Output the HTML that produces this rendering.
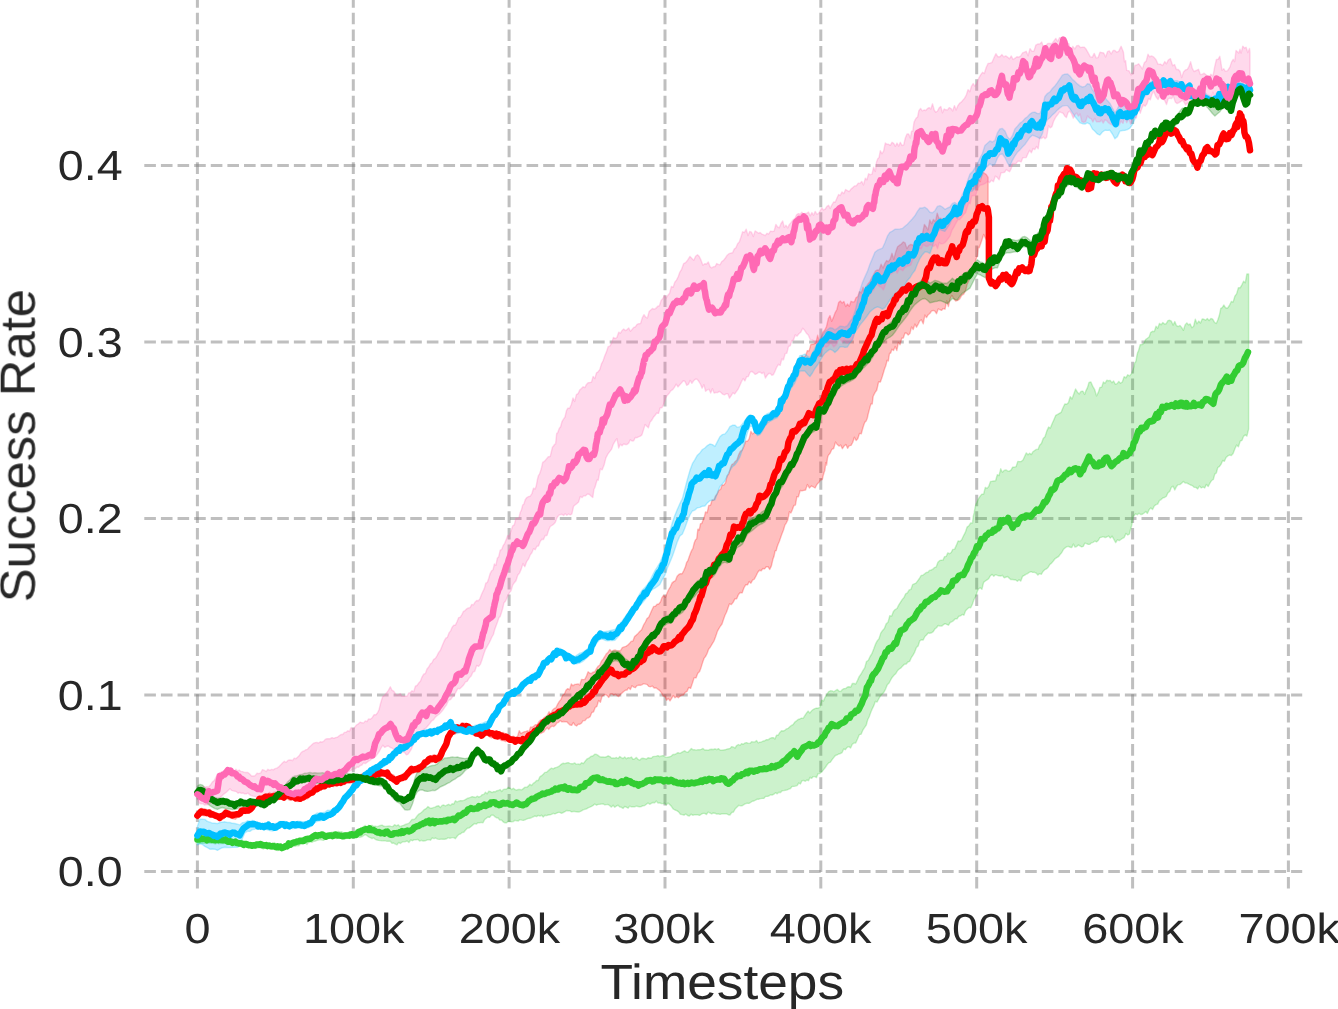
<!DOCTYPE html>
<html lang="en"><head><meta charset="utf-8"><title>Success Rate vs Timesteps</title>
<style>
html,body{margin:0;padding:0;background:#fff;}
body{width:1338px;height:1009px;overflow:hidden;font-family:"Liberation Sans",sans-serif;}
svg{display:block;}
</style></head><body>
<svg width="1338" height="1009" viewBox="0 0 1338 1009">
<rect width="1338" height="1009" fill="#ffffff"/>
<g stroke="#808080" stroke-opacity="0.5" stroke-width="3" stroke-dasharray="11.6 5.02" fill="none">
<path d="M197.4 888.6 V-8.0"/>
<path d="M353.3 888.6 V-8.0"/>
<path d="M509.1 888.6 V-8.0"/>
<path d="M665.0 888.6 V-8.0"/>
<path d="M820.8 888.6 V-8.0"/>
<path d="M976.7 888.6 V-8.0"/>
<path d="M1132.6 888.6 V-8.0"/>
<path d="M1288.4 888.6 V-8.0"/>
<path d="M144.3 871.5 H1302.2"/>
<path d="M144.3 695.0 H1302.2"/>
<path d="M144.3 518.5 H1302.2"/>
<path d="M144.3 342.0 H1302.2"/>
<path d="M144.3 165.5 H1302.2"/>
</g>
<g stroke-width="1.4" stroke-linejoin="round">
<path d="M196.3 838.7 L197.9 838.3 L199.5 837.8 L201.1 838.0 L202.7 837.6 L204.3 837.9 L205.9 838.0 L207.5 838.6 L209.2 839.5 L210.8 838.8 L212.4 839.3 L214.0 838.3 L215.6 839.7 L217.2 839.4 L218.8 838.6 L220.4 839.1 L222.0 838.6 L223.6 838.0 L225.2 839.9 L226.9 839.6 L228.5 840.0 L230.1 839.5 L231.7 839.6 L233.4 839.7 L235.1 840.1 L236.8 840.2 L238.4 840.8 L240.1 841.5 L241.8 840.5 L243.4 840.7 L245.1 841.6 L246.8 842.0 L248.4 842.0 L250.1 842.7 L251.8 842.9 L253.4 843.3 L255.1 843.7 L256.7 844.3 L258.4 842.3 L260.0 842.6 L261.6 844.5 L263.2 843.7 L264.8 843.8 L266.5 844.1 L268.1 844.5 L269.7 844.1 L271.3 844.1 L272.9 845.3 L274.6 842.6 L276.2 844.5 L277.8 845.3 L279.4 844.2 L281.0 845.7 L282.7 844.6 L284.3 845.0 L285.9 843.8 L287.5 843.8 L289.1 843.6 L290.7 842.5 L292.3 841.8 L293.9 841.7 L295.5 840.7 L297.1 841.0 L298.7 840.4 L300.4 839.4 L302.0 840.2 L303.6 838.2 L305.2 837.5 L306.9 837.5 L308.5 836.9 L310.2 835.7 L311.9 836.7 L313.5 835.2 L315.2 835.4 L316.9 834.8 L318.5 835.2 L320.2 835.0 L321.9 834.6 L323.5 833.6 L325.2 833.0 L326.9 833.4 L328.6 833.5 L330.2 832.9 L331.8 832.1 L333.4 832.1 L335.1 832.6 L336.7 831.9 L338.3 831.5 L339.9 831.9 L341.5 831.7 L343.1 832.6 L344.7 832.7 L346.3 832.7 L347.9 832.5 L349.5 831.7 L351.1 833.7 L352.8 833.7 L354.5 831.7 L356.3 829.7 L358.1 829.7 L359.9 828.7 L361.7 828.1 L363.5 826.8 L365.3 825.4 L366.9 827.0 L368.6 825.3 L370.3 826.7 L372.0 825.2 L373.6 826.5 L375.3 826.1 L377.0 826.7 L378.6 826.1 L380.3 825.5 L382.1 825.1 L383.9 826.3 L385.7 826.4 L387.5 826.1 L389.2 825.9 L391.0 826.4 L392.8 826.6 L394.6 824.7 L396.4 825.8 L398.2 824.8 L400.0 826.7 L401.8 825.8 L403.5 825.3 L405.3 824.5 L407.0 823.9 L408.7 823.4 L410.3 821.6 L412.0 819.4 L413.7 819.5 L415.4 818.5 L417.1 815.9 L418.9 814.1 L420.7 813.0 L422.5 811.5 L424.3 809.6 L426.1 808.6 L427.9 806.6 L429.7 807.9 L431.4 808.3 L433.2 807.7 L435.0 807.2 L436.8 806.1 L438.6 805.7 L440.4 807.4 L442.1 805.4 L443.7 805.0 L445.4 805.9 L447.1 805.0 L448.7 804.3 L450.4 805.5 L452.1 803.8 L453.7 804.1 L455.4 800.7 L457.1 801.9 L458.8 801.2 L460.4 800.6 L462.1 800.8 L463.8 800.4 L465.4 799.6 L467.1 798.5 L468.8 797.9 L470.4 797.4 L472.1 796.6 L473.8 797.0 L475.4 797.5 L477.1 796.2 L478.8 797.0 L480.5 796.4 L482.1 794.8 L483.8 794.4 L485.5 792.3 L487.1 793.8 L488.8 791.2 L490.5 791.6 L492.1 792.6 L493.7 791.6 L495.3 791.8 L496.9 790.7 L498.5 790.5 L500.1 789.5 L501.7 791.5 L503.4 789.4 L505.0 789.2 L506.6 789.1 L508.3 787.3 L510.0 788.1 L511.6 789.5 L513.3 788.2 L515.0 789.6 L516.6 790.1 L518.3 789.5 L519.9 789.5 L521.6 789.9 L523.3 788.6 L524.9 787.2 L526.6 787.4 L528.3 786.1 L529.9 784.2 L531.6 785.5 L533.2 783.4 L534.9 782.3 L536.6 780.5 L538.2 780.6 L539.9 776.8 L541.6 775.7 L543.2 774.3 L544.9 772.4 L546.6 772.3 L548.2 770.8 L549.9 769.2 L551.5 768.2 L553.2 768.8 L554.9 767.8 L556.5 767.4 L558.2 766.7 L559.9 765.5 L561.5 764.1 L563.2 763.2 L564.9 763.6 L566.5 763.0 L568.2 762.6 L569.8 763.4 L571.5 763.7 L573.2 763.7 L574.8 762.9 L576.5 764.4 L578.2 763.9 L579.8 764.5 L581.6 762.7 L583.4 763.6 L585.2 761.1 L587.0 759.0 L588.8 758.2 L590.8 756.5 L592.8 756.0 L594.8 754.3 L596.5 754.4 L598.1 755.4 L599.8 756.8 L601.4 757.0 L603.1 757.0 L604.8 757.2 L606.4 756.8 L608.1 755.8 L609.8 756.6 L611.4 758.1 L613.1 757.9 L614.8 758.2 L616.4 757.5 L618.1 758.5 L619.7 756.6 L621.4 757.7 L623.1 758.5 L624.7 756.9 L626.4 758.8 L628.1 757.6 L629.7 757.9 L631.4 757.0 L633.0 759.3 L634.7 758.8 L636.4 757.4 L638.0 759.3 L639.7 760.2 L641.4 758.5 L643.0 758.3 L644.7 758.6 L646.4 759.1 L648.0 757.8 L649.7 758.0 L651.3 758.2 L653.0 756.6 L654.7 756.4 L656.3 756.2 L658.0 755.6 L659.7 756.7 L661.3 755.9 L663.0 755.6 L664.7 756.7 L666.3 757.4 L668.0 757.1 L669.6 756.8 L671.3 756.1 L673.0 754.4 L674.6 754.5 L676.3 753.7 L678.0 752.6 L679.6 753.4 L681.3 752.6 L682.9 751.7 L684.6 750.8 L686.3 751.9 L687.9 752.3 L689.6 750.4 L691.3 748.6 L692.9 749.7 L694.6 749.7 L696.3 750.2 L697.9 749.7 L699.6 749.8 L701.3 749.3 L703.0 748.5 L704.7 750.0 L706.4 750.0 L708.1 750.3 L709.8 749.5 L711.6 749.3 L713.3 749.5 L715.0 748.8 L716.7 749.7 L718.4 748.6 L720.1 750.0 L721.8 750.2 L723.5 750.0 L725.2 749.8 L726.9 749.1 L728.6 748.8 L730.2 748.3 L731.8 746.6 L733.5 747.2 L735.1 748.0 L736.7 745.5 L738.4 744.5 L740.0 745.4 L741.6 743.6 L743.3 744.3 L744.9 743.0 L746.6 742.6 L748.2 743.4 L749.9 743.4 L751.6 741.8 L753.2 741.9 L754.9 741.9 L756.6 740.6 L758.2 742.9 L759.9 742.1 L761.5 741.9 L763.2 741.0 L764.9 740.7 L766.5 739.6 L768.2 739.7 L769.9 738.4 L771.5 737.8 L773.2 737.6 L774.9 739.1 L776.5 735.2 L778.2 735.2 L779.8 732.5 L781.5 730.8 L783.2 731.0 L784.8 730.3 L786.5 728.9 L788.2 728.3 L789.8 726.8 L791.5 725.4 L793.1 724.6 L794.8 722.1 L796.5 720.9 L798.1 719.5 L799.8 719.0 L801.5 718.1 L803.1 718.4 L804.8 715.7 L806.5 713.1 L808.1 711.1 L809.8 713.0 L811.4 711.1 L813.1 709.6 L814.8 708.7 L816.4 708.1 L818.1 708.2 L819.8 707.4 L821.6 700.1 L823.4 701.1 L825.1 697.3 L826.9 694.3 L828.7 691.6 L830.5 690.8 L832.2 690.9 L833.9 691.8 L835.6 690.5 L837.3 689.4 L839.0 691.1 L840.7 691.4 L842.4 689.5 L844.0 688.6 L845.7 688.5 L847.4 687.0 L849.0 686.8 L850.7 687.1 L852.4 683.4 L854.0 683.5 L855.7 684.0 L857.5 680.4 L859.3 676.4 L861.1 674.0 L862.9 670.7 L864.7 667.9 L866.5 661.5 L868.3 660.4 L870.1 656.5 L871.9 653.7 L873.7 649.1 L875.4 644.4 L877.2 640.9 L879.0 638.8 L880.8 633.1 L882.6 630.4 L884.4 628.6 L886.2 623.8 L888.0 622.3 L889.8 615.7 L891.6 616.2 L893.4 611.4 L895.2 609.5 L897.0 608.5 L898.8 604.9 L900.6 602.1 L902.3 599.4 L904.0 597.5 L905.7 593.8 L907.4 592.9 L909.2 589.9 L910.9 589.4 L912.6 584.7 L914.3 583.8 L916.0 583.1 L917.7 580.8 L919.4 578.5 L921.1 575.5 L922.8 575.3 L924.6 573.9 L926.2 572.5 L927.9 572.3 L929.5 570.4 L931.2 570.0 L932.9 569.2 L934.5 567.6 L936.2 566.9 L937.9 562.2 L939.5 560.7 L941.2 560.1 L942.8 560.4 L944.5 556.8 L946.2 556.4 L947.8 552.9 L949.5 553.7 L951.2 552.5 L952.8 549.4 L954.5 549.4 L956.3 545.4 L958.1 540.9 L959.9 541.5 L961.7 539.7 L963.5 535.8 L965.3 532.4 L967.1 527.1 L968.9 525.7 L970.7 523.0 L972.5 522.9 L973.3 516.3 L974.2 512.7 L975.0 508.0 L975.9 504.3 L976.8 502.6 L978.5 498.8 L980.2 496.1 L981.9 494.1 L983.6 494.1 L985.3 487.4 L987.0 488.4 L988.7 486.4 L990.5 481.5 L992.2 481.3 L993.9 481.0 L995.6 480.8 L997.3 474.7 L999.0 475.6 L1000.7 468.8 L1002.4 472.2 L1004.1 470.4 L1005.9 469.9 L1007.6 470.9 L1009.3 471.2 L1011.0 470.1 L1012.7 467.1 L1014.4 467.2 L1016.1 466.6 L1017.8 461.4 L1019.5 461.6 L1021.2 461.5 L1023.0 460.0 L1024.7 456.2 L1026.3 452.9 L1028.0 454.8 L1029.7 453.3 L1031.3 454.6 L1033.0 451.7 L1034.7 450.5 L1036.3 449.4 L1038.0 449.4 L1039.6 445.2 L1041.4 443.4 L1043.2 438.6 L1045.0 436.7 L1046.8 431.1 L1048.6 427.1 L1050.4 428.1 L1052.2 423.5 L1054.0 419.5 L1055.8 415.3 L1057.6 414.4 L1059.4 413.3 L1061.2 412.3 L1063.0 407.8 L1064.8 404.0 L1066.6 404.3 L1068.4 402.7 L1070.2 396.7 L1072.0 399.0 L1073.8 394.1 L1075.6 389.0 L1077.4 392.2 L1079.2 393.9 L1081.0 391.5 L1082.8 391.1 L1084.6 394.4 L1086.0 390.6 L1087.5 387.6 L1089.0 382.4 L1090.9 382.0 L1092.8 386.4 L1094.7 389.7 L1096.5 395.9 L1098.2 392.7 L1099.9 387.5 L1101.7 387.1 L1103.4 382.0 L1105.1 383.2 L1106.8 380.3 L1108.5 380.7 L1110.2 380.4 L1111.9 382.7 L1113.6 381.0 L1115.3 384.3 L1117.1 383.7 L1118.8 381.4 L1120.5 383.3 L1122.3 382.0 L1124.1 376.7 L1125.9 377.8 L1127.7 374.8 L1129.5 375.9 L1131.7 373.5 L1134.0 366.8 L1134.7 362.9 L1135.4 362.5 L1136.2 360.1 L1136.9 355.6 L1137.7 352.3 L1138.4 351.2 L1140.2 344.8 L1142.0 344.6 L1143.8 343.5 L1145.6 339.5 L1147.4 338.3 L1149.1 337.0 L1150.8 332.3 L1152.6 331.3 L1154.3 331.6 L1156.0 326.3 L1157.7 328.2 L1159.4 323.4 L1161.1 324.8 L1162.8 322.6 L1164.5 324.1 L1166.2 323.7 L1168.0 320.6 L1169.7 320.3 L1171.4 321.2 L1173.1 325.1 L1174.8 321.6 L1176.5 325.7 L1178.2 326.5 L1179.9 325.5 L1181.6 327.4 L1183.4 330.3 L1185.1 324.9 L1186.8 322.9 L1188.5 324.8 L1190.2 324.0 L1191.9 327.7 L1193.6 326.3 L1195.3 319.3 L1197.0 323.7 L1198.8 321.1 L1200.5 323.0 L1202.2 319.0 L1203.9 319.3 L1205.6 320.2 L1207.3 318.5 L1209.1 320.6 L1210.9 318.5 L1212.7 319.1 L1214.5 322.4 L1216.3 323.5 L1217.8 320.0 L1219.3 315.6 L1220.8 308.3 L1222.3 307.6 L1223.8 305.0 L1225.6 307.8 L1227.5 308.2 L1229.4 305.5 L1231.3 301.5 L1233.1 302.1 L1234.9 296.1 L1236.6 293.9 L1238.4 287.8 L1240.2 287.8 L1241.9 284.8 L1243.6 281.2 L1245.3 282.7 L1246.9 274.0 L1248.6 273.9 L1248.6 429.2 L1246.9 436.1 L1245.3 434.9 L1243.6 436.3 L1241.9 440.4 L1240.2 441.2 L1238.4 446.7 L1236.6 445.1 L1234.9 448.7 L1233.1 453.5 L1231.3 455.6 L1229.5 455.0 L1227.8 455.9 L1226.1 457.5 L1224.4 461.3 L1222.7 460.5 L1221.0 464.4 L1219.3 466.7 L1217.8 467.5 L1216.3 473.0 L1214.8 474.1 L1213.3 479.5 L1211.6 480.5 L1209.9 483.2 L1208.2 486.5 L1206.4 484.4 L1204.7 487.9 L1203.0 487.0 L1201.3 487.9 L1199.5 486.0 L1197.7 488.9 L1195.9 487.4 L1194.1 487.3 L1192.3 485.6 L1190.5 485.0 L1188.7 484.0 L1186.9 483.1 L1185.1 483.1 L1183.4 481.6 L1181.6 483.2 L1179.9 484.6 L1178.2 484.6 L1176.5 486.5 L1174.8 490.0 L1173.1 486.2 L1171.4 487.3 L1169.7 491.5 L1168.0 492.7 L1166.2 496.5 L1164.5 497.5 L1162.8 497.9 L1161.1 499.6 L1159.4 500.6 L1157.7 504.1 L1156.0 504.6 L1154.3 506.0 L1152.6 509.5 L1150.8 507.9 L1149.1 509.8 L1147.4 513.4 L1145.7 511.6 L1144.1 513.0 L1142.4 514.2 L1140.7 514.5 L1139.0 513.2 L1137.3 514.7 L1135.6 513.8 L1134.0 515.8 L1133.1 516.4 L1132.2 523.0 L1131.3 527.1 L1130.4 529.7 L1129.5 533.9 L1127.8 535.0 L1126.0 533.4 L1124.3 537.3 L1122.6 538.3 L1120.9 539.5 L1119.2 540.6 L1117.5 539.8 L1115.7 542.6 L1113.9 539.3 L1112.1 536.2 L1110.3 538.1 L1108.5 536.0 L1106.8 537.0 L1105.1 537.6 L1103.4 536.6 L1101.7 537.2 L1099.9 537.7 L1098.2 540.5 L1096.5 541.9 L1094.9 541.1 L1093.2 542.3 L1091.5 542.8 L1089.9 544.3 L1088.2 544.4 L1086.5 543.6 L1084.9 543.1 L1083.2 546.4 L1081.6 546.9 L1079.9 545.8 L1078.3 544.9 L1076.7 546.6 L1075.0 547.1 L1073.4 544.0 L1071.8 547.5 L1070.2 547.3 L1068.5 546.4 L1066.9 546.6 L1065.3 547.8 L1063.6 549.2 L1061.8 552.5 L1060.1 554.5 L1058.4 556.7 L1056.7 557.7 L1055.0 558.8 L1053.3 561.0 L1051.6 563.1 L1049.9 564.4 L1048.2 567.2 L1046.4 568.9 L1044.7 569.7 L1043.0 571.5 L1041.3 574.3 L1039.6 573.6 L1037.9 575.1 L1036.2 573.1 L1034.5 572.3 L1032.8 572.4 L1031.1 571.7 L1029.3 572.3 L1027.6 573.6 L1025.9 574.3 L1024.2 575.4 L1022.5 576.4 L1020.8 581.1 L1019.1 579.8 L1017.4 581.2 L1015.7 580.0 L1014.0 579.7 L1012.4 579.5 L1010.7 579.5 L1009.0 577.9 L1007.4 576.5 L1005.7 577.3 L1004.1 577.7 L1002.4 575.3 L1000.7 576.0 L999.0 575.9 L997.3 575.3 L995.6 574.6 L993.8 576.3 L992.1 574.4 L990.4 575.7 L988.7 578.7 L987.0 579.9 L985.3 581.0 L983.6 582.4 L981.9 589.3 L980.2 587.8 L978.4 589.0 L977.2 591.8 L976.0 596.0 L974.9 597.8 L973.7 600.2 L972.5 603.9 L970.7 607.7 L969.0 607.4 L967.3 609.1 L965.6 610.8 L963.9 615.2 L962.2 614.4 L960.5 615.9 L958.8 616.2 L957.1 618.8 L955.3 618.8 L953.6 620.6 L951.9 621.8 L950.2 622.4 L948.5 625.2 L946.8 624.4 L945.1 623.7 L943.4 624.7 L941.7 626.1 L939.9 626.1 L938.2 625.5 L936.5 627.7 L934.9 628.9 L933.2 631.7 L931.5 632.8 L929.9 633.2 L928.2 633.0 L926.5 635.0 L924.9 636.5 L923.2 640.0 L921.6 639.7 L919.8 640.8 L918.1 646.0 L916.4 647.5 L914.7 652.1 L913.0 655.2 L911.3 657.7 L909.6 661.4 L907.9 662.0 L906.2 664.0 L904.4 664.2 L902.7 665.9 L901.0 667.9 L899.3 669.0 L897.6 670.5 L895.9 673.4 L894.2 675.1 L892.5 676.9 L890.8 679.7 L889.1 683.0 L887.3 684.7 L885.6 689.1 L883.9 692.2 L882.2 694.0 L880.5 695.9 L878.8 698.7 L877.1 702.0 L875.4 701.3 L873.7 705.9 L872.2 708.9 L870.7 712.5 L869.2 716.7 L867.7 719.7 L866.2 725.2 L864.7 727.3 L862.9 730.0 L861.1 734.2 L859.3 734.7 L857.5 739.0 L855.7 743.0 L854.0 743.1 L852.3 744.3 L850.6 748.0 L848.8 746.6 L847.1 747.4 L845.4 749.7 L843.7 749.0 L842.0 752.7 L840.4 753.5 L838.7 754.0 L837.1 754.9 L835.4 755.5 L833.7 757.6 L832.1 759.7 L830.4 762.2 L828.7 762.9 L826.9 765.0 L825.1 767.8 L823.4 769.9 L821.6 772.0 L819.8 773.6 L818.1 773.6 L816.5 777.6 L814.9 776.6 L813.3 776.6 L811.7 778.3 L810.1 777.3 L808.5 780.7 L806.9 780.0 L805.3 781.3 L803.6 780.4 L802.0 780.7 L800.4 784.0 L798.8 783.0 L797.1 785.6 L795.5 786.1 L793.8 786.4 L792.1 786.4 L790.5 788.5 L788.8 789.1 L787.2 789.9 L785.5 790.2 L783.8 790.6 L782.2 790.7 L780.5 792.5 L778.8 792.3 L777.2 793.8 L775.5 792.7 L773.9 794.2 L772.2 795.0 L770.5 794.8 L768.9 796.0 L767.2 796.4 L765.5 796.4 L763.9 798.4 L762.2 798.4 L760.5 798.6 L758.9 799.2 L757.2 799.2 L755.6 800.1 L753.9 801.0 L752.2 801.2 L750.6 802.5 L748.9 803.4 L747.2 803.2 L745.6 803.6 L743.9 804.6 L742.2 805.8 L740.6 805.8 L738.9 805.3 L737.1 807.0 L735.3 808.7 L733.5 812.0 L731.7 812.5 L729.9 815.1 L728.3 814.7 L726.6 813.8 L725.0 813.9 L723.3 813.9 L721.6 813.9 L720.0 814.4 L718.3 813.8 L716.6 814.1 L715.0 813.2 L713.3 813.0 L711.6 813.8 L709.8 812.8 L708.1 812.1 L706.4 814.5 L704.7 813.4 L703.0 813.4 L701.3 814.2 L699.6 815.4 L697.9 814.9 L696.2 814.9 L694.4 814.9 L692.7 815.2 L691.0 814.2 L689.3 816.0 L687.6 815.5 L685.8 814.0 L684.0 815.2 L682.2 814.6 L680.4 814.3 L678.6 811.9 L676.8 810.7 L675.0 810.0 L673.2 809.0 L671.4 806.3 L669.6 804.6 L668.0 803.1 L666.3 804.9 L664.7 803.2 L663.0 803.6 L661.3 803.5 L659.7 802.9 L658.0 803.1 L656.3 801.1 L654.7 802.7 L653.0 802.5 L651.3 803.3 L649.7 804.3 L648.0 803.0 L646.4 804.2 L644.7 805.5 L643.0 805.7 L641.4 806.5 L639.7 806.9 L638.0 806.5 L636.4 806.1 L634.7 806.8 L633.0 806.9 L631.4 806.8 L629.7 806.1 L628.1 808.2 L626.4 807.2 L624.7 806.5 L623.1 808.4 L621.4 807.3 L619.7 806.9 L618.1 805.2 L616.4 806.0 L614.8 807.2 L613.1 805.2 L611.4 807.1 L609.8 805.8 L608.1 804.5 L606.4 804.6 L604.8 804.8 L603.1 803.9 L601.4 804.1 L599.8 804.3 L598.1 804.4 L596.5 805.2 L594.8 804.0 L593.1 805.4 L591.5 806.4 L589.8 807.2 L588.1 807.8 L586.5 808.9 L584.8 809.3 L583.1 809.8 L581.5 810.9 L579.8 811.7 L578.2 812.0 L576.5 811.9 L574.8 811.5 L573.2 811.5 L571.5 811.9 L569.8 810.7 L568.2 810.8 L566.5 810.5 L564.9 811.7 L563.2 812.5 L561.5 813.3 L559.9 812.4 L558.2 812.4 L556.5 813.2 L554.9 813.9 L553.2 813.3 L551.5 814.3 L549.9 814.9 L548.2 815.0 L546.6 815.6 L544.9 815.3 L543.2 816.9 L541.6 815.2 L539.9 816.1 L538.2 815.4 L536.6 816.6 L534.9 816.0 L533.2 816.8 L531.6 817.6 L529.9 818.3 L528.3 818.4 L526.6 819.1 L524.9 819.9 L523.3 820.4 L521.6 820.1 L519.9 819.6 L518.3 821.0 L516.6 820.8 L515.0 820.3 L513.3 821.6 L511.6 821.9 L510.0 821.5 L508.3 821.3 L506.6 822.8 L505.0 822.8 L503.3 822.0 L501.5 820.1 L499.8 820.1 L498.1 818.0 L496.4 817.7 L494.7 816.6 L493.0 815.1 L491.3 815.2 L489.6 817.4 L488.0 817.0 L486.3 818.3 L484.6 819.6 L483.0 822.8 L481.3 822.4 L479.6 822.7 L477.9 822.7 L476.3 824.1 L474.6 823.5 L472.9 824.9 L471.1 826.4 L469.2 827.9 L467.3 828.3 L465.4 830.3 L463.8 832.2 L462.1 832.5 L460.4 834.0 L458.8 834.4 L457.1 836.3 L455.4 838.7 L453.6 837.6 L451.8 837.6 L450.0 838.3 L448.3 837.6 L446.5 838.8 L444.7 839.2 L442.9 839.3 L441.1 839.1 L439.3 839.4 L437.5 839.1 L435.7 838.0 L434.0 838.6 L432.2 838.0 L430.4 840.2 L428.6 839.6 L426.8 840.2 L425.0 840.8 L423.2 841.0 L421.4 840.3 L419.6 841.1 L417.9 839.4 L416.1 839.8 L414.3 839.7 L412.5 840.7 L410.7 840.0 L408.9 842.5 L407.1 841.0 L405.3 841.7 L403.7 841.6 L402.0 842.2 L400.3 843.5 L398.7 842.4 L397.0 844.8 L395.3 844.1 L393.7 843.0 L392.0 843.3 L390.3 841.2 L388.6 841.3 L387.0 841.3 L385.3 840.8 L383.6 840.9 L382.0 840.8 L380.3 840.6 L378.6 840.4 L377.0 840.0 L375.3 839.3 L373.6 837.9 L372.0 838.5 L370.3 837.7 L368.6 836.9 L366.9 835.5 L365.3 834.7 L363.5 835.6 L361.7 836.8 L359.9 837.2 L358.1 837.1 L356.3 837.0 L354.5 837.1 L352.8 838.1 L351.1 837.3 L349.5 838.5 L347.9 838.0 L346.3 838.4 L344.7 839.0 L343.1 838.7 L341.5 837.6 L339.9 837.5 L338.3 836.9 L336.7 838.6 L335.1 838.0 L333.4 837.7 L331.8 838.5 L330.2 837.3 L328.6 838.1 L326.9 838.4 L325.2 839.1 L323.5 840.4 L321.9 840.1 L320.2 839.6 L318.5 840.0 L316.9 840.4 L315.2 841.2 L313.5 841.3 L311.9 842.4 L310.2 841.3 L308.5 842.0 L306.9 844.5 L305.2 842.1 L303.6 843.3 L302.0 844.1 L300.4 844.3 L298.7 845.9 L297.1 845.5 L295.5 846.2 L293.9 846.3 L292.3 846.6 L290.7 847.3 L289.1 847.5 L287.5 847.1 L285.9 849.3 L284.3 849.6 L282.7 849.7 L281.0 849.5 L279.4 848.4 L277.8 850.5 L276.2 849.3 L274.6 849.8 L272.9 848.1 L271.3 848.7 L269.7 848.3 L268.1 847.6 L266.5 847.7 L264.8 847.7 L263.2 849.1 L261.6 847.6 L260.0 847.9 L258.4 847.6 L256.7 848.3 L255.1 847.6 L253.4 846.8 L251.8 847.0 L250.1 847.5 L248.4 846.5 L246.8 846.9 L245.1 845.8 L243.4 846.8 L241.8 844.3 L240.1 845.7 L238.4 845.1 L236.8 844.5 L235.1 844.0 L233.4 844.3 L231.7 844.3 L230.1 843.1 L228.5 842.8 L226.9 844.4 L225.2 842.8 L223.6 843.6 L222.0 843.6 L220.4 843.5 L218.8 843.8 L217.2 842.7 L215.6 844.0 L214.0 843.5 L212.4 842.4 L210.8 843.3 L209.2 843.0 L207.5 843.2 L205.9 843.4 L204.3 843.3 L202.7 843.4 L201.1 843.2 L199.5 843.9 L197.9 843.0 L196.3 843.1 Z" fill="#32cd32" fill-opacity="0.25" stroke="#32cd32" stroke-opacity="0.25"/>
<path d="M197.4 812.3 L199.4 810.0 L201.4 808.2 L203.4 809.1 L205.4 808.9 L207.4 810.2 L209.4 810.3 L211.4 810.5 L213.4 812.1 L215.4 812.5 L217.4 813.3 L219.4 814.2 L221.4 813.3 L223.4 811.9 L225.4 809.4 L227.4 810.9 L229.4 810.8 L231.4 812.2 L233.4 812.0 L235.4 812.2 L237.4 811.4 L239.4 810.8 L241.4 809.0 L243.4 807.1 L245.4 807.3 L247.4 807.4 L249.4 806.0 L251.4 805.7 L253.4 801.5 L255.4 799.9 L257.4 798.6 L259.4 797.0 L261.4 795.9 L263.4 794.9 L265.4 793.9 L267.4 794.4 L269.4 792.4 L271.4 794.1 L273.4 792.5 L275.4 792.0 L277.4 792.9 L279.4 792.3 L281.4 792.4 L283.4 793.7 L285.4 792.7 L287.4 792.6 L289.4 792.5 L291.4 793.8 L293.4 794.1 L295.4 793.9 L297.4 794.6 L299.4 795.3 L301.4 794.7 L303.4 794.0 L305.4 793.3 L307.4 791.8 L309.4 790.0 L311.4 788.8 L313.4 786.2 L315.4 786.0 L317.4 784.8 L319.4 783.9 L321.4 782.9 L323.4 782.5 L325.4 781.5 L327.4 780.7 L329.4 780.0 L331.4 781.1 L333.4 779.5 L335.4 779.8 L337.4 779.8 L339.4 778.6 L341.4 778.9 L343.4 777.3 L345.4 776.9 L347.4 777.6 L349.4 776.7 L351.4 775.6 L353.4 776.3 L355.4 775.3 L357.4 775.8 L359.4 775.2 L361.4 774.1 L363.4 773.2 L365.4 774.5 L367.4 774.2 L369.4 772.9 L371.4 772.3 L373.4 771.2 L375.4 771.7 L377.4 771.3 L379.4 769.9 L381.4 769.5 L383.4 770.1 L385.4 770.3 L387.4 771.0 L389.4 772.5 L391.4 774.2 L393.4 774.8 L395.4 777.3 L397.4 776.4 L399.4 776.4 L401.4 774.7 L403.4 773.3 L405.4 772.6 L407.4 769.6 L409.4 768.6 L411.4 766.8 L413.4 767.2 L415.4 766.9 L417.4 765.7 L419.4 764.7 L421.4 763.7 L423.4 761.3 L425.4 759.4 L427.4 758.0 L429.4 755.8 L431.4 756.0 L433.4 754.8 L435.4 755.1 L437.4 754.9 L439.4 754.3 L441.4 750.5 L443.4 746.3 L445.4 742.6 L447.4 737.3 L449.4 732.0 L451.4 729.6 L453.4 726.8 L455.4 727.2 L457.4 726.6 L459.4 725.5 L461.4 722.9 L463.4 722.9 L465.4 723.4 L467.4 724.5 L469.4 724.9 L471.4 726.2 L473.4 728.3 L475.4 729.7 L477.4 730.4 L479.4 730.8 L481.4 730.3 L483.4 729.9 L485.4 728.9 L487.4 728.8 L489.4 729.5 L491.4 731.4 L493.4 731.7 L495.4 732.1 L497.4 732.6 L499.4 733.1 L501.4 733.2 L503.4 732.5 L505.4 734.6 L507.4 735.2 L509.4 735.9 L511.4 737.0 L513.4 736.2 L515.4 737.5 L517.4 736.9 L519.2 730.7 L520.9 733.6 L522.5 732.6 L524.1 731.8 L525.7 731.6 L527.3 730.8 L528.9 731.8 L530.6 726.9 L532.2 727.2 L533.9 726.1 L535.6 724.6 L537.2 724.8 L538.9 721.7 L540.6 719.9 L542.2 721.8 L543.9 717.7 L545.6 716.5 L547.3 715.4 L549.0 711.7 L550.7 714.2 L552.4 710.3 L554.2 708.6 L555.9 707.7 L557.6 704.3 L559.3 701.4 L561.0 699.4 L562.7 695.1 L564.4 694.1 L566.1 690.0 L567.8 688.6 L569.6 689.7 L571.3 684.0 L573.0 685.7 L574.7 684.4 L576.4 684.3 L578.1 683.9 L579.8 685.0 L581.5 679.4 L583.1 679.6 L584.8 679.4 L586.5 676.0 L588.1 671.8 L589.8 673.2 L591.5 673.6 L593.1 672.1 L594.8 671.8 L596.5 668.6 L598.1 666.2 L599.8 665.0 L601.4 661.3 L603.1 659.1 L604.8 656.5 L606.4 653.7 L608.1 652.2 L609.8 649.5 L611.6 651.8 L613.4 650.5 L615.1 649.9 L616.9 650.9 L618.7 650.7 L620.5 650.7 L622.3 647.6 L624.1 646.9 L625.9 646.3 L627.7 645.2 L629.4 643.6 L631.1 641.4 L632.9 641.0 L634.6 636.5 L636.3 635.1 L638.0 633.4 L639.7 631.5 L641.6 629.7 L643.5 625.2 L645.4 622.0 L647.0 618.6 L648.7 617.3 L650.4 613.5 L652.0 609.8 L653.7 606.4 L655.4 606.3 L657.1 604.3 L658.7 604.0 L660.4 602.0 L662.1 597.3 L663.7 595.2 L665.4 597.2 L667.1 593.0 L668.7 589.5 L670.4 586.8 L672.1 582.9 L673.7 581.6 L675.4 580.7 L677.1 576.2 L678.8 574.5 L680.4 573.7 L682.1 573.8 L683.8 570.5 L685.4 566.7 L686.7 562.3 L687.9 560.6 L689.2 556.7 L690.4 553.4 L691.7 550.4 L692.9 548.4 L694.2 543.0 L695.4 540.0 L696.7 538.8 L697.9 529.1 L699.2 530.1 L700.5 523.7 L701.7 523.6 L703.0 520.2 L704.2 517.4 L705.5 511.9 L707.1 512.8 L708.8 505.4 L710.5 505.2 L712.1 500.0 L713.8 500.0 L715.5 496.0 L717.1 493.9 L718.8 490.4 L720.5 489.4 L722.1 484.9 L723.8 485.1 L725.5 482.9 L727.1 475.9 L728.7 474.0 L730.4 468.1 L732.0 464.3 L733.6 463.7 L735.2 461.5 L736.9 460.0 L738.5 455.1 L740.3 451.4 L742.1 450.2 L743.9 446.5 L745.7 441.2 L747.5 441.2 L749.2 438.7 L750.9 431.4 L752.6 433.9 L754.3 432.4 L756.0 432.5 L757.8 426.2 L759.5 426.4 L761.2 423.6 L762.9 425.7 L764.6 420.3 L766.3 424.4 L768.0 417.4 L769.7 418.3 L771.4 414.2 L773.2 413.4 L775.0 410.7 L776.8 409.6 L778.6 406.6 L780.4 402.8 L782.2 397.7 L784.0 397.4 L785.8 389.4 L787.6 389.1 L789.4 383.8 L790.7 384.0 L792.0 377.0 L793.3 370.3 L794.5 370.5 L795.8 364.1 L797.1 362.7 L798.4 366.7 L800.2 360.1 L802.0 355.8 L803.8 357.3 L805.6 355.7 L807.4 350.6 L809.1 350.9 L810.8 344.6 L812.5 344.3 L814.2 343.8 L815.9 342.8 L817.6 335.3 L819.3 341.4 L821.1 338.6 L822.9 332.3 L824.7 330.2 L826.5 326.5 L828.3 318.7 L830.0 315.6 L831.7 321.2 L833.5 317.1 L835.2 312.6 L836.9 309.5 L838.6 302.6 L840.3 301.1 L842.1 303.0 L843.9 301.5 L845.7 306.5 L847.5 303.9 L849.3 306.3 L851.0 301.3 L852.7 301.9 L854.4 301.8 L856.1 297.5 L857.8 296.6 L859.5 291.6 L861.3 292.9 L863.0 287.3 L864.7 292.9 L866.4 286.4 L868.2 283.7 L869.9 281.6 L871.8 277.7 L873.6 274.6 L875.5 270.9 L877.4 270.0 L879.2 269.9 L881.1 264.2 L883.0 268.0 L884.9 263.3 L886.6 260.6 L888.4 261.7 L890.2 259.0 L892.0 253.3 L893.8 259.3 L895.7 252.0 L897.6 246.7 L899.4 245.4 L901.3 244.0 L903.2 241.9 L905.1 242.9 L906.9 248.6 L908.8 245.5 L910.8 244.4 L912.8 245.0 L914.8 248.7 L916.8 248.3 L918.8 240.4 L920.8 236.4 L922.6 233.1 L924.4 224.4 L926.2 226.9 L928.0 230.0 L929.8 219.9 L931.6 223.6 L933.5 219.4 L935.4 221.8 L937.2 213.2 L939.1 218.7 L941.0 218.3 L942.9 220.9 L944.7 219.3 L946.6 218.9 L948.5 217.4 L950.3 213.1 L952.2 210.4 L954.1 207.7 L956.0 210.9 L957.8 207.4 L959.7 206.9 L961.6 203.5 L963.4 202.7 L965.3 199.3 L967.2 197.0 L969.1 189.9 L970.9 188.9 L972.8 188.6 L974.7 185.3 L976.5 184.9 L978.4 178.3 L980.3 181.6 L982.2 171.7 L984.2 173.2 L986.1 174.3 L988.1 177.4 L988.1 241.8 L985.9 239.1 L983.7 234.5 L981.4 241.5 L979.2 247.8 L978.3 247.3 L977.4 255.9 L976.5 257.8 L975.6 260.4 L974.7 265.6 L973.9 265.9 L973.2 268.9 L972.4 272.5 L971.7 274.8 L970.2 277.9 L968.7 280.9 L967.2 284.2 L965.7 290.2 L963.7 294.1 L961.7 295.3 L959.7 299.0 L957.7 300.4 L955.7 301.0 L953.8 298.6 L951.8 295.5 L950.1 298.9 L948.4 306.5 L946.7 300.8 L945.0 309.2 L943.2 308.6 L941.5 310.4 L939.8 309.6 L938.2 309.0 L936.5 313.7 L934.8 311.1 L933.2 310.4 L931.5 311.1 L929.8 313.5 L928.2 314.7 L926.5 317.6 L924.9 315.1 L923.2 323.8 L921.5 320.0 L919.9 320.6 L918.2 324.1 L916.5 327.2 L914.9 324.1 L913.2 329.5 L911.5 327.1 L909.9 333.6 L908.2 335.1 L906.6 333.3 L905.0 333.0 L903.3 338.0 L901.7 338.3 L900.1 344.7 L898.4 342.6 L896.8 350.5 L895.2 346.4 L893.5 350.5 L891.9 349.2 L890.7 353.0 L889.5 353.5 L888.3 361.0 L887.1 360.3 L885.9 365.4 L884.6 368.8 L883.4 372.8 L882.2 376.7 L880.4 382.0 L878.6 381.9 L876.8 390.0 L875.0 392.6 L873.2 396.2 L872.2 404.0 L871.2 403.6 L870.2 406.3 L869.2 410.2 L868.2 414.0 L867.2 418.5 L866.0 421.2 L864.9 422.1 L863.7 425.3 L862.5 429.3 L861.3 433.7 L859.5 433.4 L857.8 438.7 L856.1 440.5 L854.4 437.2 L852.7 442.5 L851.0 445.4 L849.3 445.6 L847.6 448.3 L845.9 444.5 L844.1 446.1 L842.4 448.7 L840.7 445.1 L839.0 446.1 L837.3 444.6 L835.5 442.1 L833.7 448.5 L831.9 449.3 L830.1 453.3 L828.3 455.4 L827.5 457.9 L826.6 465.1 L825.8 462.6 L824.9 470.2 L824.0 472.8 L823.2 475.6 L822.3 479.6 L820.5 480.1 L818.7 482.6 L816.9 484.5 L815.1 488.0 L813.4 487.0 L811.4 485.9 L809.4 488.0 L807.4 484.6 L805.6 490.0 L803.8 490.4 L802.0 490.8 L800.2 490.5 L798.4 496.8 L796.9 496.7 L795.4 505.1 L793.9 505.4 L792.4 509.6 L790.9 513.0 L789.4 511.8 L787.9 519.6 L786.4 522.8 L784.9 525.1 L783.4 530.3 L781.9 534.1 L780.4 538.2 L779.3 541.4 L778.3 543.8 L777.2 546.8 L776.1 550.9 L775.1 551.0 L774.0 556.3 L772.9 559.3 L771.4 565.9 L769.7 569.4 L768.0 566.7 L766.3 566.7 L764.6 568.9 L762.9 568.5 L761.2 570.7 L759.5 570.3 L757.8 572.3 L756.0 576.0 L754.3 579.1 L752.6 580.1 L750.9 583.2 L749.2 581.6 L747.5 584.9 L745.7 584.8 L743.9 588.0 L742.1 592.9 L740.3 592.5 L738.5 594.4 L736.7 598.7 L734.9 598.9 L733.1 602.4 L731.3 604.6 L729.5 603.8 L728.0 608.1 L726.5 612.3 L725.0 615.3 L723.5 619.5 L722.0 624.0 L720.5 626.0 L719.0 628.4 L717.5 631.1 L715.7 636.5 L714.0 641.0 L712.2 643.9 L710.4 647.0 L708.6 649.3 L707.1 653.5 L705.6 656.4 L704.1 658.2 L702.6 662.6 L701.1 667.4 L699.6 671.4 L697.8 673.2 L696.0 677.9 L694.2 677.6 L692.4 683.3 L690.6 688.4 L688.8 687.4 L687.0 691.4 L685.2 692.4 L683.4 695.1 L681.6 695.3 L680.0 696.2 L678.3 697.7 L676.6 696.5 L675.0 697.8 L673.3 695.5 L671.6 698.4 L670.0 700.9 L668.3 698.5 L666.6 700.2 L664.9 696.4 L663.1 696.1 L661.3 692.6 L659.5 690.4 L657.7 689.1 L655.9 687.8 L654.1 688.0 L652.3 686.1 L650.5 686.7 L648.7 686.4 L647.0 684.4 L645.4 684.1 L643.7 683.6 L642.0 684.8 L640.4 685.3 L638.7 685.3 L637.0 685.6 L635.4 687.7 L633.7 687.1 L632.0 685.8 L630.4 689.6 L628.7 687.7 L627.1 690.0 L625.4 690.2 L623.7 691.5 L622.1 692.9 L620.4 694.5 L618.7 696.5 L617.1 695.8 L615.4 694.3 L613.8 695.2 L612.1 693.9 L610.4 694.1 L608.8 697.4 L607.1 695.6 L605.4 694.5 L603.8 695.2 L602.1 696.4 L600.4 702.3 L598.6 700.4 L596.9 706.4 L595.2 707.5 L593.5 711.9 L591.8 712.5 L590.1 716.7 L588.4 717.8 L586.7 718.3 L585.0 720.6 L583.2 720.6 L581.5 723.1 L579.8 724.3 L578.2 724.3 L576.6 726.0 L574.9 725.0 L573.3 722.5 L571.7 725.4 L570.0 725.0 L568.4 723.5 L566.8 721.8 L565.1 721.7 L563.5 721.5 L561.9 721.9 L560.2 720.5 L558.6 722.3 L557.0 722.8 L555.3 725.3 L553.7 726.6 L552.1 726.1 L550.4 727.3 L548.8 729.4 L547.2 727.8 L545.5 729.4 L543.9 731.9 L542.2 732.7 L540.6 733.6 L538.9 733.1 L537.2 733.8 L535.6 736.4 L533.9 734.9 L532.2 738.9 L530.6 738.1 L528.9 739.7 L527.3 740.6 L525.7 739.0 L524.1 739.7 L522.5 740.0 L520.9 739.7 L519.2 741.0 L517.4 743.3 L515.4 743.8 L513.4 742.6 L511.4 742.6 L509.4 740.9 L507.4 740.8 L505.4 741.5 L503.4 740.5 L501.4 740.5 L499.4 739.0 L497.4 738.9 L495.4 738.6 L493.4 737.4 L491.4 738.0 L489.4 736.8 L487.4 735.2 L485.4 735.0 L483.4 736.6 L481.4 737.0 L479.4 736.3 L477.4 736.2 L475.4 735.5 L473.4 735.1 L471.4 733.4 L469.4 731.5 L467.4 730.9 L465.4 730.6 L463.4 729.0 L461.4 729.5 L459.4 730.5 L457.4 732.2 L455.4 734.1 L453.4 734.2 L451.4 735.3 L449.4 737.2 L447.4 743.5 L445.4 748.8 L443.4 752.1 L441.4 756.0 L439.4 759.0 L437.4 760.3 L435.4 762.0 L433.4 761.7 L431.4 762.5 L429.4 763.3 L427.4 764.5 L425.4 766.3 L423.4 767.1 L421.4 769.3 L419.4 771.3 L417.4 772.0 L415.4 772.4 L413.4 773.2 L411.4 774.0 L409.4 775.3 L407.4 776.3 L405.4 778.7 L403.4 778.7 L401.4 781.1 L399.4 782.2 L397.4 784.1 L395.4 783.3 L393.4 782.2 L391.4 780.1 L389.4 778.4 L387.4 778.3 L385.4 776.4 L383.4 775.3 L381.4 775.9 L379.4 776.7 L377.4 778.1 L375.4 777.9 L373.4 777.7 L371.4 778.6 L369.4 779.4 L367.4 779.4 L365.4 780.7 L363.4 780.3 L361.4 780.8 L359.4 782.2 L357.4 781.1 L355.4 781.7 L353.4 782.0 L351.4 782.6 L349.4 782.8 L347.4 782.6 L345.4 783.9 L343.4 784.8 L341.4 783.9 L339.4 784.7 L337.4 786.2 L335.4 786.0 L333.4 786.7 L331.4 786.0 L329.4 786.3 L327.4 787.2 L325.4 788.0 L323.4 788.6 L321.4 789.0 L319.4 790.5 L317.4 791.5 L315.4 792.5 L313.4 794.8 L311.4 794.3 L309.4 797.0 L307.4 798.9 L305.4 798.7 L303.4 800.2 L301.4 800.9 L299.4 801.4 L297.4 801.6 L295.4 800.4 L293.4 800.3 L291.4 800.2 L289.4 800.3 L287.4 798.8 L285.4 799.4 L283.4 798.5 L281.4 799.2 L279.4 799.2 L277.4 800.1 L275.4 799.7 L273.4 799.8 L271.4 798.8 L269.4 799.4 L267.4 800.0 L265.4 799.7 L263.4 800.8 L261.4 802.1 L259.4 803.2 L257.4 804.5 L255.4 806.9 L253.4 809.8 L251.4 810.4 L249.4 812.6 L247.4 813.4 L245.4 813.6 L243.4 813.1 L241.4 815.2 L239.4 817.2 L237.4 817.4 L235.4 819.3 L233.4 818.7 L231.4 818.3 L229.4 817.4 L227.4 815.8 L225.4 816.7 L223.4 819.1 L221.4 819.8 L219.4 820.9 L217.4 819.0 L215.4 817.4 L213.4 817.5 L211.4 816.6 L209.4 816.4 L207.4 815.7 L205.4 815.5 L203.4 815.7 L201.4 815.0 L199.4 815.9 L197.4 818.9 Z" fill="#ff0000" fill-opacity="0.25" stroke="#ff0000" stroke-opacity="0.25"/>
<path d="M197.4 826.2 L199.9 819.2 L202.4 819.2 L204.9 819.4 L207.4 821.4 L209.9 822.2 L212.4 823.2 L214.9 823.2 L217.4 823.6 L219.9 822.5 L222.4 822.1 L224.9 821.8 L227.4 822.5 L229.9 822.5 L232.4 823.3 L234.9 823.5 L237.4 824.2 L239.9 824.9 L242.4 822.7 L244.9 822.5 L247.4 820.8 L249.9 821.3 L252.4 820.5 L254.9 821.6 L257.4 822.6 L259.9 823.5 L262.4 823.9 L264.9 824.4 L267.4 824.3 L269.9 824.0 L272.4 824.0 L274.9 823.7 L277.4 823.0 L279.9 821.5 L282.4 821.5 L284.9 821.4 L287.4 823.1 L289.9 824.0 L292.4 824.2 L294.9 822.6 L297.4 821.3 L299.9 821.4 L302.4 821.6 L304.9 821.8 L307.4 821.0 L309.9 820.2 L312.4 816.6 L314.9 814.5 L317.4 812.9 L319.9 813.4 L322.4 812.6 L324.9 812.3 L327.4 810.3 L329.9 810.4 L332.4 809.3 L334.9 807.7 L337.4 805.3 L339.9 802.5 L342.4 799.3 L344.9 795.1 L347.4 792.4 L349.9 789.5 L352.4 786.4 L354.9 783.5 L357.4 781.7 L359.9 778.3 L362.4 776.2 L364.9 772.6 L367.4 771.0 L369.9 769.7 L372.4 768.6 L374.9 766.6 L377.4 764.0 L379.9 761.7 L382.4 760.4 L384.9 758.6 L387.4 757.3 L389.9 754.4 L392.4 751.8 L394.9 749.4 L397.4 747.7 L399.9 746.4 L402.4 744.5 L404.9 743.5 L407.4 741.5 L409.9 739.7 L412.4 737.1 L414.9 734.9 L417.4 733.4 L419.9 731.8 L422.4 731.2 L424.9 729.4 L427.4 729.7 L429.9 729.0 L432.4 729.1 L434.9 728.7 L437.4 728.5 L439.9 727.5 L442.4 726.5 L444.9 725.0 L447.4 722.7 L449.9 720.2 L452.4 722.3 L454.9 725.8 L457.4 726.5 L459.9 727.3 L462.4 727.3 L464.9 728.7 L467.4 728.7 L469.9 728.3 L472.4 727.1 L474.9 725.2 L477.4 725.2 L479.9 723.9 L482.4 723.3 L484.9 722.0 L487.4 721.3 L489.9 720.0 L492.4 715.1 L494.9 711.9 L497.4 708.0 L499.9 704.1 L502.4 700.5 L504.9 698.0 L507.4 694.1 L509.9 691.1 L512.4 690.1 L514.9 688.7 L517.4 687.8 L519.9 685.9 L522.4 682.9 L524.9 681.0 L527.4 677.8 L529.9 676.3 L532.4 674.9 L534.9 673.4 L537.4 670.8 L539.9 667.3 L542.4 662.8 L544.9 660.1 L547.4 657.3 L549.9 655.7 L552.4 653.0 L554.9 650.8 L557.4 649.3 L559.9 648.2 L562.4 650.4 L564.9 651.8 L567.4 654.0 L569.9 655.1 L572.4 656.5 L574.9 656.5 L577.4 654.8 L579.9 653.2 L582.4 652.4 L584.9 650.9 L587.4 649.2 L589.9 647.7 L592.4 642.0 L594.9 636.0 L597.4 633.4 L599.9 631.0 L602.4 631.6 L604.9 631.6 L607.4 631.3 L609.9 630.6 L612.4 630.0 L614.9 629.4 L617.4 626.7 L619.9 623.5 L622.4 620.7 L624.9 617.1 L627.4 613.6 L629.9 610.5 L632.4 607.1 L634.9 603.1 L637.4 598.3 L639.9 593.7 L642.4 589.9 L644.9 587.5 L647.4 584.7 L649.9 580.7 L652.4 575.5 L654.9 570.7 L657.4 566.8 L659.9 562.8 L662.4 556.7 L664.9 550.1 L667.4 540.6 L669.9 531.3 L672.4 522.5 L674.9 515.3 L677.4 509.3 L679.9 503.5 L682.4 498.6 L684.9 488.8 L687.4 479.3 L689.9 470.6 L692.4 463.7 L694.9 459.7 L697.4 455.2 L699.9 452.9 L702.4 449.5 L704.9 448.0 L707.4 445.6 L709.9 444.0 L712.4 444.6 L714.9 446.4 L717.4 441.6 L719.9 436.8 L722.4 434.6 L724.9 433.9 L727.4 431.0 L729.9 426.7 L732.4 425.3 L734.9 425.1 L737.4 427.4 L739.9 426.7 L742.4 423.9 L744.9 420.7 L747.4 416.9 L749.9 415.1 L752.4 416.2 L754.9 419.4 L757.4 425.3 L759.9 423.0 L762.4 420.0 L764.9 415.3 L767.4 413.7 L769.9 412.7 L772.4 411.1 L774.9 409.6 L777.4 407.5 L779.9 401.8 L782.4 396.3 L784.9 389.7 L787.4 383.8 L789.9 377.3 L792.4 373.2 L794.9 368.3 L797.4 362.6 L799.9 355.6 L802.4 355.2 L804.9 354.1 L807.4 356.0 L809.9 357.6 L812.4 353.4 L814.9 348.2 L817.4 343.9 L819.9 339.7 L822.4 335.2 L824.9 331.9 L827.4 329.7 L829.9 327.7 L832.4 328.1 L834.9 329.9 L837.4 328.4 L839.9 326.2 L842.4 326.4 L844.9 326.9 L847.4 325.7 L849.9 321.7 L852.4 318.3 L854.9 311.8 L857.4 301.4 L859.9 290.4 L862.4 282.6 L864.9 276.9 L867.4 271.4 L869.9 264.2 L872.4 258.4 L874.9 252.3 L877.4 250.2 L879.9 249.2 L882.4 248.2 L884.9 242.7 L887.4 236.2 L889.9 232.3 L892.4 231.1 L894.9 229.2 L897.4 229.1 L899.9 228.9 L902.4 228.5 L904.9 226.3 L907.4 224.2 L909.9 221.4 L912.4 218.8 L914.9 215.8 L917.4 211.4 L919.9 208.0 L922.4 208.0 L924.9 207.2 L927.4 209.1 L929.9 212.3 L932.4 212.8 L934.9 210.7 L937.4 206.4 L939.9 205.7 L942.4 207.0 L944.9 209.3 L947.4 208.0 L949.9 207.0 L952.4 203.4 L954.9 202.5 L957.4 204.5 L959.9 200.7 L962.4 194.2 L964.9 190.3 L967.4 181.2 L969.9 174.2 L972.4 171.8 L974.9 168.0 L977.4 163.8 L979.9 158.3 L982.4 153.5 L984.9 145.5 L987.4 143.3 L989.9 140.9 L992.4 142.0 L994.9 140.4 L997.4 132.9 L999.9 129.0 L1002.4 128.4 L1004.9 130.9 L1007.4 136.7 L1009.9 139.6 L1012.4 135.7 L1014.9 129.0 L1017.4 126.3 L1019.9 123.2 L1022.4 121.5 L1024.9 118.6 L1027.4 116.7 L1029.9 114.1 L1032.4 112.4 L1034.9 112.1 L1037.4 113.6 L1039.9 113.5 L1042.4 107.2 L1044.9 96.5 L1047.4 93.5 L1049.9 91.9 L1052.4 88.5 L1054.9 86.0 L1057.4 82.6 L1059.9 78.9 L1062.4 75.2 L1064.9 74.1 L1067.4 73.9 L1069.9 76.0 L1072.4 79.4 L1074.9 81.4 L1077.4 83.9 L1079.9 85.9 L1082.4 87.0 L1084.9 86.4 L1087.4 83.7 L1089.9 84.2 L1092.4 89.8 L1094.9 93.2 L1097.4 96.1 L1099.9 97.1 L1102.4 96.6 L1104.9 97.6 L1107.4 100.6 L1109.9 103.2 L1112.4 108.1 L1114.9 112.6 L1117.4 108.8 L1119.9 103.7 L1122.4 104.2 L1124.9 106.1 L1127.4 105.1 L1129.9 106.9 L1132.4 106.1 L1134.9 103.4 L1137.4 96.9 L1139.9 91.7 L1142.4 88.6 L1144.9 85.5 L1147.4 83.9 L1149.9 82.7 L1152.4 80.5 L1154.9 80.3 L1157.4 78.8 L1159.9 79.6 L1162.4 80.0 L1164.9 81.0 L1167.4 80.9 L1169.9 81.9 L1172.4 80.7 L1174.9 80.7 L1177.4 80.7 L1179.9 82.3 L1182.4 83.7 L1184.9 84.5 L1187.4 85.7 L1189.9 86.2 L1192.4 88.0 L1194.9 89.6 L1197.4 91.2 L1199.9 91.4 L1202.4 91.6 L1204.9 92.6 L1207.4 94.9 L1209.9 96.0 L1212.4 97.7 L1214.9 96.9 L1217.4 95.7 L1219.9 93.5 L1222.4 90.9 L1224.9 88.5 L1227.4 86.4 L1229.9 84.9 L1232.4 82.9 L1234.9 82.0 L1237.4 81.8 L1239.9 81.7 L1242.4 83.7 L1244.9 84.8 L1247.4 86.3 L1249.9 85.9 L1250.0 85.2 L1250.0 93.0 L1249.9 92.8 L1247.4 92.8 L1244.9 92.9 L1242.4 93.4 L1239.9 92.2 L1237.4 90.8 L1234.9 90.0 L1232.4 90.7 L1229.9 92.5 L1227.4 93.9 L1224.9 96.4 L1222.4 98.5 L1219.9 100.7 L1217.4 101.8 L1214.9 103.2 L1212.4 103.8 L1209.9 102.9 L1207.4 101.9 L1204.9 99.8 L1202.4 98.1 L1199.9 96.6 L1197.4 96.9 L1194.9 96.5 L1192.4 95.9 L1189.9 94.5 L1187.4 92.7 L1184.9 91.8 L1182.4 90.6 L1179.9 90.3 L1177.4 89.5 L1174.9 88.5 L1172.4 89.0 L1169.9 89.2 L1167.4 89.4 L1164.9 88.4 L1162.4 87.3 L1159.9 86.4 L1157.4 86.5 L1154.9 86.5 L1152.4 86.9 L1149.9 89.5 L1147.4 92.4 L1144.9 96.3 L1142.4 100.2 L1139.9 106.0 L1137.4 112.1 L1134.9 118.9 L1132.4 124.7 L1129.9 128.2 L1127.4 129.6 L1124.9 130.4 L1122.4 130.5 L1119.9 131.1 L1117.4 136.6 L1114.9 138.8 L1112.4 134.0 L1109.9 130.3 L1107.4 130.4 L1104.9 130.2 L1102.4 132.0 L1099.9 135.1 L1097.4 133.9 L1094.9 131.3 L1092.4 129.0 L1089.9 124.2 L1087.4 122.8 L1084.9 124.0 L1082.4 123.7 L1079.9 122.8 L1077.4 119.6 L1074.9 116.5 L1072.4 112.7 L1069.9 108.7 L1067.4 105.6 L1064.9 105.6 L1062.4 106.1 L1059.9 107.9 L1057.4 110.1 L1054.9 112.7 L1052.4 114.9 L1049.9 117.8 L1047.4 119.8 L1044.9 124.0 L1042.4 133.6 L1039.9 138.7 L1037.4 137.2 L1034.9 136.1 L1032.4 135.2 L1029.9 137.4 L1027.4 140.8 L1024.9 144.5 L1022.4 147.0 L1019.9 149.9 L1017.4 152.3 L1014.9 155.9 L1012.4 160.3 L1009.9 166.3 L1007.4 162.8 L1004.9 157.5 L1002.4 154.0 L999.9 154.4 L997.4 158.2 L994.9 164.3 L992.4 165.6 L989.9 163.9 L987.4 166.4 L984.9 168.1 L982.4 175.3 L979.9 179.3 L977.4 185.1 L974.9 188.4 L972.4 191.0 L969.9 191.5 L967.4 197.0 L964.9 205.3 L962.4 208.9 L959.9 214.3 L957.4 218.5 L954.9 216.4 L952.4 218.1 L949.9 223.8 L947.4 227.6 L944.9 231.4 L942.4 230.7 L939.9 229.5 L937.4 232.0 L934.9 237.7 L932.4 246.4 L929.9 253.5 L927.4 252.1 L924.9 252.0 L922.4 254.7 L919.9 258.5 L917.4 264.0 L914.9 270.5 L912.4 273.6 L909.9 277.8 L907.4 280.4 L904.9 284.6 L902.4 288.3 L899.9 291.5 L897.4 292.3 L894.9 294.2 L892.4 296.8 L889.9 299.9 L887.4 303.9 L884.9 307.6 L882.4 309.1 L879.9 307.6 L877.4 306.9 L874.9 307.9 L872.4 309.8 L869.9 311.9 L867.4 315.5 L864.9 318.9 L862.4 322.1 L859.9 325.1 L857.4 328.8 L854.9 332.4 L852.4 340.0 L849.9 343.0 L847.4 347.0 L844.9 347.4 L842.4 346.6 L839.9 347.0 L837.4 350.3 L834.9 352.4 L832.4 350.3 L829.9 349.2 L827.4 351.1 L824.9 353.2 L822.4 356.7 L819.9 361.1 L817.4 365.3 L814.9 368.5 L812.4 373.0 L809.9 376.5 L807.4 373.9 L804.9 371.0 L802.4 370.7 L799.9 371.1 L797.4 376.9 L794.9 382.8 L792.4 386.4 L789.9 390.4 L787.4 395.0 L784.9 400.5 L782.4 406.5 L779.9 412.5 L777.4 417.5 L774.9 418.7 L772.4 420.1 L769.9 421.5 L767.4 423.3 L764.9 426.1 L762.4 431.1 L759.9 434.7 L757.4 435.7 L754.9 429.8 L752.4 426.3 L749.9 426.3 L747.4 432.7 L744.9 441.7 L742.4 449.8 L739.9 456.9 L737.4 461.5 L734.9 464.9 L732.4 466.8 L729.9 470.6 L727.4 475.6 L724.9 481.0 L722.4 483.9 L719.9 486.6 L717.4 493.2 L714.9 499.9 L712.4 500.2 L709.9 500.7 L707.4 502.9 L704.9 506.0 L702.4 506.2 L699.9 507.4 L697.4 507.7 L694.9 510.1 L692.4 511.0 L689.9 515.0 L687.4 521.0 L684.9 528.0 L682.4 534.0 L679.9 535.9 L677.4 541.6 L674.9 549.1 L672.4 556.2 L669.9 562.2 L667.4 567.9 L664.9 575.2 L662.4 579.4 L659.9 584.5 L657.4 586.5 L654.9 588.2 L652.4 589.4 L649.9 592.0 L647.4 596.5 L644.9 599.7 L642.4 602.7 L639.9 605.3 L637.4 608.8 L634.9 612.5 L632.4 616.1 L629.9 620.0 L627.4 623.7 L624.9 627.7 L622.4 631.5 L619.9 634.3 L617.4 637.6 L614.9 640.2 L612.4 640.6 L609.9 640.5 L607.4 640.8 L604.9 640.2 L602.4 639.2 L599.9 639.2 L597.4 642.3 L594.9 645.1 L592.4 649.8 L589.9 655.0 L587.4 657.2 L584.9 659.6 L582.4 661.6 L579.9 663.0 L577.4 663.7 L574.9 663.8 L572.4 662.1 L569.9 660.7 L567.4 660.1 L564.9 658.2 L562.4 656.5 L559.9 654.7 L557.4 656.0 L554.9 657.1 L552.4 659.0 L549.9 661.1 L547.4 663.8 L544.9 665.6 L542.4 669.5 L539.9 673.0 L537.4 676.0 L534.9 677.8 L532.4 679.5 L529.9 682.0 L527.4 684.2 L524.9 686.8 L522.4 688.5 L519.9 691.6 L517.4 694.2 L514.9 696.3 L512.4 696.2 L509.9 697.0 L507.4 699.0 L504.9 703.8 L502.4 706.2 L499.9 710.0 L497.4 714.0 L494.9 718.5 L492.4 721.7 L489.9 726.5 L487.4 726.5 L484.9 727.4 L482.4 728.1 L479.9 730.3 L477.4 731.9 L474.9 732.9 L472.4 734.1 L469.9 733.9 L467.4 734.3 L464.9 734.0 L462.4 733.3 L459.9 732.9 L457.4 733.5 L454.9 733.0 L452.4 729.4 L449.9 726.7 L447.4 728.2 L444.9 730.3 L442.4 730.7 L439.9 731.5 L437.4 732.3 L434.9 733.2 L432.4 734.4 L429.9 735.4 L427.4 736.2 L424.9 736.4 L422.4 736.4 L419.9 736.8 L417.4 737.7 L414.9 740.4 L412.4 743.0 L409.9 745.6 L407.4 747.8 L404.9 749.6 L402.4 751.1 L399.9 751.9 L397.4 753.2 L394.9 755.5 L392.4 758.5 L389.9 761.6 L387.4 764.0 L384.9 765.8 L382.4 767.2 L379.9 768.3 L377.4 770.3 L374.9 771.6 L372.4 773.7 L369.9 775.0 L367.4 776.8 L364.9 779.3 L362.4 781.5 L359.9 783.8 L357.4 786.1 L354.9 789.2 L352.4 792.0 L349.9 796.1 L347.4 798.6 L344.9 801.3 L342.4 804.3 L339.9 808.7 L337.4 812.4 L334.9 814.3 L332.4 815.1 L329.9 816.5 L327.4 818.2 L324.9 819.9 L322.4 820.4 L319.9 820.8 L317.4 821.3 L314.9 822.3 L312.4 824.5 L309.9 827.1 L307.4 827.8 L304.9 827.7 L302.4 828.1 L299.9 827.8 L297.4 828.3 L294.9 828.2 L292.4 828.6 L289.9 827.6 L287.4 827.3 L284.9 826.2 L282.4 825.7 L279.9 826.1 L277.4 828.0 L274.9 830.2 L272.4 831.1 L269.9 830.6 L267.4 829.8 L264.9 828.9 L262.4 827.9 L259.9 828.9 L257.4 828.3 L254.9 829.2 L252.4 829.6 L249.9 831.4 L247.4 831.3 L244.9 832.8 L242.4 838.5 L239.9 846.0 L237.4 847.3 L234.9 847.2 L232.4 847.4 L229.9 847.6 L227.4 847.5 L224.9 847.2 L222.4 847.7 L219.9 848.9 L217.4 850.4 L214.9 849.2 L212.4 849.0 L209.9 849.2 L207.4 847.7 L204.9 846.4 L202.4 844.5 L199.9 843.5 L197.4 845.0 Z" fill="#00bfff" fill-opacity="0.25" stroke="#00bfff" stroke-opacity="0.25"/>
<path d="M197.4 786.4 L199.9 784.4 L202.4 785.1 L204.9 787.8 L207.4 790.4 L209.9 794.1 L212.4 795.9 L214.9 797.5 L217.4 798.1 L219.9 798.3 L222.4 797.7 L224.9 798.8 L227.4 800.0 L229.9 800.9 L232.4 801.5 L234.9 801.6 L237.4 801.1 L239.9 799.3 L242.4 800.0 L244.9 800.5 L247.4 801.4 L249.9 800.1 L252.4 799.2 L254.9 799.9 L257.4 800.3 L259.9 800.9 L262.4 801.0 L264.9 801.6 L267.4 800.4 L269.9 799.5 L272.4 797.6 L274.9 794.7 L277.4 792.2 L279.9 789.9 L282.4 787.7 L284.9 785.6 L287.4 782.1 L289.9 779.8 L292.4 777.2 L294.9 776.0 L297.4 775.6 L299.9 774.6 L302.4 774.2 L304.9 773.1 L307.4 772.9 L309.9 772.5 L312.4 773.0 L314.9 772.8 L317.4 773.0 L319.9 772.9 L322.4 772.7 L324.9 773.2 L327.4 772.9 L329.9 773.5 L332.4 773.9 L334.9 773.8 L337.4 773.5 L339.9 773.4 L342.4 773.5 L344.9 773.8 L347.4 773.5 L349.9 774.2 L352.4 773.6 L354.9 773.9 L357.4 773.8 L359.9 775.3 L362.4 776.2 L364.9 776.3 L367.4 775.8 L369.9 777.2 L372.4 778.9 L374.9 779.5 L377.4 779.2 L379.9 777.9 L382.4 779.2 L384.9 780.8 L387.4 785.4 L389.9 787.7 L392.4 790.0 L394.9 792.2 L397.4 795.6 L399.9 796.8 L402.4 798.0 L404.9 797.3 L407.4 796.4 L409.9 794.6 L412.4 787.7 L414.9 778.1 L417.4 771.7 L419.9 769.1 L422.4 767.9 L424.9 767.5 L427.4 767.5 L429.9 766.1 L432.4 765.5 L434.9 765.2 L437.4 763.8 L439.9 761.1 L442.4 759.8 L444.9 757.9 L447.4 757.8 L449.9 757.5 L452.4 756.9 L454.9 757.4 L457.4 757.0 L459.9 757.8 L462.4 758.1 L464.9 758.6 L467.4 758.3 L469.9 757.3 L472.4 752.5 L474.9 749.9 L477.4 748.1 L479.9 750.0 L482.4 752.5 L484.9 756.3 L487.4 756.6 L489.9 757.3 L492.4 760.2 L494.9 763.5 L497.4 764.5 L499.9 765.9 L502.4 764.7 L504.9 763.1 L507.4 762.0 L509.9 761.3 L512.4 758.0 L514.9 756.1 L517.4 752.7 L519.9 750.4 L522.4 746.6 L524.9 742.8 L527.4 739.0 L529.9 736.1 L532.4 733.6 L534.9 731.0 L537.4 728.5 L539.9 725.9 L542.4 722.2 L544.9 719.0 L547.4 716.9 L549.9 715.6 L552.4 713.8 L554.9 712.2 L557.4 710.3 L559.9 709.5 L562.4 709.2 L564.9 707.0 L567.4 704.3 L569.9 701.1 L572.4 699.0 L574.9 696.7 L577.4 693.5 L579.9 691.4 L582.4 689.0 L584.9 687.3 L587.4 683.8 L589.9 681.6 L592.4 678.3 L594.9 675.9 L597.4 672.4 L599.9 669.0 L602.4 665.5 L604.9 661.9 L607.4 658.5 L609.9 654.6 L612.4 651.2 L614.9 651.3 L617.4 651.2 L619.9 652.4 L622.4 655.5 L624.9 658.6 L627.4 660.0 L629.9 662.2 L632.4 661.3 L634.9 658.7 L637.4 654.7 L639.9 650.2 L642.4 644.8 L644.9 641.0 L647.4 636.8 L649.9 635.0 L652.4 633.0 L654.9 630.7 L657.4 627.2 L659.9 623.1 L662.4 619.1 L664.9 616.8 L667.4 615.7 L669.9 614.3 L672.4 612.1 L674.9 609.1 L677.4 606.5 L679.9 604.4 L682.4 603.1 L684.9 599.9 L687.4 596.6 L689.9 592.2 L692.4 588.4 L694.9 584.5 L697.4 580.8 L699.9 579.8 L702.4 578.7 L704.9 575.6 L707.4 568.5 L709.9 567.1 L712.4 566.0 L714.9 562.8 L717.4 558.9 L719.9 555.7 L722.4 553.1 L724.9 551.9 L727.4 552.2 L729.9 551.2 L732.4 544.7 L734.9 538.8 L737.4 536.6 L739.9 535.4 L742.4 532.6 L744.9 526.7 L747.4 521.6 L749.9 519.7 L752.4 518.0 L754.9 516.9 L757.4 515.0 L759.9 513.9 L762.4 511.5 L764.9 510.2 L767.4 505.9 L769.9 501.1 L772.4 496.1 L774.9 490.0 L777.4 484.6 L779.9 479.8 L782.4 475.7 L784.9 471.4 L787.4 467.6 L789.9 464.4 L792.4 459.7 L794.9 454.8 L797.4 449.2 L799.9 444.4 L802.4 438.6 L804.9 432.8 L807.4 429.5 L809.9 425.2 L812.4 423.7 L814.9 422.2 L817.4 416.2 L819.9 406.7 L822.4 405.4 L824.9 404.3 L827.4 400.1 L829.9 394.4 L832.4 390.1 L834.9 385.8 L837.4 382.5 L839.9 379.6 L842.4 377.4 L844.9 374.6 L847.4 373.1 L849.9 372.2 L852.4 371.8 L854.9 369.2 L857.4 365.4 L859.9 361.9 L862.4 358.2 L864.9 355.8 L867.4 353.4 L869.9 351.5 L872.4 347.7 L874.9 343.2 L877.4 338.9 L879.9 336.0 L882.4 332.5 L884.9 329.1 L887.4 325.8 L889.9 323.3 L892.4 321.1 L894.9 317.8 L897.4 313.7 L899.9 309.5 L902.4 305.8 L904.9 302.5 L907.4 298.8 L909.9 295.1 L912.4 291.0 L914.9 287.6 L917.4 284.6 L919.9 281.7 L922.4 279.4 L924.9 278.2 L927.4 280.7 L929.9 283.2 L932.4 281.9 L934.9 280.4 L937.4 280.9 L939.9 282.0 L942.4 282.9 L944.9 283.3 L947.4 282.9 L949.9 280.9 L952.4 278.3 L954.9 280.6 L957.4 280.7 L959.9 277.2 L962.4 274.8 L964.9 272.8 L967.4 271.5 L969.9 270.0 L972.4 266.5 L974.9 263.0 L977.4 259.8 L979.9 261.8 L982.4 262.5 L984.9 263.8 L987.4 262.0 L989.9 258.5 L992.4 256.9 L994.9 256.7 L997.4 255.3 L999.9 249.6 L1002.4 244.7 L1004.9 241.5 L1007.4 239.7 L1009.9 240.1 L1012.4 239.6 L1014.9 240.2 L1017.4 240.5 L1019.9 239.3 L1022.4 236.9 L1024.9 236.5 L1027.4 237.9 L1029.9 240.3 L1032.4 243.0 L1034.9 236.7 L1037.4 233.4 L1039.9 231.5 L1042.4 226.5 L1044.9 217.9 L1047.4 212.5 L1049.9 209.5 L1052.4 203.8 L1054.9 196.3 L1057.4 192.8 L1059.9 189.9 L1062.4 185.6 L1064.9 180.9 L1067.4 178.8 L1069.9 177.7 L1072.4 178.1 L1074.9 179.8 L1077.4 182.2 L1079.9 183.9 L1082.4 184.3 L1084.9 179.5 L1087.4 174.4 L1089.9 170.9 L1092.4 173.9 L1094.9 176.6 L1097.4 176.9 L1099.9 175.9 L1102.4 174.7 L1104.9 173.5 L1107.4 172.9 L1109.9 172.9 L1112.4 173.0 L1114.9 173.4 L1117.4 172.9 L1119.9 172.7 L1122.4 173.7 L1124.9 174.4 L1127.4 175.0 L1129.9 172.8 L1132.4 169.9 L1134.9 165.9 L1137.4 158.5 L1139.9 149.5 L1142.4 147.2 L1144.9 146.4 L1147.4 142.3 L1149.9 138.2 L1152.4 135.0 L1154.9 131.9 L1157.4 131.0 L1159.9 128.0 L1162.4 126.5 L1164.9 122.8 L1167.4 120.9 L1169.9 123.6 L1172.4 122.3 L1174.9 120.0 L1177.4 115.1 L1179.9 111.2 L1182.4 108.1 L1184.9 108.9 L1187.4 109.0 L1189.9 103.7 L1192.4 98.9 L1194.9 99.7 L1197.4 99.5 L1199.9 99.6 L1202.4 98.1 L1204.9 97.4 L1207.4 97.7 L1209.9 100.1 L1212.4 101.8 L1214.9 103.3 L1217.4 103.4 L1219.9 103.1 L1222.4 100.8 L1224.9 100.9 L1227.4 101.3 L1229.9 99.7 L1232.4 97.6 L1234.9 93.3 L1237.4 88.4 L1239.9 87.2 L1242.4 90.4 L1244.9 95.2 L1247.4 93.7 L1249.9 91.6 L1250.0 91.9 L1250.0 96.0 L1249.9 96.0 L1247.4 99.6 L1244.9 101.5 L1242.4 96.2 L1239.9 92.6 L1237.4 94.5 L1234.9 100.1 L1232.4 104.0 L1229.9 106.3 L1227.4 107.5 L1224.9 107.3 L1222.4 108.0 L1219.9 111.7 L1217.4 113.8 L1214.9 116.0 L1212.4 113.5 L1209.9 110.4 L1207.4 107.4 L1204.9 104.8 L1202.4 104.4 L1199.9 102.8 L1197.4 104.6 L1194.9 105.5 L1192.4 106.2 L1189.9 109.6 L1187.4 114.6 L1184.9 114.9 L1182.4 115.6 L1179.9 118.7 L1177.4 121.9 L1174.9 126.3 L1172.4 128.6 L1169.9 130.6 L1167.4 126.7 L1164.9 128.7 L1162.4 131.5 L1159.9 135.0 L1157.4 138.1 L1154.9 138.6 L1152.4 140.4 L1149.9 143.0 L1147.4 147.3 L1144.9 151.8 L1142.4 153.8 L1139.9 156.2 L1137.4 164.6 L1134.9 171.3 L1132.4 174.9 L1129.9 178.2 L1127.4 179.5 L1124.9 178.7 L1122.4 177.5 L1119.9 177.3 L1117.4 178.0 L1114.9 179.6 L1112.4 179.9 L1109.9 180.0 L1107.4 179.6 L1104.9 178.9 L1102.4 179.4 L1099.9 180.6 L1097.4 181.9 L1094.9 182.7 L1092.4 180.2 L1089.9 177.9 L1087.4 181.1 L1084.9 185.4 L1082.4 190.1 L1079.9 189.8 L1077.4 187.5 L1074.9 185.1 L1072.4 183.0 L1069.9 184.1 L1067.4 185.6 L1064.9 188.4 L1062.4 192.5 L1059.9 197.2 L1057.4 200.0 L1054.9 203.8 L1052.4 210.5 L1049.9 216.2 L1047.4 220.1 L1044.9 225.7 L1042.4 234.9 L1039.9 238.5 L1037.4 240.7 L1034.9 244.5 L1032.4 252.6 L1029.9 250.7 L1027.4 248.0 L1024.9 246.5 L1022.4 246.8 L1019.9 249.6 L1017.4 251.8 L1014.9 251.8 L1012.4 252.2 L1009.9 252.7 L1007.4 252.7 L1004.9 253.5 L1002.4 257.0 L999.9 261.7 L997.4 267.9 L994.9 267.9 L992.4 268.9 L989.9 271.5 L987.4 276.6 L984.9 277.5 L982.4 276.2 L979.9 274.7 L977.4 274.1 L974.9 278.2 L972.4 283.3 L969.9 288.2 L967.4 289.9 L964.9 291.6 L962.4 293.3 L959.9 296.1 L957.4 299.9 L954.9 299.5 L952.4 298.4 L949.9 300.9 L947.4 303.7 L944.9 302.5 L942.4 301.4 L939.9 300.5 L937.4 301.2 L934.9 301.5 L932.4 302.3 L929.9 302.8 L927.4 300.3 L924.9 298.5 L922.4 299.0 L919.9 300.5 L917.4 302.5 L914.9 304.6 L912.4 307.5 L909.9 311.1 L907.4 315.3 L904.9 318.6 L902.4 321.8 L899.9 324.7 L897.4 328.3 L894.9 332.1 L892.4 335.3 L889.9 337.2 L887.4 338.5 L884.9 340.4 L882.4 343.1 L879.9 346.2 L877.4 349.4 L874.9 353.3 L872.4 357.6 L869.9 361.6 L867.4 364.1 L864.9 366.7 L862.4 369.0 L859.9 372.3 L857.4 374.8 L854.9 378.5 L852.4 380.1 L849.9 381.5 L847.4 382.3 L844.9 383.8 L842.4 385.2 L839.9 387.1 L837.4 390.3 L834.9 395.2 L832.4 399.6 L829.9 405.1 L827.4 409.7 L824.9 414.1 L822.4 414.6 L819.9 415.5 L817.4 425.2 L814.9 431.1 L812.4 432.4 L809.9 433.8 L807.4 438.1 L804.9 442.3 L802.4 447.8 L799.9 453.6 L797.4 459.2 L794.9 464.0 L792.4 469.1 L789.9 472.6 L787.4 477.7 L784.9 481.9 L782.4 486.3 L779.9 489.6 L777.4 493.8 L774.9 500.2 L772.4 507.0 L769.9 512.5 L767.4 517.9 L764.9 521.9 L762.4 523.5 L759.9 524.6 L757.4 526.1 L754.9 528.3 L752.4 530.4 L749.9 532.2 L747.4 534.2 L744.9 539.2 L742.4 544.1 L739.9 546.2 L737.4 547.4 L734.9 549.5 L732.4 555.1 L729.9 561.3 L727.4 563.0 L724.9 562.2 L722.4 563.1 L719.9 566.0 L717.4 570.0 L714.9 574.6 L712.4 577.4 L709.9 578.1 L707.4 578.4 L704.9 585.2 L702.4 589.3 L699.9 591.3 L697.4 592.6 L694.9 595.9 L692.4 598.3 L689.9 601.2 L687.4 604.8 L684.9 609.0 L682.4 612.5 L679.9 614.2 L677.4 615.5 L674.9 618.4 L672.4 620.7 L669.9 623.2 L667.4 623.5 L664.9 625.5 L662.4 627.2 L659.9 631.1 L657.4 633.5 L654.9 637.0 L652.4 639.6 L649.9 642.4 L647.4 644.8 L644.9 648.0 L642.4 651.6 L639.9 656.9 L637.4 662.2 L634.9 666.6 L632.4 670.0 L629.9 672.1 L627.4 670.4 L624.9 668.0 L622.4 665.6 L619.9 662.3 L617.4 661.1 L614.9 660.6 L612.4 662.0 L609.9 665.1 L607.4 667.6 L604.9 669.8 L602.4 672.4 L599.9 675.3 L597.4 677.6 L594.9 680.8 L592.4 684.4 L589.9 687.8 L587.4 691.0 L584.9 692.8 L582.4 695.1 L579.9 697.1 L577.4 699.5 L574.9 701.2 L572.4 704.3 L569.9 707.3 L567.4 710.7 L564.9 713.0 L562.4 715.3 L559.9 716.7 L557.4 717.5 L554.9 719.2 L552.4 720.0 L549.9 722.0 L547.4 723.7 L544.9 725.7 L542.4 728.4 L539.9 731.7 L537.4 735.0 L534.9 737.3 L532.4 739.9 L529.9 742.9 L527.4 746.0 L524.9 749.0 L522.4 751.8 L519.9 754.7 L517.4 756.8 L514.9 760.4 L512.4 763.4 L509.9 766.4 L507.4 767.3 L504.9 769.3 L502.4 772.3 L499.9 772.6 L497.4 770.5 L494.9 768.6 L492.4 766.0 L489.9 762.1 L487.4 761.9 L484.9 762.3 L482.4 759.8 L479.9 756.8 L477.4 754.3 L474.9 755.4 L472.4 760.2 L469.9 765.2 L467.4 768.6 L464.9 770.8 L462.4 773.8 L459.9 775.9 L457.4 777.2 L454.9 779.1 L452.4 780.4 L449.9 782.3 L447.4 783.4 L444.9 784.9 L442.4 786.0 L439.9 787.2 L437.4 789.2 L434.9 790.6 L432.4 790.3 L429.9 791.1 L427.4 791.4 L424.9 791.0 L422.4 789.9 L419.9 790.1 L417.4 791.6 L414.9 795.9 L412.4 804.0 L409.9 809.6 L407.4 810.1 L404.9 809.8 L402.4 806.8 L399.9 803.3 L397.4 802.2 L394.9 799.9 L392.4 797.5 L389.9 794.1 L387.4 790.7 L384.9 787.0 L382.4 786.2 L379.9 785.7 L377.4 785.4 L374.9 785.4 L372.4 784.5 L369.9 783.8 L367.4 782.9 L364.9 782.0 L362.4 781.5 L359.9 780.3 L357.4 780.1 L354.9 779.0 L352.4 778.7 L349.9 779.1 L347.4 779.7 L344.9 780.5 L342.4 781.4 L339.9 782.3 L337.4 783.5 L334.9 783.4 L332.4 784.1 L329.9 783.5 L327.4 783.5 L324.9 782.8 L322.4 782.5 L319.9 782.9 L317.4 782.8 L314.9 782.7 L312.4 781.8 L309.9 781.6 L307.4 781.8 L304.9 782.7 L302.4 782.5 L299.9 782.9 L297.4 783.3 L294.9 785.2 L292.4 786.5 L289.9 788.3 L287.4 788.6 L284.9 790.1 L282.4 792.0 L279.9 795.4 L277.4 798.2 L274.9 800.3 L272.4 802.2 L269.9 803.8 L267.4 805.7 L264.9 806.8 L262.4 806.9 L259.9 806.2 L257.4 805.6 L254.9 804.8 L252.4 804.5 L249.9 805.5 L247.4 806.5 L244.9 806.0 L242.4 806.4 L239.9 806.7 L237.4 808.7 L234.9 809.4 L232.4 809.6 L229.9 809.1 L227.4 809.1 L224.9 808.3 L222.4 807.5 L219.9 808.3 L217.4 809.4 L214.9 808.6 L212.4 807.2 L209.9 805.6 L207.4 803.4 L204.9 800.6 L202.4 797.9 L199.9 797.2 L197.4 799.0 Z" fill="#008000" fill-opacity="0.25" stroke="#008000" stroke-opacity="0.25"/>
<path d="M197.4 790.9 L199.3 788.8 L201.1 790.2 L203.0 786.9 L204.9 787.1 L206.7 786.7 L208.6 787.0 L210.4 785.1 L212.3 782.1 L214.2 780.6 L216.0 777.0 L217.9 775.3 L219.7 772.6 L221.4 772.3 L223.0 771.3 L224.6 771.0 L226.2 772.3 L227.8 767.5 L229.4 768.4 L231.1 769.3 L232.7 769.4 L234.3 770.9 L235.9 769.3 L237.6 771.0 L239.2 770.0 L240.8 771.4 L242.6 771.6 L244.4 772.4 L246.1 772.5 L247.9 772.5 L249.7 774.0 L251.5 776.0 L253.2 776.0 L255.1 775.7 L257.0 773.2 L258.8 773.6 L260.7 772.9 L262.5 769.6 L264.4 770.4 L266.2 771.5 L267.9 769.3 L269.7 770.4 L271.5 769.4 L273.3 769.8 L275.0 768.7 L276.8 768.2 L278.7 766.9 L280.5 765.1 L282.4 763.0 L284.3 761.3 L285.9 762.4 L287.6 760.7 L289.2 760.0 L290.9 760.0 L292.5 760.7 L294.2 758.2 L295.8 758.7 L297.5 757.2 L299.1 755.8 L300.8 753.0 L302.5 751.4 L304.1 751.0 L305.8 749.7 L307.4 749.4 L309.1 747.2 L311.1 745.4 L313.2 743.4 L315.3 742.6 L316.9 742.5 L318.6 743.0 L320.3 741.7 L321.9 742.1 L323.6 741.4 L325.2 739.4 L326.9 738.7 L328.6 738.7 L330.2 738.7 L332.0 737.6 L333.8 738.3 L335.6 737.6 L337.4 737.3 L339.2 735.8 L341.0 734.5 L342.7 734.5 L344.4 732.4 L346.1 732.3 L347.8 730.7 L349.4 731.5 L351.1 727.4 L352.8 729.2 L354.6 727.4 L356.5 725.0 L358.4 723.8 L360.3 722.1 L361.9 722.8 L363.6 722.9 L365.3 720.9 L366.9 721.6 L368.6 718.9 L370.3 719.2 L372.2 717.7 L374.0 714.8 L375.9 714.8 L377.8 712.3 L379.0 709.8 L380.3 704.5 L381.6 699.9 L382.8 696.6 L384.7 695.2 L386.6 692.8 L388.4 690.3 L390.3 686.8 L392.0 690.3 L393.7 691.1 L395.3 693.7 L397.0 695.4 L398.7 694.7 L400.3 693.6 L402.0 696.4 L403.7 696.1 L405.3 696.1 L407.0 696.2 L408.7 693.0 L410.3 692.8 L412.0 690.8 L413.7 691.7 L415.4 686.1 L417.0 685.5 L418.7 683.1 L420.4 681.3 L422.0 677.1 L423.7 674.2 L425.4 673.5 L427.0 669.0 L428.7 667.0 L430.4 663.9 L432.0 662.7 L433.7 659.3 L435.4 658.4 L437.1 655.6 L438.7 652.4 L440.4 650.3 L442.3 645.5 L444.1 641.2 L445.8 638.2 L447.4 637.3 L449.0 632.9 L450.6 630.9 L452.2 627.1 L453.8 625.3 L455.4 625.1 L457.0 621.8 L458.7 617.6 L460.3 617.2 L461.9 614.6 L463.5 611.3 L465.1 610.6 L466.8 608.8 L468.4 607.9 L470.1 607.6 L471.8 604.4 L473.4 604.9 L475.1 602.0 L476.8 600.5 L478.5 600.7 L480.1 598.3 L481.6 594.2 L483.0 591.3 L484.4 588.4 L485.8 583.2 L487.3 582.4 L488.7 578.4 L490.1 573.7 L491.6 570.9 L493.0 569.8 L494.4 564.0 L495.9 565.2 L497.3 558.3 L498.7 556.7 L500.2 550.1 L501.7 549.6 L503.2 545.6 L504.7 543.3 L506.2 539.5 L507.7 535.5 L509.3 536.1 L511.0 531.1 L512.7 525.9 L514.3 524.8 L516.0 518.1 L517.7 518.5 L518.9 517.9 L520.2 512.5 L521.4 510.1 L522.7 505.0 L523.9 504.1 L525.2 499.7 L526.9 497.5 L528.5 496.6 L530.2 496.2 L531.9 493.7 L533.5 488.2 L535.2 489.0 L536.3 485.6 L537.3 480.0 L538.4 475.7 L539.5 474.1 L540.6 471.1 L541.6 467.4 L542.7 462.4 L544.6 461.2 L546.5 458.9 L548.3 456.8 L550.2 456.6 L551.3 452.0 L552.4 447.3 L553.4 446.3 L554.5 444.4 L555.6 443.9 L556.7 433.4 L557.7 432.7 L559.2 428.5 L560.6 426.7 L562.1 421.3 L563.5 419.2 L565.0 417.0 L566.4 410.8 L567.8 408.2 L569.6 408.2 L571.3 404.5 L573.0 398.0 L574.7 401.4 L576.4 394.6 L578.1 393.6 L579.8 389.9 L581.5 388.5 L583.1 386.8 L584.8 387.6 L586.5 384.4 L588.1 382.7 L589.8 382.5 L591.5 382.1 L593.1 376.4 L594.8 378.6 L596.5 372.8 L598.1 371.8 L599.8 369.6 L601.4 364.1 L603.1 360.8 L604.8 355.8 L606.4 352.1 L608.1 346.7 L609.8 346.2 L611.6 343.1 L613.4 337.4 L615.1 338.6 L616.9 337.5 L618.7 332.2 L620.4 333.2 L622.1 330.4 L623.7 328.9 L625.4 330.6 L627.1 329.6 L628.7 327.9 L630.4 331.3 L632.0 329.5 L633.7 327.5 L635.4 326.8 L637.1 324.3 L638.8 323.7 L640.6 323.5 L642.3 317.7 L644.0 314.7 L645.7 317.2 L647.4 318.0 L649.1 311.6 L650.8 310.0 L652.5 308.4 L654.2 309.4 L656.0 308.2 L657.7 306.2 L659.4 305.8 L661.1 300.5 L662.8 298.5 L664.5 295.3 L666.2 298.1 L667.9 295.2 L669.6 293.3 L671.4 286.4 L673.1 287.3 L674.8 282.3 L676.5 280.1 L678.2 276.8 L679.9 272.1 L681.6 269.3 L683.6 263.7 L685.6 262.6 L687.6 260.2 L690.0 256.4 L691.9 258.4 L693.8 260.2 L695.6 256.2 L697.5 254.7 L699.3 256.5 L701.1 260.4 L702.9 265.2 L704.7 263.8 L706.5 264.0 L708.3 262.0 L710.0 266.6 L711.7 267.9 L713.4 266.7 L715.1 266.6 L716.7 263.6 L718.4 264.4 L720.1 264.7 L721.8 261.5 L723.6 260.3 L725.4 258.0 L727.2 255.2 L729.0 253.7 L730.8 253.1 L732.6 252.7 L734.2 249.1 L735.9 247.7 L737.6 243.8 L739.3 241.9 L740.9 237.2 L742.6 231.8 L744.4 232.5 L746.2 229.2 L748.0 235.6 L749.7 231.5 L751.5 232.2 L753.3 236.5 L755.1 230.9 L756.8 232.0 L758.5 233.3 L760.1 232.5 L761.8 234.1 L763.5 234.7 L765.1 235.7 L766.9 233.3 L768.7 234.0 L770.5 231.1 L772.3 231.5 L774.1 231.1 L775.9 224.5 L777.6 226.9 L779.3 227.8 L781.0 223.5 L782.7 221.0 L784.3 227.4 L786.0 225.3 L787.7 227.9 L789.4 224.4 L791.2 222.4 L793.0 219.8 L794.8 218.7 L796.6 214.8 L798.4 213.6 L800.2 214.2 L801.8 212.3 L803.5 213.9 L805.2 213.4 L806.9 213.2 L808.5 212.1 L810.2 215.8 L811.9 212.6 L813.5 215.2 L815.2 211.4 L816.9 214.2 L818.5 213.6 L820.2 210.7 L821.9 207.9 L823.5 210.0 L825.2 209.1 L826.9 206.4 L828.6 205.3 L830.2 208.4 L831.9 204.9 L833.6 202.0 L835.2 202.2 L836.9 198.2 L838.6 194.5 L840.2 195.4 L842.0 191.9 L843.8 193.6 L845.6 189.5 L847.4 190.6 L849.2 191.6 L851.0 189.1 L852.8 187.6 L854.5 185.9 L856.3 185.8 L858.1 183.3 L859.9 183.4 L861.7 181.4 L863.5 184.9 L865.3 178.2 L866.9 179.7 L868.6 173.8 L870.3 174.7 L872.0 174.2 L873.6 167.3 L875.3 171.4 L876.5 161.9 L877.8 158.7 L879.0 157.6 L880.3 150.8 L882.0 153.7 L883.6 151.2 L885.3 143.0 L887.0 144.3 L888.6 144.3 L890.3 145.3 L892.0 142.3 L893.7 143.3 L895.3 146.3 L897.0 143.1 L898.7 146.1 L900.3 142.3 L902.0 145.5 L903.7 144.9 L905.3 138.0 L907.0 133.9 L908.7 133.9 L910.3 138.1 L911.6 131.2 L912.8 131.1 L914.0 122.4 L915.2 119.7 L916.4 117.9 L917.6 117.0 L918.9 110.6 L920.6 108.4 L922.3 110.9 L924.0 110.0 L925.7 110.5 L927.4 108.6 L929.1 107.6 L930.8 109.1 L932.5 103.8 L934.2 110.0 L935.8 112.3 L937.5 111.0 L939.2 107.8 L940.8 106.5 L942.5 112.8 L944.1 109.0 L945.8 109.8 L947.5 109.9 L949.2 107.6 L950.9 108.5 L952.7 110.9 L954.4 105.6 L956.1 110.1 L957.8 105.8 L959.5 103.3 L961.2 102.2 L962.9 100.1 L964.6 98.2 L966.3 95.0 L968.0 89.6 L969.8 91.8 L971.4 86.4 L973.1 83.5 L974.8 86.1 L976.5 84.1 L978.5 78.7 L980.5 75.1 L982.5 72.3 L984.3 73.5 L986.2 67.5 L988.1 63.4 L989.9 63.1 L991.9 62.6 L993.9 57.9 L995.9 53.7 L997.9 56.8 L999.9 56.8 L1001.9 54.6 L1003.8 56.9 L1005.7 55.9 L1007.5 57.1 L1009.4 58.8 L1011.3 56.0 L1013.1 59.5 L1015.0 58.2 L1016.9 56.8 L1018.8 57.1 L1020.6 56.0 L1022.5 53.0 L1024.4 52.2 L1026.2 51.3 L1028.1 55.8 L1030.0 48.6 L1031.9 51.2 L1033.9 51.1 L1035.8 45.2 L1037.8 44.0 L1039.8 43.9 L1041.8 42.1 L1043.8 48.8 L1045.8 45.5 L1047.8 43.4 L1049.8 43.5 L1051.8 43.8 L1053.8 41.2 L1055.8 38.4 L1057.7 41.5 L1059.6 37.6 L1061.4 38.1 L1063.3 39.3 L1065.2 39.2 L1067.0 43.0 L1068.9 43.6 L1070.8 53.4 L1072.8 46.4 L1074.8 48.9 L1076.8 45.7 L1078.6 45.4 L1080.5 47.6 L1082.4 47.1 L1084.3 47.1 L1086.2 49.3 L1088.2 52.9 L1090.2 56.7 L1092.2 57.4 L1094.2 53.4 L1096.2 57.9 L1098.1 57.6 L1100.0 52.3 L1101.8 52.6 L1103.7 53.0 L1105.6 56.9 L1107.5 51.7 L1109.3 50.9 L1111.2 54.0 L1113.1 50.5 L1114.9 50.5 L1116.8 52.2 L1118.7 51.3 L1121.1 46.3 L1123.4 52.1 L1124.5 61.8 L1125.6 60.6 L1126.7 70.4 L1129.0 70.8 L1131.2 74.9 L1133.1 73.1 L1134.9 65.4 L1136.8 65.0 L1138.7 63.8 L1140.6 66.4 L1142.4 68.9 L1144.3 62.7 L1146.2 61.1 L1148.0 54.3 L1149.7 56.8 L1151.4 55.9 L1153.6 56.9 L1155.9 59.5 L1158.1 64.4 L1160.4 64.1 L1162.6 65.5 L1164.8 61.6 L1166.5 63.7 L1168.2 60.1 L1170.4 58.7 L1172.7 65.7 L1174.6 64.6 L1176.4 69.5 L1178.3 69.4 L1180.0 71.2 L1181.7 77.6 L1183.5 71.9 L1185.4 70.0 L1187.3 69.3 L1188.9 66.7 L1190.6 61.7 L1192.3 68.4 L1194.0 71.5 L1196.2 70.5 L1198.5 69.3 L1200.3 74.5 L1202.2 74.4 L1204.1 73.2 L1206.3 75.1 L1208.6 78.6 L1210.8 74.2 L1213.0 76.1 L1214.7 66.6 L1216.4 59.5 L1218.1 59.3 L1219.8 56.3 L1220.9 62.7 L1222.0 70.2 L1223.7 68.7 L1225.4 71.4 L1227.6 70.7 L1229.9 67.1 L1231.5 62.1 L1233.2 59.3 L1234.6 61.7 L1236.0 50.5 L1238.8 53.1 L1240.0 49.2 L1241.1 53.1 L1242.8 46.1 L1244.4 48.0 L1246.1 47.3 L1247.8 52.5 L1249.5 48.4 L1250.0 52.2 L1250.0 94.4 L1248.4 92.1 L1246.7 93.2 L1245.0 90.4 L1243.3 90.0 L1241.5 87.9 L1239.7 92.1 L1237.9 94.1 L1236.1 94.5 L1234.3 91.8 L1232.7 100.5 L1231.0 101.5 L1229.3 100.8 L1227.6 107.4 L1225.9 101.8 L1224.3 97.0 L1222.6 95.7 L1220.9 98.8 L1219.3 96.7 L1217.7 91.9 L1216.1 93.5 L1214.5 97.6 L1212.9 92.1 L1211.3 98.8 L1209.7 100.7 L1208.1 101.3 L1206.5 98.1 L1204.9 97.2 L1203.3 96.6 L1201.7 98.0 L1200.1 103.2 L1198.5 104.3 L1196.9 98.9 L1195.3 102.4 L1193.7 103.9 L1192.1 111.7 L1190.5 103.1 L1188.9 107.5 L1187.3 103.0 L1185.6 105.0 L1183.9 101.8 L1182.2 100.3 L1180.5 101.7 L1178.7 102.8 L1177.0 103.5 L1175.2 101.9 L1173.4 96.3 L1171.6 98.6 L1169.9 98.2 L1168.2 98.8 L1166.5 104.5 L1164.8 100.7 L1163.2 99.0 L1161.5 98.5 L1159.8 95.8 L1158.1 99.5 L1155.9 96.8 L1153.6 91.3 L1152.0 94.3 L1150.3 99.8 L1148.6 98.5 L1146.9 103.9 L1145.2 106.2 L1143.5 104.9 L1141.9 108.1 L1140.2 113.2 L1138.3 105.1 L1136.4 118.0 L1134.6 117.4 L1132.6 118.2 L1130.7 124.3 L1128.7 118.6 L1126.7 122.7 L1124.9 117.2 L1123.0 123.4 L1121.1 121.1 L1119.2 124.9 L1117.3 121.2 L1115.4 124.8 L1113.5 125.4 L1111.8 124.7 L1110.1 123.8 L1108.3 122.6 L1106.6 120.5 L1104.9 119.9 L1103.2 123.1 L1101.5 120.1 L1099.8 121.9 L1098.1 121.8 L1096.4 121.7 L1094.7 118.3 L1092.9 122.0 L1091.2 118.7 L1089.5 118.1 L1087.5 116.0 L1085.5 121.7 L1083.5 122.4 L1081.8 121.5 L1080.1 114.0 L1078.4 116.1 L1076.7 113.0 L1075.0 114.4 L1073.3 118.2 L1071.6 113.9 L1069.8 111.1 L1068.1 112.4 L1066.4 117.5 L1064.7 115.9 L1063.0 113.2 L1061.3 112.6 L1059.6 111.8 L1057.6 114.8 L1055.6 117.4 L1053.6 121.3 L1051.9 126.7 L1050.2 127.8 L1048.5 125.7 L1046.7 137.2 L1045.0 138.7 L1043.3 137.1 L1041.6 138.6 L1039.9 137.1 L1038.2 148.7 L1036.5 146.5 L1034.8 149.6 L1033.1 148.5 L1031.4 152.8 L1029.6 150.3 L1027.9 153.8 L1026.2 157.5 L1024.5 157.6 L1022.8 157.7 L1021.1 161.9 L1019.4 161.1 L1017.7 161.3 L1016.0 163.7 L1014.4 163.9 L1012.8 163.5 L1011.2 168.6 L1009.6 171.7 L1008.0 170.8 L1006.3 169.6 L1004.7 172.2 L1003.1 172.5 L1001.1 172.8 L999.1 179.7 L997.1 177.2 L995.3 176.2 L993.4 181.7 L991.5 180.2 L989.6 182.7 L987.6 181.3 L985.6 183.2 L983.7 184.2 L981.7 184.7 L979.7 185.5 L977.7 188.4 L975.7 195.6 L973.7 195.4 L971.7 196.1 L970.2 203.7 L968.7 202.9 L967.2 207.2 L965.7 212.4 L963.7 214.4 L961.7 217.3 L959.7 219.5 L957.7 219.9 L955.7 223.6 L953.7 227.4 L951.9 230.4 L950.1 235.9 L948.3 238.4 L946.5 240.8 L944.7 242.8 L942.9 243.6 L941.1 243.9 L939.3 242.6 L937.5 248.5 L935.7 244.6 L933.5 246.5 L931.3 245.0 L929.3 245.0 L927.3 246.5 L925.3 246.0 L923.3 244.6 L921.3 248.7 L919.3 248.2 L917.8 252.0 L916.3 252.6 L914.8 257.4 L912.8 259.6 L910.8 264.9 L908.8 265.8 L906.8 266.3 L904.8 267.6 L902.8 270.7 L900.9 269.5 L899.1 268.9 L897.2 273.2 L895.3 269.0 L893.3 272.3 L891.3 273.8 L889.3 274.7 L887.3 277.0 L885.3 285.0 L883.4 289.9 L881.5 287.3 L879.6 286.6 L877.7 284.3 L875.9 283.8 L873.9 289.5 L871.9 291.4 L869.9 294.5 L868.1 293.7 L866.3 297.8 L864.5 298.8 L862.7 300.3 L860.9 302.2 L860.3 310.9 L859.6 310.3 L859.0 315.4 L858.4 321.3 L857.8 321.4 L856.1 327.4 L854.4 332.0 L852.8 338.8 L850.7 340.7 L848.6 342.8 L846.5 343.1 L844.4 339.9 L842.3 342.4 L840.2 339.0 L838.6 339.2 L836.9 343.6 L835.2 345.7 L833.6 346.8 L831.9 343.8 L830.2 343.3 L828.1 346.0 L826.1 347.1 L824.0 345.6 L821.9 350.7 L819.8 354.5 L817.7 357.7 L817.4 355.9 L817.1 354.5 L816.8 347.7 L816.5 343.6 L814.4 341.5 L812.3 339.9 L810.2 339.6 L808.3 335.1 L806.4 333.2 L804.6 330.3 L802.7 328.3 L800.8 332.2 L798.9 333.8 L797.1 336.1 L795.2 334.9 L793.5 339.9 L791.8 340.9 L790.2 345.9 L788.5 346.4 L786.8 353.3 L785.2 353.6 L783.5 359.8 L781.8 359.0 L780.2 365.3 L778.5 364.3 L776.8 367.1 L775.1 371.1 L773.5 374.5 L771.9 375.3 L770.3 373.5 L768.7 373.5 L767.1 375.4 L765.4 378.1 L763.7 372.3 L762.0 373.6 L760.3 372.2 L758.6 372.2 L756.9 373.7 L755.2 374.4 L753.5 372.6 L751.8 371.4 L750.1 372.3 L748.3 376.6 L746.6 376.8 L744.9 380.9 L743.2 378.5 L741.5 381.6 L739.8 385.5 L738.1 389.2 L736.4 391.5 L734.7 393.9 L732.9 392.8 L731.2 395.7 L729.5 398.2 L727.8 393.7 L726.1 393.9 L724.4 394.8 L722.7 394.2 L721.0 392.5 L719.3 391.4 L717.5 392.6 L715.8 392.5 L714.1 393.0 L712.4 388.8 L710.7 393.0 L709.0 389.3 L707.3 389.8 L705.6 391.3 L703.9 384.7 L702.1 388.2 L700.4 384.0 L698.7 381.3 L697.0 379.1 L695.3 379.2 L693.6 380.8 L691.9 383.3 L690.2 380.4 L688.5 384.2 L686.7 385.3 L685.0 381.4 L683.3 380.7 L681.6 382.8 L679.8 384.7 L678.0 386.9 L676.2 384.2 L674.4 387.4 L672.6 389.7 L670.8 390.8 L669.0 393.6 L667.2 395.4 L665.4 398.5 L663.7 404.1 L661.9 407.7 L660.2 407.7 L658.5 413.4 L656.8 413.0 L655.1 415.2 L653.4 417.3 L651.7 420.3 L650.0 422.3 L648.4 427.8 L646.8 426.2 L645.1 424.6 L643.5 429.9 L641.9 434.9 L640.3 436.2 L638.6 436.8 L637.0 437.7 L635.4 437.4 L633.7 440.7 L632.0 441.0 L630.3 439.8 L628.7 443.1 L627.0 444.5 L625.3 444.5 L623.7 443.9 L622.0 445.7 L620.3 444.2 L618.7 448.0 L617.0 438.8 L615.3 440.8 L613.4 444.1 L611.6 449.2 L609.7 451.7 L607.8 454.2 L605.9 457.9 L604.1 465.0 L602.2 469.8 L600.3 469.0 L599.2 475.0 L598.2 480.2 L597.1 480.0 L596.0 483.7 L594.9 487.5 L593.9 489.5 L592.8 497.5 L591.0 496.0 L589.2 494.3 L587.4 494.1 L585.6 495.7 L583.8 495.6 L582.1 497.6 L580.3 496.5 L578.6 501.9 L576.9 503.6 L575.3 504.8 L573.6 506.2 L571.9 513.9 L570.3 514.9 L568.6 514.0 L566.9 515.2 L565.2 513.7 L563.6 515.4 L561.9 514.2 L560.2 514.6 L558.6 515.3 L556.9 517.9 L555.2 522.6 L553.6 524.2 L551.9 525.5 L550.2 526.5 L548.6 530.3 L546.9 535.6 L545.2 535.5 L543.5 539.6 L541.9 539.2 L540.2 541.6 L538.5 546.1 L536.9 546.2 L535.2 549.7 L533.5 548.7 L531.9 552.7 L530.2 554.9 L528.4 559.2 L526.6 561.7 L524.8 566.7 L523.0 563.5 L521.3 568.9 L519.5 573.1 L517.7 575.3 L516.0 580.7 L514.3 582.7 L512.7 585.1 L511.0 590.9 L509.3 592.9 L507.7 595.8 L506.4 599.3 L505.2 601.6 L503.9 603.0 L502.7 608.5 L501.4 612.7 L500.2 616.4 L498.9 617.8 L497.6 621.8 L496.2 625.4 L494.8 629.3 L493.4 634.5 L491.9 637.0 L490.5 640.1 L489.1 643.0 L487.6 645.6 L485.5 649.3 L483.8 654.0 L482.1 659.4 L480.5 664.1 L478.6 666.4 L476.7 665.4 L474.8 671.3 L472.9 672.1 L471.1 676.1 L469.2 677.9 L467.3 681.2 L465.4 682.1 L463.6 685.0 L461.7 687.0 L459.8 688.7 L457.9 688.4 L456.0 691.9 L454.2 695.6 L452.3 697.3 L450.4 699.7 L448.5 700.3 L446.6 704.8 L444.8 707.2 L442.9 710.0 L441.0 712.3 L439.1 714.2 L437.3 715.5 L435.4 717.1 L433.5 719.8 L431.6 721.0 L429.7 723.6 L427.9 725.7 L426.0 728.0 L424.1 729.0 L422.2 730.9 L420.4 732.3 L418.5 735.0 L416.6 739.3 L414.7 741.5 L412.8 745.6 L411.2 749.4 L409.5 752.1 L407.8 754.4 L406.2 754.7 L404.5 752.3 L402.8 751.9 L401.2 752.8 L399.5 750.1 L397.8 749.6 L395.9 750.0 L394.1 749.8 L392.2 748.2 L390.3 747.5 L388.4 746.0 L386.6 746.3 L384.7 747.4 L382.8 745.3 L381.1 748.0 L379.5 751.0 L377.8 753.5 L375.9 756.1 L374.0 756.9 L372.2 758.5 L370.3 760.1 L368.6 761.1 L366.9 762.4 L365.3 763.6 L363.6 762.9 L361.9 765.0 L360.3 765.6 L358.6 767.2 L357.0 767.0 L355.3 768.8 L353.7 768.5 L352.0 769.9 L350.4 770.6 L348.7 771.8 L347.1 772.5 L345.4 772.3 L343.8 775.4 L342.1 773.3 L340.5 774.8 L338.8 777.3 L337.2 778.5 L335.5 777.7 L333.9 779.5 L332.1 779.9 L330.3 781.3 L328.6 782.1 L326.8 781.5 L325.0 782.2 L323.2 782.8 L321.5 783.8 L319.7 785.6 L317.9 785.9 L316.2 786.5 L314.4 788.5 L312.6 788.4 L310.8 791.4 L309.1 791.5 L307.2 794.2 L305.3 793.8 L303.5 796.8 L301.6 798.9 L299.9 797.0 L298.2 796.6 L296.5 796.4 L294.8 795.1 L293.1 795.5 L291.4 796.8 L289.7 797.3 L288.0 796.3 L286.4 798.1 L284.8 798.3 L283.1 797.6 L281.5 797.3 L279.9 798.5 L278.3 798.8 L276.7 798.2 L275.1 798.7 L273.5 799.0 L271.8 797.9 L270.2 799.1 L268.5 799.1 L266.9 798.5 L265.2 798.4 L263.6 798.9 L261.9 798.7 L260.1 798.5 L258.2 798.1 L256.3 796.7 L254.5 796.4 L252.8 796.1 L251.2 795.6 L249.5 794.6 L247.9 793.0 L246.2 793.9 L244.6 793.8 L242.9 793.0 L241.3 793.3 L239.7 792.4 L238.1 793.2 L236.5 791.7 L234.9 791.2 L233.3 790.9 L231.7 790.4 L230.0 788.8 L228.4 790.3 L226.6 792.0 L224.7 793.4 L223.0 794.8 L221.4 796.4 L219.7 797.7 L218.0 799.2 L216.3 799.1 L214.6 799.9 L212.9 802.7 L211.2 803.1 L209.5 803.6 L207.8 804.8 L206.1 804.9 L204.4 805.1 L202.7 803.6 L201.0 803.7 L199.3 803.3 L197.4 799.4 Z" fill="#ff69b4" fill-opacity="0.25" stroke="#ff69b4" stroke-opacity="0.25"/>
</g>
<g fill="none" stroke-width="6.5" stroke-linejoin="round" stroke-linecap="round">
<path d="M197.4 839.5 L199.3 839.5 L201.1 838.3 L202.6 839.0 L204.0 838.4 L205.5 838.9 L206.9 840.3 L208.4 837.7 L209.8 839.5 L211.2 838.8 L212.6 840.1 L214.1 839.7 L215.5 840.2 L216.9 839.4 L218.3 840.2 L219.7 839.5 L221.2 840.1 L222.6 840.2 L224.1 840.2 L225.5 839.3 L227.0 841.1 L228.4 841.8 L229.8 841.1 L231.2 841.5 L232.6 842.9 L233.9 842.3 L235.3 841.6 L236.7 843.0 L238.1 843.1 L239.5 843.6 L240.8 843.3 L242.2 843.9 L243.6 844.9 L245.0 844.0 L246.4 844.1 L247.8 844.9 L249.2 845.3 L250.6 845.1 L252.0 845.8 L253.4 845.2 L254.8 845.6 L256.3 844.6 L257.7 844.6 L259.1 844.7 L260.5 844.1 L261.9 845.2 L263.3 845.1 L264.8 845.4 L266.2 845.1 L267.6 846.1 L269.0 845.5 L270.4 846.2 L271.8 846.4 L273.3 845.9 L274.7 846.5 L276.1 847.2 L277.5 846.3 L278.9 847.2 L280.4 846.6 L281.8 848.1 L284.3 847.0 L285.7 846.1 L287.2 846.4 L288.7 843.4 L290.2 844.7 L291.7 843.4 L293.1 842.8 L294.6 842.5 L296.0 841.9 L297.5 841.5 L298.9 841.2 L300.4 840.7 L301.9 840.7 L303.5 841.0 L305.0 839.7 L306.6 838.9 L308.2 838.8 L309.9 839.1 L311.6 837.7 L314.0 836.0 L315.5 835.1 L317.0 836.0 L318.5 835.3 L320.0 835.3 L321.5 834.5 L322.9 834.8 L324.2 835.7 L325.6 836.8 L327.0 836.1 L328.4 835.7 L329.7 835.5 L331.1 835.5 L332.5 836.2 L333.9 835.5 L335.3 834.6 L336.7 835.2 L338.1 835.6 L339.6 835.6 L341.0 835.8 L342.4 836.3 L343.8 836.1 L345.2 835.4 L346.6 835.4 L348.0 835.4 L349.3 835.7 L350.7 834.5 L352.1 834.3 L353.5 835.3 L354.8 834.4 L356.2 834.9 L357.5 833.2 L358.9 831.8 L360.2 832.4 L361.6 830.7 L362.9 830.3 L364.3 829.7 L365.6 829.2 L367.0 829.2 L368.3 830.0 L369.7 828.5 L371.0 830.1 L372.4 830.2 L373.7 830.1 L375.1 831.1 L376.4 831.9 L377.8 832.6 L379.1 832.1 L380.4 833.2 L381.8 833.0 L383.1 832.9 L384.5 833.6 L385.8 831.8 L387.2 831.6 L388.5 833.2 L389.9 834.4 L391.2 834.8 L392.6 834.6 L393.9 833.2 L395.3 833.3 L396.6 833.1 L398.0 833.5 L399.3 832.4 L400.7 833.1 L402.0 831.1 L403.4 832.6 L404.7 831.4 L406.1 831.0 L407.4 830.6 L408.8 831.4 L410.1 830.9 L411.5 830.3 L412.8 829.4 L414.2 827.2 L415.5 827.2 L416.9 826.2 L418.2 826.1 L419.5 825.4 L420.9 824.4 L422.2 824.1 L423.6 823.0 L424.9 823.2 L426.3 821.6 L427.6 822.1 L429.0 820.7 L430.3 823.2 L431.7 820.9 L433.0 820.8 L434.4 823.1 L435.7 821.2 L437.1 821.5 L438.4 821.7 L439.8 821.3 L441.1 821.3 L442.5 821.5 L443.8 820.8 L445.2 820.6 L446.5 821.1 L447.9 819.7 L449.2 820.1 L450.6 819.7 L451.9 819.4 L453.3 818.7 L454.6 820.1 L455.9 818.8 L457.3 817.2 L458.6 815.6 L460.0 816.0 L461.3 815.0 L462.7 814.1 L464.0 812.8 L465.4 812.8 L466.7 811.6 L468.1 809.3 L469.4 809.3 L470.8 808.1 L472.1 808.6 L473.5 809.1 L474.8 808.7 L476.2 808.3 L477.5 808.5 L478.9 806.1 L480.2 807.1 L481.6 806.3 L482.9 805.8 L484.3 804.6 L485.6 805.9 L487.0 805.1 L488.3 804.6 L489.7 804.4 L491.0 802.4 L492.4 802.5 L493.7 802.3 L495.0 802.4 L496.4 804.2 L497.7 803.9 L499.1 805.2 L500.4 804.9 L501.8 803.3 L503.1 802.8 L504.5 803.4 L505.8 803.5 L507.2 803.0 L508.5 803.6 L509.9 804.5 L511.2 804.4 L512.6 805.0 L513.9 804.1 L515.3 803.7 L516.6 802.5 L518.2 803.6 L519.8 804.5 L521.4 804.9 L522.9 805.3 L524.4 804.3 L525.9 804.3 L527.4 802.6 L528.9 800.8 L530.4 800.1 L531.9 798.8 L533.2 798.9 L534.6 798.5 L535.9 797.4 L537.2 796.5 L538.6 795.9 L539.9 795.2 L541.2 794.7 L542.6 793.5 L543.9 794.0 L545.4 793.6 L546.9 792.6 L548.4 792.6 L549.9 791.9 L551.4 791.6 L552.9 790.2 L554.2 790.2 L555.5 788.6 L556.9 789.4 L558.2 789.4 L559.5 787.8 L560.9 787.9 L562.2 787.2 L563.5 788.4 L564.9 786.8 L566.2 788.7 L567.5 789.7 L568.8 788.3 L570.2 788.5 L571.5 789.8 L572.8 790.1 L574.2 789.4 L575.5 790.1 L576.8 790.3 L578.3 789.8 L579.8 787.7 L581.3 786.7 L582.8 787.0 L584.3 786.5 L585.8 783.2 L587.3 783.0 L588.8 782.6 L590.3 781.1 L591.8 779.1 L593.3 778.1 L594.8 778.0 L596.3 777.6 L597.8 777.5 L599.3 780.0 L600.8 780.1 L602.3 779.3 L603.8 780.3 L605.3 780.7 L606.8 781.5 L608.3 781.7 L609.8 781.2 L611.3 782.1 L612.8 782.3 L614.3 782.0 L615.7 784.1 L617.2 784.0 L618.7 783.3 L620.2 782.5 L621.7 781.4 L623.2 782.9 L624.7 782.5 L626.2 779.9 L627.7 781.4 L629.1 781.0 L630.4 781.4 L631.7 782.9 L633.0 783.0 L634.4 783.9 L635.7 783.9 L637.0 784.2 L638.4 785.5 L639.7 784.3 L641.2 784.3 L642.7 783.7 L644.2 782.8 L645.7 782.2 L647.2 780.5 L648.7 780.7 L650.0 780.0 L651.3 780.2 L652.7 781.5 L654.0 781.1 L655.3 779.4 L656.7 780.1 L658.0 779.6 L659.3 780.1 L660.7 779.4 L662.2 780.0 L663.7 781.4 L665.1 780.3 L666.6 779.8 L668.1 781.4 L669.6 781.2 L671.1 779.8 L672.6 780.6 L674.1 782.2 L675.6 781.8 L677.1 783.1 L678.6 783.3 L680.1 782.7 L681.6 783.6 L683.1 782.7 L684.6 784.1 L686.1 783.6 L687.6 782.9 L688.9 783.9 L690.3 783.1 L691.6 782.6 L692.9 783.1 L694.3 783.3 L695.6 782.7 L696.9 782.4 L698.3 782.3 L699.6 781.7 L701.0 780.7 L702.3 781.9 L703.7 780.1 L705.1 779.6 L706.5 780.9 L707.8 780.0 L709.2 778.8 L710.6 779.5 L712.0 779.3 L713.3 781.1 L714.6 780.1 L715.9 779.9 L717.2 779.5 L718.5 779.4 L719.8 779.7 L721.1 778.3 L722.5 778.4 L724.0 778.6 L725.4 781.0 L726.9 782.9 L728.4 783.8 L729.9 782.8 L731.4 781.0 L732.9 780.5 L734.4 778.2 L735.9 777.6 L737.4 775.6 L738.9 776.0 L740.4 776.0 L741.9 774.3 L743.4 774.1 L744.9 773.3 L746.4 771.8 L747.9 773.1 L749.4 770.7 L750.9 771.0 L752.4 770.7 L753.9 771.7 L755.4 770.5 L756.9 770.7 L758.4 770.0 L759.9 769.2 L761.4 769.3 L762.9 769.2 L764.4 768.3 L765.9 769.1 L767.4 768.6 L768.9 767.9 L770.4 768.1 L771.9 766.1 L773.4 767.0 L774.9 767.2 L776.3 765.5 L777.8 765.8 L779.3 764.5 L780.8 764.4 L782.3 762.0 L783.8 760.9 L785.3 760.3 L786.8 758.7 L788.3 757.0 L789.8 755.6 L791.3 754.0 L792.8 753.2 L794.3 751.3 L795.8 754.1 L797.3 756.6 L798.8 754.0 L800.3 751.9 L801.8 750.1 L803.3 747.5 L804.8 746.8 L806.3 746.0 L807.8 745.5 L809.3 744.2 L810.8 746.0 L812.3 744.9 L813.8 745.6 L815.3 744.9 L816.8 744.3 L818.3 742.3 L819.8 742.0 L821.3 739.0 L822.8 737.0 L824.3 735.9 L825.7 732.6 L827.2 730.7 L828.7 727.8 L830.2 727.2 L831.7 724.1 L833.2 724.7 L834.7 725.9 L836.2 725.8 L837.7 726.2 L839.2 724.7 L840.7 723.6 L842.2 722.9 L843.7 722.4 L845.2 721.3 L846.7 718.4 L848.2 718.1 L849.7 717.8 L851.2 714.6 L852.7 713.7 L854.2 713.1 L855.7 710.8 L857.2 711.1 L858.7 709.8 L860.2 706.4 L861.7 703.7 L863.2 699.5 L864.7 696.8 L865.4 695.4 L866.2 691.0 L866.9 687.4 L867.7 686.2 L868.8 684.4 L869.9 681.7 L871.0 680.8 L872.2 676.4 L873.7 674.1 L875.1 673.0 L876.6 670.7 L878.1 668.7 L879.3 665.9 L880.4 663.6 L881.5 661.1 L882.6 658.4 L884.1 656.9 L885.6 652.2 L887.1 651.9 L888.6 648.8 L890.1 647.8 L891.6 648.7 L893.1 646.1 L894.6 643.2 L896.1 643.8 L897.2 639.9 L898.4 636.0 L899.5 634.4 L900.6 630.6 L902.1 629.9 L903.6 629.4 L905.1 628.3 L906.6 624.9 L908.1 623.4 L909.6 621.0 L911.1 620.4 L912.6 619.1 L914.1 618.2 L915.6 615.5 L917.1 612.6 L918.6 610.2 L920.1 609.5 L921.6 606.7 L923.1 606.2 L924.6 604.2 L926.0 601.7 L927.5 602.1 L929.0 600.5 L930.5 599.4 L932.0 597.9 L933.5 597.1 L935.0 597.0 L936.5 595.0 L938.0 594.3 L939.5 592.4 L941.0 590.4 L942.5 590.8 L944.0 591.7 L945.5 591.5 L947.0 591.3 L948.5 588.6 L950.0 586.6 L951.5 586.0 L953.0 580.8 L954.5 580.4 L956.0 580.4 L957.5 578.4 L959.0 575.6 L960.5 575.4 L962.0 574.4 L963.5 575.0 L965.0 571.6 L966.5 569.5 L968.0 565.1 L969.5 562.4 L971.0 558.3 L972.5 556.7 L974.0 553.0 L975.4 551.2 L976.9 546.4 L978.4 547.4 L979.9 544.2 L981.4 539.0 L982.9 539.7 L984.4 538.6 L985.9 535.4 L987.4 534.9 L988.9 532.8 L990.4 532.8 L991.9 532.8 L993.4 529.9 L994.9 530.6 L996.4 528.5 L997.9 528.5 L999.3 526.7 L1000.7 520.4 L1002.2 523.0 L1003.7 520.1 L1005.2 521.5 L1006.7 521.1 L1008.2 518.0 L1009.7 522.7 L1011.2 524.3 L1012.7 527.7 L1014.2 524.6 L1015.7 524.3 L1017.2 524.1 L1018.7 520.6 L1020.2 518.7 L1021.7 517.3 L1023.2 516.8 L1024.7 517.6 L1026.2 515.5 L1027.7 515.8 L1029.2 515.7 L1030.7 516.7 L1032.2 514.8 L1033.7 513.3 L1035.1 511.3 L1036.6 509.6 L1038.1 510.8 L1039.6 510.4 L1041.1 507.8 L1042.6 505.6 L1044.1 502.1 L1045.6 502.4 L1047.1 500.0 L1048.6 496.1 L1050.1 493.8 L1051.6 489.5 L1053.1 489.8 L1054.6 488.7 L1056.1 484.7 L1057.6 480.7 L1059.1 480.1 L1060.6 479.9 L1062.1 478.4 L1063.6 477.0 L1065.1 474.7 L1066.6 474.5 L1068.1 472.5 L1069.6 470.0 L1071.1 472.1 L1072.6 470.2 L1074.1 468.8 L1075.6 468.2 L1077.1 469.7 L1078.6 469.1 L1080.1 474.3 L1081.6 471.1 L1083.1 470.2 L1084.6 465.8 L1086.0 463.3 L1087.5 460.0 L1089.0 456.7 L1090.5 461.3 L1092.0 461.4 L1093.5 463.2 L1095.0 466.2 L1096.5 466.2 L1098.0 466.4 L1099.5 462.6 L1101.0 465.1 L1102.5 464.5 L1104.0 459.7 L1105.5 458.1 L1107.0 457.5 L1108.5 460.7 L1110.0 463.6 L1111.5 466.1 L1113.0 464.8 L1114.5 462.8 L1116.0 461.5 L1117.5 460.8 L1119.0 459.1 L1120.5 457.9 L1122.0 457.6 L1123.5 453.0 L1125.0 455.8 L1126.5 456.0 L1128.0 454.1 L1129.5 453.4 L1131.0 449.8 L1132.5 448.8 L1133.7 442.8 L1134.9 441.6 L1136.0 438.7 L1137.2 434.7 L1138.4 431.1 L1139.9 431.4 L1141.4 427.8 L1142.9 428.6 L1144.4 427.3 L1145.9 427.0 L1147.4 423.5 L1148.9 422.0 L1150.4 421.0 L1151.9 421.4 L1153.4 420.7 L1154.9 417.9 L1156.4 414.1 L1157.9 417.6 L1159.4 411.8 L1160.9 412.1 L1162.4 406.8 L1163.9 407.5 L1165.4 407.7 L1166.9 405.8 L1168.4 406.6 L1169.9 406.2 L1171.4 405.0 L1172.9 405.2 L1174.4 406.5 L1175.9 403.4 L1177.4 405.9 L1178.9 405.9 L1180.4 402.7 L1181.9 402.7 L1183.4 406.1 L1184.9 406.4 L1186.3 403.1 L1187.8 406.6 L1189.3 405.5 L1190.8 406.2 L1192.3 405.9 L1193.8 403.0 L1195.3 405.8 L1196.8 404.9 L1198.3 404.6 L1199.8 405.0 L1201.3 405.6 L1202.8 402.1 L1204.3 401.5 L1205.8 398.9 L1207.3 399.1 L1208.8 400.0 L1210.3 401.3 L1211.8 402.5 L1213.3 403.7 L1214.4 398.6 L1215.5 394.1 L1216.7 392.5 L1217.8 391.9 L1219.3 389.3 L1220.8 384.7 L1222.3 382.7 L1223.8 381.3 L1225.3 379.3 L1226.8 376.6 L1228.3 381.8 L1229.8 380.1 L1231.3 380.6 L1232.8 376.3 L1234.3 374.1 L1235.7 371.4 L1237.2 370.5 L1238.7 366.2 L1240.2 365.1 L1241.7 364.9 L1243.2 362.9 L1244.8 358.3 L1246.4 355.7 L1248.0 352.1" stroke="#32cd32"/>
<path d="M197.4 815.6 L199.3 813.5 L201.1 811.6 L202.7 812.3 L204.2 812.0 L205.8 812.6 L207.3 813.1 L209.0 812.5 L210.6 814.6 L212.3 814.2 L213.8 814.9 L215.3 815.6 L216.8 816.1 L218.3 816.7 L219.7 817.9 L221.3 816.1 L222.8 815.7 L224.4 814.7 L225.9 812.9 L227.5 813.5 L229.0 814.4 L230.6 814.6 L232.1 815.4 L233.7 814.9 L235.2 814.6 L236.8 814.3 L238.3 814.3 L240.0 813.6 L241.7 810.7 L243.3 810.4 L245.0 810.7 L246.6 810.4 L248.3 810.5 L249.9 809.7 L251.6 808.0 L253.2 805.4 L254.8 803.3 L256.3 802.8 L257.9 801.3 L259.4 798.8 L261.0 799.0 L262.5 798.5 L264.1 798.0 L265.6 796.7 L267.2 797.2 L268.7 796.6 L270.3 797.1 L271.8 796.5 L273.3 796.7 L274.8 796.2 L276.3 795.9 L277.8 796.1 L279.3 796.6 L280.8 796.2 L282.3 796.6 L283.8 797.5 L285.2 795.2 L286.7 794.8 L288.2 795.4 L289.7 796.3 L291.2 796.9 L292.7 796.0 L294.2 796.5 L295.7 798.3 L297.2 797.1 L298.6 798.4 L300.1 798.7 L301.6 796.3 L303.2 797.5 L304.7 796.3 L306.3 795.3 L307.8 794.8 L309.4 793.5 L310.9 792.8 L312.5 792.3 L314.0 790.2 L315.5 788.5 L317.0 789.1 L318.5 788.0 L320.0 787.5 L321.5 786.1 L323.0 786.0 L324.5 786.3 L325.9 784.5 L327.4 783.7 L328.9 784.5 L330.4 783.1 L331.9 783.8 L333.4 782.6 L334.9 782.5 L336.4 783.0 L337.9 782.8 L339.3 781.7 L340.8 782.8 L342.3 781.2 L343.8 781.6 L345.2 780.3 L346.6 780.1 L348.0 779.9 L349.3 780.0 L350.7 779.7 L352.1 779.4 L353.5 779.0 L354.8 779.3 L356.2 779.1 L357.5 778.0 L358.9 778.2 L360.2 778.0 L361.6 777.8 L362.9 777.4 L364.3 776.7 L365.6 776.5 L367.0 776.5 L368.3 776.4 L369.7 775.5 L371.0 775.6 L372.4 775.6 L373.7 775.5 L375.1 774.8 L376.4 774.3 L377.8 773.4 L379.1 773.9 L380.4 772.1 L381.8 773.3 L383.1 772.9 L384.5 773.5 L385.8 773.8 L387.2 772.6 L388.5 776.0 L389.9 776.6 L391.2 778.0 L392.6 778.5 L393.9 779.6 L395.3 780.2 L396.6 781.6 L398.0 778.9 L399.3 779.0 L400.7 777.9 L402.0 778.1 L403.4 777.0 L404.7 777.2 L406.1 775.3 L407.4 773.8 L408.8 772.3 L410.1 770.8 L411.5 768.9 L412.8 769.9 L414.2 769.4 L415.5 769.2 L416.9 768.7 L418.2 769.2 L419.5 767.5 L420.9 767.3 L422.2 766.0 L423.6 764.9 L424.9 762.5 L426.3 762.2 L427.6 761.2 L429.0 759.2 L430.3 758.6 L431.7 759.1 L433.0 759.1 L434.4 758.1 L435.7 759.7 L437.1 758.5 L438.4 758.4 L439.8 757.2 L441.1 754.5 L442.5 750.9 L443.8 748.7 L445.2 746.2 L446.5 743.6 L447.4 739.7 L448.3 736.8 L449.2 735.5 L450.6 733.1 L451.9 732.0 L453.3 731.0 L454.6 730.1 L455.9 729.9 L457.3 727.4 L458.6 729.2 L460.0 728.3 L461.3 728.0 L462.7 726.3 L464.0 728.2 L465.4 728.0 L466.7 726.1 L468.1 726.5 L469.4 728.9 L470.8 728.8 L472.1 730.5 L473.5 731.3 L474.8 731.7 L476.2 733.5 L477.5 733.3 L478.9 733.9 L480.2 733.6 L481.6 735.6 L482.9 734.4 L484.3 732.4 L485.6 732.7 L487.0 731.1 L488.3 732.4 L489.7 733.4 L491.0 733.3 L492.4 733.3 L493.7 734.1 L495.0 735.7 L496.4 733.7 L497.7 736.3 L499.1 734.5 L500.4 735.6 L501.8 735.8 L503.1 737.0 L504.5 736.9 L505.8 736.5 L507.2 737.3 L508.5 738.5 L509.9 739.7 L511.2 739.5 L512.6 739.7 L513.9 740.0 L515.3 741.6 L516.8 739.9 L518.3 740.1 L519.9 740.7 L521.4 741.3 L522.9 739.3 L524.4 740.4 L525.9 739.5 L527.4 737.8 L528.9 735.3 L530.4 734.9 L531.9 733.9 L533.4 733.0 L534.9 730.8 L536.4 730.4 L537.9 729.9 L539.4 727.2 L540.9 725.6 L542.4 724.0 L543.9 721.8 L545.4 721.3 L546.9 720.2 L548.4 720.1 L549.9 718.1 L551.4 716.5 L552.9 715.9 L554.4 714.8 L555.9 715.2 L557.4 713.6 L558.9 711.7 L560.4 712.1 L561.9 710.9 L563.4 710.1 L564.9 709.3 L566.3 708.8 L567.8 706.4 L569.3 706.6 L570.8 705.2 L572.3 705.0 L573.8 704.7 L575.3 704.2 L576.8 704.5 L578.3 704.1 L579.8 704.3 L581.3 704.0 L582.8 701.1 L584.3 702.5 L585.8 700.8 L587.3 698.1 L588.8 697.9 L590.3 696.1 L591.8 695.2 L593.3 691.7 L594.8 691.9 L596.3 687.8 L597.8 686.5 L599.3 684.5 L600.8 682.1 L602.3 680.0 L603.8 678.2 L605.3 676.6 L606.8 674.5 L608.3 672.5 L609.8 669.4 L611.3 669.8 L612.8 672.8 L614.3 673.7 L615.7 674.2 L617.2 674.0 L618.7 676.0 L620.2 674.8 L621.7 674.4 L623.2 674.4 L624.7 674.5 L626.2 672.6 L627.7 672.0 L629.2 671.4 L630.7 668.7 L632.2 669.2 L633.7 668.3 L635.2 666.9 L636.7 665.1 L638.2 662.4 L639.7 661.2 L640.4 661.9 L641.9 660.7 L643.5 659.8 L645.1 654.6 L646.6 653.5 L648.2 652.8 L649.7 649.5 L651.3 651.0 L652.9 647.3 L654.4 648.5 L655.9 649.7 L657.4 650.9 L658.9 651.6 L660.4 651.4 L662.1 649.4 L663.7 646.3 L665.4 646.2 L666.9 647.3 L668.4 645.0 L669.9 645.7 L671.4 645.3 L672.9 644.2 L674.4 642.1 L675.9 640.9 L677.4 640.1 L678.9 637.2 L680.4 638.7 L681.9 634.5 L683.4 632.9 L684.9 630.8 L686.4 629.1 L687.9 627.8 L689.6 625.5 L691.3 621.6 L692.9 619.5 L694.2 614.3 L695.4 612.0 L696.7 608.8 L697.9 604.6 L699.2 601.4 L700.5 596.4 L701.4 596.0 L702.3 592.8 L703.3 589.1 L704.2 585.4 L705.9 583.3 L707.5 578.0 L709.2 576.0 L710.9 572.4 L712.6 570.7 L714.2 564.7 L715.8 564.3 L717.4 562.2 L718.9 558.6 L720.5 557.0 L722.1 554.5 L723.8 553.0 L725.5 549.8 L726.7 545.0 L727.9 543.1 L729.1 540.2 L730.4 534.5 L731.6 535.8 L732.8 533.4 L734.0 526.6 L735.5 527.4 L737.0 527.7 L738.5 527.1 L740.0 527.8 L741.5 527.3 L742.4 523.1 L743.3 522.2 L744.2 518.0 L745.1 515.7 L746.0 513.6 L747.5 513.4 L749.0 511.2 L750.5 513.3 L752.0 510.7 L753.5 509.9 L755.0 508.2 L756.5 503.9 L758.0 502.0 L759.5 495.8 L761.0 496.1 L762.5 497.1 L764.0 496.3 L765.4 495.1 L766.9 493.4 L768.1 491.8 L769.3 489.6 L770.5 484.5 L771.7 483.4 L772.9 479.6 L774.2 475.0 L775.4 472.2 L776.7 471.0 L777.9 469.1 L779.2 463.5 L780.4 459.0 L781.9 459.8 L783.4 457.1 L784.9 452.3 L786.4 451.0 L787.4 449.2 L788.4 442.5 L789.4 440.1 L790.4 437.7 L791.4 437.2 L792.4 431.7 L793.9 430.9 L795.4 431.5 L796.9 429.7 L798.4 428.0 L799.9 423.9 L801.4 424.6 L802.9 422.1 L804.4 423.0 L805.9 419.5 L807.4 416.9 L808.9 413.2 L810.4 414.1 L811.9 414.9 L813.4 415.2 L814.9 413.8 L816.3 409.4 L817.8 406.5 L819.3 403.2 L820.8 402.6 L822.3 401.2 L823.8 398.4 L825.3 392.8 L826.2 393.1 L827.1 389.7 L828.0 386.5 L828.9 384.0 L829.8 381.7 L831.3 381.4 L832.8 379.7 L834.3 379.2 L835.8 375.8 L837.3 372.3 L838.6 374.1 L840.0 370.1 L841.3 372.5 L842.6 369.4 L843.9 369.7 L845.2 372.0 L846.7 368.8 L848.1 371.0 L849.5 370.1 L851.0 368.5 L852.4 369.2 L853.8 368.4 L855.3 367.2 L856.9 364.0 L858.6 364.0 L860.3 360.3 L861.5 357.6 L862.8 354.7 L864.0 350.4 L865.3 347.8 L866.9 344.1 L868.6 340.3 L870.3 336.7 L871.5 335.4 L872.8 329.5 L874.0 326.5 L875.3 322.1 L877.0 318.8 L878.6 321.6 L880.3 318.9 L881.8 319.3 L883.3 313.9 L884.8 313.9 L886.3 313.2 L887.8 316.0 L889.1 312.2 L890.5 308.1 L891.8 305.9 L893.1 304.1 L894.5 299.6 L895.8 299.6 L897.2 295.4 L898.5 295.2 L899.8 293.8 L901.3 292.2 L902.8 289.6 L904.3 289.5 L905.8 290.5 L907.3 287.7 L908.8 285.6 L910.3 288.3 L911.8 288.5 L913.3 289.5 L914.8 287.8 L916.3 286.7 L917.8 286.1 L919.3 287.3 L920.8 286.0 L922.3 285.9 L923.8 283.7 L924.9 280.0 L926.0 277.2 L927.1 270.5 L928.3 268.1 L929.8 268.2 L931.3 263.1 L932.8 259.8 L934.3 257.6 L935.7 258.7 L937.2 257.7 L938.7 263.0 L940.2 262.9 L941.7 260.4 L943.2 263.0 L944.7 263.2 L945.9 263.3 L947.0 260.9 L948.1 256.7 L949.2 253.8 L950.7 251.8 L952.2 246.4 L953.7 252.5 L955.2 252.3 L956.7 256.9 L957.8 250.2 L959.0 251.0 L960.1 247.2 L961.2 246.5 L962.7 244.9 L964.2 239.7 L965.7 232.9 L966.8 231.0 L967.9 231.9 L969.1 227.4 L970.2 224.0 L971.7 225.7 L973.2 221.6 L974.7 221.8 L975.7 219.1 L976.7 213.9 L977.7 212.0 L979.2 207.3 L980.7 207.3 L982.2 206.2 L983.7 208.6 L985.5 208.8 L987.4 208.4 L987.9 210.3 L988.4 214.0 L988.9 217.4 L988.9 221.3 L988.9 224.3 L988.9 223.2 L988.9 225.5 L988.9 229.8 L988.9 229.9 L988.9 234.3 L988.9 234.1 L988.9 239.3 L988.9 241.9 L988.9 244.8 L988.9 247.2 L988.9 252.0 L988.9 255.2 L988.9 257.6 L988.9 258.6 L988.9 261.1 L988.9 263.1 L988.9 266.1 L988.9 270.1 L988.9 272.7 L988.9 275.2 L988.9 278.3 L991.1 283.5 L992.6 282.1 L994.1 283.8 L995.6 286.0 L997.1 284.0 L998.6 280.9 L1000.1 278.4 L1001.6 279.3 L1003.1 275.1 L1004.6 275.9 L1006.0 274.8 L1007.3 280.2 L1008.7 276.9 L1010.0 282.5 L1011.7 284.1 L1012.9 282.4 L1014.1 279.4 L1015.3 275.6 L1016.5 271.6 L1017.7 273.3 L1019.2 268.4 L1020.7 269.6 L1022.2 267.5 L1023.7 269.3 L1025.1 270.9 L1026.6 269.7 L1028.1 271.3 L1029.6 270.9 L1030.2 267.8 L1030.8 266.3 L1031.4 263.7 L1032.0 258.1 L1032.6 253.5 L1034.1 254.8 L1035.6 250.0 L1037.1 248.7 L1038.6 245.8 L1040.1 246.6 L1041.6 246.3 L1043.1 239.5 L1044.6 241.8 L1045.4 235.9 L1046.1 232.5 L1046.9 231.9 L1047.6 230.3 L1048.4 223.5 L1049.1 220.2 L1049.9 220.9 L1050.6 216.3 L1051.3 207.0 L1052.1 208.5 L1052.8 204.4 L1053.6 201.6 L1054.4 199.8 L1055.3 196.0 L1056.2 193.3 L1057.0 194.8 L1057.9 185.6 L1058.7 186.0 L1059.6 184.3 L1061.1 178.5 L1062.6 176.5 L1064.1 173.8 L1065.6 173.9 L1067.1 168.2 L1068.6 169.5 L1070.1 169.5 L1071.6 172.4 L1073.1 178.4 L1074.6 179.9 L1076.0 176.9 L1077.5 178.4 L1079.0 181.5 L1080.5 180.3 L1082.0 180.9 L1083.5 182.1 L1085.0 185.2 L1086.5 180.9 L1088.0 189.0 L1089.5 188.6 L1091.0 187.9 L1091.8 182.7 L1092.5 179.3 L1093.3 178.8 L1094.0 173.2 L1095.5 178.6 L1097.0 173.9 L1098.5 177.2 L1100.0 176.2 L1101.5 174.7 L1103.0 175.8 L1104.5 175.5 L1106.0 177.9 L1107.5 177.5 L1109.0 175.2 L1110.5 173.1 L1112.0 175.6 L1113.5 180.3 L1115.0 182.2 L1116.5 183.3 L1118.0 179.9 L1119.5 178.0 L1121.0 177.7 L1122.5 174.6 L1124.0 175.9 L1125.4 181.3 L1126.9 180.9 L1128.4 182.9 L1129.9 183.1 L1131.1 181.5 L1132.2 179.5 L1133.3 175.7 L1134.4 169.8 L1135.9 168.5 L1137.4 167.4 L1138.9 163.8 L1140.4 163.2 L1141.9 158.5 L1143.4 156.6 L1144.9 156.9 L1146.4 153.6 L1147.9 154.5 L1149.4 148.9 L1151.0 151.0 L1152.5 155.1 L1154.2 151.1 L1155.9 147.2 L1157.4 146.0 L1158.9 143.8 L1160.4 137.8 L1161.9 142.1 L1163.3 140.0 L1164.8 135.9 L1166.5 132.7 L1168.2 132.5 L1169.7 130.9 L1171.2 133.6 L1172.7 132.9 L1174.4 130.1 L1176.1 131.2 L1177.7 134.8 L1179.4 137.7 L1180.9 141.4 L1182.4 141.0 L1183.9 145.3 L1185.4 146.7 L1186.9 149.3 L1188.4 147.7 L1189.9 153.2 L1191.4 153.8 L1192.9 159.7 L1194.4 162.1 L1195.9 162.8 L1197.4 167.6 L1199.0 162.1 L1200.7 160.9 L1202.4 155.4 L1204.1 153.6 L1205.8 148.6 L1207.4 147.1 L1208.9 151.0 L1210.4 150.6 L1211.9 151.5 L1213.6 152.6 L1215.3 154.4 L1216.4 153.2 L1217.5 145.1 L1219.2 144.5 L1220.9 140.9 L1221.8 137.7 L1222.8 135.1 L1223.7 133.5 L1224.6 137.9 L1225.6 135.6 L1226.5 139.2 L1228.2 138.8 L1229.9 133.1 L1231.5 135.0 L1233.2 130.8 L1234.3 129.6 L1235.5 125.1 L1236.6 123.0 L1237.4 127.0 L1238.3 118.4 L1239.1 119.0 L1240.0 113.4 L1240.7 116.6 L1241.4 115.9 L1242.2 121.0 L1242.8 122.1 L1243.3 120.8 L1243.9 124.5 L1244.4 132.4 L1245.6 136.5 L1246.7 136.4 L1247.8 138.5 L1248.9 142.8 L1250.0 150.3" stroke="#ff0000"/>
<path d="M197.4 835.4 L199.9 831.5 L201.4 831.9 L203.0 831.7 L204.5 832.2 L206.1 833.4 L207.6 833.2 L209.2 833.1 L210.7 834.0 L212.3 834.6 L213.9 835.9 L215.6 835.6 L217.3 837.0 L218.8 835.9 L220.4 833.5 L221.9 834.2 L223.5 832.7 L225.0 832.6 L226.6 833.2 L228.1 833.5 L229.7 834.8 L231.3 833.3 L233.0 832.6 L234.6 832.8 L236.3 834.0 L237.9 834.2 L239.6 835.4 L241.5 831.5 L243.3 828.6 L245.2 827.2 L247.0 825.9 L248.7 824.5 L250.3 824.2 L252.0 824.2 L253.5 823.9 L255.0 824.4 L256.5 824.6 L258.0 826.4 L259.4 825.5 L260.9 826.6 L262.4 826.0 L263.9 827.1 L265.4 825.7 L266.9 826.2 L268.4 824.8 L269.9 826.9 L271.4 826.6 L272.8 826.3 L274.3 827.7 L275.9 827.5 L277.4 826.2 L279.0 825.6 L280.5 824.3 L282.0 824.3 L283.5 824.2 L285.0 825.8 L286.5 824.5 L288.0 825.6 L289.5 826.4 L291.0 825.4 L292.4 824.3 L293.9 824.2 L295.4 825.2 L296.9 824.3 L298.4 824.8 L299.9 824.6 L301.4 825.5 L302.9 825.5 L304.4 826.0 L306.0 824.6 L307.5 824.6 L309.1 823.3 L310.7 823.2 L312.4 821.0 L314.0 818.0 L315.7 817.8 L317.3 817.6 L319.0 817.5 L320.5 815.8 L322.1 816.1 L323.6 817.7 L325.2 816.8 L326.7 815.8 L328.3 814.9 L329.9 814.7 L331.4 814.1 L333.1 812.9 L334.7 810.5 L336.4 809.9 L338.0 808.3 L339.7 806.3 L341.3 803.7 L343.2 801.1 L345.0 797.7 L346.5 796.4 L347.9 795.0 L349.3 793.4 L350.7 791.6 L352.1 790.1 L353.5 787.8 L354.8 785.8 L356.2 785.4 L357.5 783.8 L358.9 781.6 L360.2 780.9 L361.6 780.3 L362.9 779.0 L364.3 776.6 L365.6 774.5 L367.0 774.1 L368.3 772.7 L369.7 772.9 L371.0 770.2 L372.4 770.5 L373.7 768.7 L375.1 768.5 L376.4 767.3 L377.8 767.3 L379.1 766.1 L380.4 765.2 L381.8 763.8 L383.1 763.3 L384.5 761.4 L385.8 761.9 L387.2 760.6 L388.5 760.4 L389.9 757.0 L391.2 757.8 L392.6 755.7 L393.9 753.7 L395.3 753.3 L396.6 751.0 L398.0 749.9 L399.3 750.6 L400.7 747.3 L402.0 748.0 L403.4 748.3 L404.7 746.8 L406.1 746.9 L407.4 745.2 L408.8 743.5 L410.1 743.4 L411.5 742.0 L412.8 740.1 L414.2 739.8 L415.5 736.7 L416.9 736.9 L418.2 734.6 L419.5 734.6 L420.9 734.0 L422.2 733.6 L423.6 733.3 L424.9 733.9 L426.3 733.9 L427.6 732.8 L429.0 732.6 L430.3 731.6 L431.7 733.4 L433.0 732.5 L434.4 731.0 L435.7 731.2 L437.1 731.8 L438.4 729.8 L439.8 730.0 L441.1 729.1 L442.5 728.1 L443.8 727.8 L445.2 725.8 L446.5 726.9 L447.9 724.9 L449.2 724.3 L450.6 722.2 L451.9 726.9 L453.3 727.4 L454.6 727.3 L455.9 728.8 L457.3 729.4 L458.6 729.4 L460.0 729.4 L461.3 729.6 L462.7 730.1 L464.0 731.0 L465.4 731.2 L466.7 731.8 L468.1 730.7 L469.4 729.1 L470.8 730.6 L472.1 731.5 L473.5 729.4 L474.8 729.9 L476.2 729.5 L477.5 728.1 L478.9 728.2 L480.2 727.1 L481.6 728.4 L482.9 727.3 L484.3 726.5 L485.8 726.8 L487.4 726.4 L489.0 725.0 L490.7 721.4 L492.4 718.1 L493.7 715.9 L495.0 715.0 L496.4 712.7 L497.7 711.0 L499.1 706.8 L500.4 705.8 L501.8 704.7 L503.1 703.8 L504.5 700.8 L505.8 699.5 L506.9 696.8 L508.0 694.8 L509.5 694.4 L511.0 693.8 L512.5 692.4 L514.0 693.6 L515.4 690.9 L516.9 691.5 L518.4 690.6 L519.9 688.9 L521.4 686.8 L522.9 684.5 L524.4 683.5 L525.9 682.0 L527.4 681.1 L528.9 679.8 L530.4 680.6 L531.9 677.7 L533.4 676.8 L534.9 677.2 L536.4 675.3 L537.9 675.3 L539.4 672.5 L540.9 668.9 L542.4 667.2 L543.9 663.0 L545.2 662.5 L546.7 662.4 L548.2 659.8 L549.7 658.4 L551.2 659.3 L552.7 656.2 L554.2 653.3 L555.7 654.9 L557.2 650.9 L558.7 652.8 L560.2 652.0 L561.7 652.4 L563.2 653.1 L564.7 654.4 L566.2 658.2 L567.8 655.8 L569.3 656.7 L570.8 657.9 L572.3 658.5 L573.8 661.1 L575.3 660.6 L576.8 659.5 L578.3 659.6 L579.8 658.5 L581.3 657.4 L582.8 656.7 L584.3 655.6 L585.8 654.4 L587.3 652.9 L588.8 651.9 L590.3 651.8 L591.5 646.1 L592.8 644.3 L594.0 641.3 L595.6 638.8 L597.2 637.2 L598.7 636.7 L600.3 633.7 L601.8 635.1 L603.3 635.6 L604.8 635.5 L606.3 635.8 L607.8 636.9 L609.3 637.0 L610.8 634.8 L612.3 636.9 L613.8 634.8 L615.3 634.1 L616.8 633.4 L618.3 631.2 L619.8 627.3 L621.3 628.7 L622.8 625.0 L624.4 623.8 L626.0 621.2 L627.5 619.0 L629.1 616.3 L630.7 614.0 L632.2 611.5 L633.8 608.8 L635.4 607.8 L636.9 604.6 L638.5 602.6 L640.0 599.6 L641.6 597.4 L643.2 596.3 L644.7 592.8 L646.3 593.8 L647.9 590.1 L649.4 587.7 L651.0 585.0 L652.6 583.2 L654.1 581.1 L655.7 578.8 L657.3 575.1 L658.8 572.3 L660.4 570.8 L661.6 568.0 L662.9 564.5 L664.1 563.8 L665.4 558.6 L666.1 555.3 L666.9 553.8 L667.7 549.4 L668.4 546.8 L669.2 543.3 L670.1 539.8 L671.0 537.2 L672.0 533.1 L672.9 532.7 L674.6 529.3 L676.2 528.3 L677.9 523.2 L679.6 520.2 L681.3 519.5 L682.9 515.2 L683.8 513.7 L684.6 508.8 L685.4 504.4 L686.3 503.1 L687.1 500.1 L687.9 498.0 L688.9 493.7 L689.8 491.4 L690.7 488.3 L691.7 483.8 L693.4 481.9 L695.0 480.8 L696.7 477.6 L698.3 478.7 L699.8 478.5 L701.4 476.4 L703.0 474.7 L704.5 473.3 L706.0 475.0 L707.5 475.0 L709.0 470.4 L710.5 474.9 L712.1 475.5 L713.8 474.3 L715.5 476.2 L716.7 473.0 L718.0 470.0 L719.2 465.7 L720.8 465.1 L722.4 463.2 L723.9 463.3 L725.5 458.7 L727.2 454.6 L728.8 453.3 L730.5 449.1 L731.8 448.7 L733.2 447.5 L734.5 445.9 L735.8 444.7 L737.2 443.6 L738.5 442.8 L739.7 440.8 L740.9 440.7 L742.1 435.3 L743.3 431.1 L744.5 427.6 L746.0 427.4 L747.5 422.0 L749.0 419.8 L750.5 417.9 L752.0 418.1 L753.5 421.9 L754.6 422.0 L755.7 427.2 L756.8 430.9 L758.0 431.3 L759.5 429.3 L761.0 427.0 L762.5 424.3 L764.0 421.7 L765.4 418.6 L766.8 418.0 L768.1 417.6 L769.4 417.5 L770.8 416.8 L772.1 415.4 L773.4 413.5 L774.8 414.3 L776.1 413.9 L777.4 412.2 L778.6 408.6 L779.8 408.9 L781.0 400.4 L782.2 401.5 L783.4 398.3 L784.6 397.2 L785.8 394.8 L787.0 390.2 L788.2 386.2 L789.4 385.0 L790.9 380.0 L792.4 379.1 L793.9 375.3 L795.4 374.4 L796.5 368.0 L797.6 366.6 L798.8 364.3 L799.9 360.8 L800.2 361.0 L801.8 360.0 L803.5 360.3 L805.2 362.3 L806.9 360.8 L808.5 361.1 L810.2 362.7 L811.7 360.8 L813.2 359.2 L814.7 354.8 L816.2 353.5 L817.7 351.6 L819.3 345.9 L820.8 344.9 L822.4 341.5 L824.0 340.5 L825.5 339.1 L827.1 337.2 L828.7 334.3 L830.2 334.8 L831.9 336.0 L833.6 336.8 L835.2 337.0 L836.9 336.7 L838.6 335.3 L840.2 333.4 L841.8 332.5 L843.4 333.7 L844.9 333.2 L846.5 334.8 L848.1 335.1 L849.6 332.1 L851.2 330.6 L852.8 330.8 L854.0 325.3 L855.3 323.0 L856.5 317.7 L857.8 318.1 L859.0 313.0 L860.2 311.0 L861.4 308.2 L862.6 304.2 L863.8 302.4 L865.0 296.2 L866.2 294.5 L867.5 289.6 L868.7 291.2 L869.9 287.7 L871.4 286.6 L872.9 284.2 L874.4 282.2 L875.9 277.2 L877.4 275.5 L878.9 277.3 L880.4 281.2 L881.9 279.2 L883.4 280.4 L884.9 277.2 L886.3 274.9 L887.8 271.4 L889.3 267.6 L890.8 269.6 L892.3 265.7 L893.8 268.3 L895.3 264.9 L896.8 264.6 L898.3 263.3 L899.8 260.3 L901.3 261.1 L902.8 263.5 L904.3 258.8 L905.8 257.8 L907.3 261.0 L908.8 254.1 L910.3 255.5 L911.8 254.3 L913.3 255.4 L914.8 252.5 L915.9 248.8 L917.0 242.7 L918.2 242.9 L919.3 238.4 L920.8 240.3 L922.3 236.3 L923.8 238.8 L925.3 236.9 L926.8 235.9 L928.3 238.4 L929.8 238.6 L931.3 239.0 L932.8 235.9 L934.3 233.6 L935.7 229.1 L937.2 225.4 L938.7 223.6 L940.2 222.2 L941.7 225.8 L943.2 225.5 L944.7 221.1 L946.2 221.7 L947.7 219.7 L949.2 217.6 L950.7 216.3 L952.2 214.7 L953.7 212.0 L955.2 207.7 L956.7 214.0 L958.2 210.9 L959.2 213.0 L960.2 209.0 L961.2 203.9 L962.7 201.7 L964.2 198.9 L965.7 199.3 L966.4 193.3 L967.2 190.5 L967.9 189.0 L968.7 188.1 L970.2 183.4 L971.7 184.1 L973.2 181.4 L974.7 181.9 L976.2 175.6 L977.7 175.8 L979.2 172.9 L980.7 168.6 L982.2 168.3 L983.2 166.6 L984.2 160.3 L985.1 157.9 L986.6 156.2 L988.1 156.1 L989.6 153.5 L991.1 153.2 L992.6 153.9 L994.1 153.7 L995.3 151.4 L996.5 149.2 L997.7 149.5 L998.9 144.9 L1000.4 138.4 L1001.9 140.1 L1003.4 142.0 L1004.6 144.5 L1005.8 141.9 L1007.0 147.7 L1008.2 153.6 L1009.4 152.1 L1010.6 150.0 L1011.8 148.2 L1013.0 143.4 L1014.2 144.6 L1015.4 140.3 L1016.9 138.8 L1018.4 135.2 L1019.9 136.5 L1021.4 132.4 L1022.9 130.1 L1024.4 129.7 L1025.9 126.1 L1027.4 126.2 L1028.9 130.2 L1030.4 123.0 L1031.9 121.3 L1033.4 123.5 L1034.9 125.6 L1036.3 127.3 L1037.8 127.5 L1039.3 124.5 L1040.8 127.6 L1041.6 121.9 L1042.3 124.3 L1043.1 120.8 L1043.8 118.6 L1044.6 109.9 L1045.3 104.8 L1046.8 107.8 L1048.3 104.7 L1049.8 104.5 L1051.3 104.3 L1052.8 101.1 L1054.3 98.7 L1055.8 101.0 L1057.3 99.0 L1058.8 98.0 L1060.3 93.9 L1061.8 90.2 L1063.3 90.5 L1064.8 88.4 L1066.3 88.6 L1067.8 87.7 L1069.3 85.5 L1070.8 92.5 L1072.3 97.4 L1073.8 99.4 L1075.3 97.1 L1076.8 100.1 L1078.3 101.7 L1079.8 105.7 L1081.3 106.0 L1082.8 101.7 L1084.3 102.2 L1085.7 101.3 L1087.2 98.9 L1088.7 100.9 L1090.2 96.8 L1091.7 100.8 L1093.2 102.8 L1094.7 105.7 L1096.2 109.7 L1097.7 108.0 L1099.2 113.0 L1100.7 113.2 L1102.2 109.4 L1103.7 110.4 L1105.2 108.4 L1106.7 110.0 L1108.2 109.2 L1109.7 112.6 L1111.2 114.1 L1112.7 117.7 L1114.2 121.2 L1115.7 124.1 L1116.8 117.4 L1117.9 117.1 L1119.1 113.3 L1120.2 112.1 L1121.1 114.1 L1122.6 115.9 L1124.1 114.4 L1125.6 113.7 L1127.0 116.9 L1128.4 115.6 L1129.8 111.0 L1131.2 116.3 L1132.9 112.8 L1134.6 112.6 L1135.7 109.8 L1136.8 108.6 L1137.9 101.7 L1139.4 101.4 L1140.9 96.9 L1142.4 93.4 L1143.9 89.8 L1145.4 91.5 L1146.9 91.9 L1148.3 87.3 L1149.7 88.4 L1151.1 85.7 L1152.5 86.3 L1153.9 84.2 L1155.3 85.5 L1156.7 82.3 L1158.1 85.3 L1159.5 87.4 L1160.8 86.0 L1162.2 82.9 L1163.5 80.4 L1164.8 84.6 L1166.2 82.4 L1167.6 84.9 L1169.0 87.3 L1170.4 81.0 L1171.8 84.5 L1173.3 84.6 L1174.7 86.2 L1176.1 85.4 L1177.4 88.6 L1178.7 87.2 L1180.1 88.8 L1181.4 84.2 L1182.8 88.8 L1184.1 88.7 L1185.5 88.9 L1186.8 90.7 L1188.2 86.9 L1189.5 85.8 L1190.9 96.1 L1192.2 92.9 L1193.5 93.1 L1194.9 97.3 L1196.2 96.8 L1197.6 95.9 L1198.9 97.1 L1200.3 98.9 L1201.6 95.9 L1203.0 96.6 L1204.5 100.0 L1205.9 98.2 L1207.4 98.9 L1208.9 102.9 L1210.4 100.3 L1211.9 103.6 L1213.4 100.4 L1214.9 98.8 L1216.4 99.4 L1217.9 98.3 L1219.4 94.1 L1220.9 99.2 L1222.3 94.2 L1223.7 96.0 L1225.1 88.9 L1226.5 88.2 L1227.9 87.0 L1229.3 89.7 L1230.7 90.5 L1232.1 91.8 L1233.5 86.2 L1234.9 86.5 L1236.3 89.0 L1237.7 88.0 L1239.1 86.0 L1240.5 86.6 L1241.9 86.5 L1243.3 90.8 L1244.7 87.8 L1246.0 88.5 L1247.4 90.8 L1248.7 86.7 L1250.0 90.1" stroke="#00bfff"/>
<path d="M197.4 792.4 L199.3 790.3 L201.1 790.0 L202.8 790.9 L204.4 794.0 L206.1 795.1 L207.7 795.6 L209.4 796.6 L211.1 799.4 L212.6 799.7 L214.2 801.0 L215.7 801.4 L217.3 802.7 L218.8 802.4 L220.4 801.2 L221.9 801.6 L223.5 801.1 L225.0 801.9 L226.6 801.6 L228.1 802.5 L229.7 803.6 L231.3 803.7 L233.0 803.9 L234.6 805.7 L236.2 803.8 L237.7 803.2 L239.3 803.2 L240.8 801.6 L242.4 802.5 L243.9 803.4 L245.5 802.9 L247.0 803.8 L248.7 802.5 L250.3 801.4 L252.0 802.2 L253.5 801.9 L255.1 802.1 L256.7 803.1 L258.2 802.7 L259.7 802.8 L261.2 804.2 L262.7 803.7 L264.2 805.2 L265.6 804.2 L267.2 802.3 L268.7 802.1 L270.3 800.4 L271.8 799.8 L273.5 800.2 L275.2 798.1 L276.8 795.7 L278.5 794.4 L280.1 792.8 L281.8 791.0 L283.3 789.9 L284.9 788.4 L286.4 787.6 L288.0 786.7 L289.5 786.1 L291.1 784.9 L292.6 783.9 L294.2 780.5 L295.7 781.5 L297.3 781.3 L298.8 780.5 L300.4 778.6 L301.8 780.1 L303.3 778.6 L304.7 779.5 L306.2 778.4 L307.6 778.4 L309.1 777.8 L310.4 778.9 L311.8 779.4 L313.2 778.6 L314.6 780.5 L316.0 779.0 L317.3 779.9 L318.7 779.7 L320.1 780.5 L321.5 779.9 L322.9 780.4 L324.2 780.3 L325.6 780.1 L327.0 780.2 L328.4 781.3 L329.7 781.1 L331.1 780.6 L332.5 781.3 L333.9 781.3 L335.4 780.1 L336.9 778.4 L338.3 780.2 L339.8 779.4 L341.3 778.9 L342.7 779.5 L344.0 777.4 L345.4 778.2 L346.7 778.6 L348.1 778.3 L349.4 777.0 L350.8 777.1 L352.1 777.3 L353.5 776.5 L354.8 777.6 L356.2 777.2 L357.5 777.6 L358.9 777.3 L360.2 777.6 L361.6 777.7 L362.9 778.7 L364.3 778.5 L365.6 779.7 L367.0 778.4 L368.3 779.7 L369.7 780.8 L371.0 780.9 L372.4 780.2 L373.7 781.8 L375.1 781.5 L376.4 781.1 L377.8 782.0 L379.1 780.5 L380.4 780.8 L381.8 781.3 L383.1 782.4 L384.5 782.8 L385.8 786.5 L387.2 786.2 L388.5 788.7 L389.9 791.4 L391.2 791.8 L392.6 792.9 L393.9 794.4 L395.3 795.1 L396.6 797.4 L398.0 798.5 L399.3 798.6 L400.7 798.7 L402.0 799.4 L403.4 800.9 L404.7 800.2 L406.1 799.3 L407.4 798.7 L408.8 797.0 L410.1 797.6 L411.5 796.3 L412.8 791.5 L414.2 788.7 L415.8 785.6 L417.5 781.2 L419.2 779.4 L420.9 778.0 L422.2 778.5 L423.6 776.4 L424.9 778.4 L426.3 776.5 L427.6 777.1 L429.0 777.7 L430.3 777.2 L431.7 778.0 L433.0 779.0 L434.4 778.6 L435.7 779.7 L437.1 777.6 L438.4 776.4 L439.8 774.8 L441.1 774.2 L442.5 772.9 L443.8 771.9 L445.2 770.7 L446.5 770.5 L447.9 770.1 L449.2 769.8 L450.6 768.1 L451.9 769.0 L453.3 769.9 L454.6 768.5 L455.9 768.6 L457.3 767.1 L458.6 768.0 L460.0 767.6 L461.3 766.2 L462.7 764.9 L464.0 765.9 L465.4 765.3 L466.7 763.8 L468.1 765.2 L469.4 764.0 L470.8 760.1 L472.1 757.0 L473.5 754.2 L474.8 753.7 L476.2 751.7 L477.5 750.0 L478.9 751.6 L480.2 752.4 L481.6 753.7 L483.3 756.6 L484.9 759.8 L486.5 760.4 L488.1 759.5 L489.7 759.4 L491.0 762.3 L492.4 763.6 L493.7 763.4 L495.0 765.2 L496.4 765.3 L497.7 769.1 L499.4 767.8 L501.1 771.3 L502.8 767.2 L504.5 765.6 L505.8 765.6 L507.2 764.3 L508.5 763.4 L509.9 762.7 L511.2 762.1 L512.6 759.9 L513.9 758.7 L515.3 757.9 L516.8 755.9 L518.3 753.7 L519.9 753.5 L521.4 750.9 L522.9 748.3 L524.4 746.9 L525.9 745.3 L527.4 743.5 L528.9 742.2 L530.4 740.6 L531.9 738.1 L533.4 735.2 L534.9 733.9 L536.4 732.7 L537.9 730.2 L539.4 729.7 L540.9 728.4 L542.4 725.2 L543.9 723.5 L545.4 721.8 L546.9 721.6 L548.4 718.8 L549.9 718.5 L551.4 717.9 L552.9 719.1 L554.4 716.7 L555.9 716.4 L557.4 716.0 L558.9 714.9 L560.4 712.9 L561.9 713.1 L563.4 711.3 L564.9 709.9 L566.3 707.6 L567.8 706.1 L569.3 704.9 L570.8 702.4 L572.3 701.3 L573.8 699.5 L575.3 698.9 L576.8 697.0 L578.3 695.2 L579.8 696.2 L581.3 693.0 L582.8 692.5 L584.3 690.6 L585.8 689.3 L587.3 685.6 L588.8 686.5 L590.3 683.4 L591.8 682.4 L593.3 679.4 L594.8 678.1 L596.3 676.9 L597.8 676.2 L599.3 672.3 L600.8 672.5 L602.3 670.0 L603.8 668.5 L605.3 666.8 L606.8 665.1 L608.3 662.2 L609.8 659.6 L611.3 656.9 L612.8 655.8 L614.3 656.0 L615.7 656.4 L617.2 655.4 L618.7 656.5 L620.2 658.0 L621.7 659.6 L623.2 663.3 L624.7 664.7 L626.2 664.1 L627.7 663.9 L629.2 667.0 L630.7 667.9 L632.2 665.8 L633.7 661.0 L635.2 662.4 L636.7 660.2 L638.2 656.4 L639.8 656.1 L641.3 650.0 L642.9 648.4 L644.5 645.9 L646.2 642.7 L647.9 640.5 L649.4 638.8 L650.9 637.6 L652.4 635.2 L653.9 635.9 L655.4 633.4 L656.9 632.1 L658.4 629.5 L659.9 625.7 L661.4 623.3 L662.9 622.3 L664.4 620.2 L665.9 620.0 L667.4 619.2 L668.9 618.9 L670.4 620.0 L671.9 616.1 L673.4 614.4 L674.9 613.9 L676.4 611.0 L677.9 611.0 L679.6 607.8 L681.3 607.0 L682.9 607.3 L684.4 605.2 L685.9 601.1 L687.4 600.4 L688.9 597.4 L690.4 595.2 L691.9 592.7 L693.4 589.9 L694.9 588.5 L696.4 586.5 L697.9 584.9 L699.5 583.8 L701.1 585.4 L702.6 580.7 L704.2 583.1 L705.0 579.0 L705.9 574.9 L706.7 572.2 L708.3 573.5 L709.8 570.0 L711.4 570.2 L713.0 571.5 L714.5 568.3 L716.1 564.7 L717.7 563.4 L719.2 560.0 L720.9 557.8 L722.6 556.7 L724.2 557.6 L725.9 556.3 L727.6 558.4 L729.2 559.4 L730.5 553.1 L731.7 552.5 L733.0 549.1 L734.3 544.0 L735.5 543.1 L737.0 541.7 L738.5 537.7 L740.0 538.3 L741.5 539.1 L743.0 535.6 L744.5 532.2 L746.0 530.6 L747.5 529.6 L749.0 527.1 L750.5 523.5 L752.0 524.1 L753.5 522.5 L755.0 522.2 L756.5 521.0 L758.0 519.9 L759.5 517.3 L761.0 519.3 L762.5 518.7 L764.0 516.5 L765.4 516.3 L766.9 513.6 L768.4 509.8 L769.9 506.1 L771.4 503.9 L772.6 498.7 L773.8 496.0 L775.0 494.2 L776.2 492.7 L777.4 488.5 L778.9 483.4 L780.4 481.7 L781.9 481.9 L783.4 478.6 L784.9 475.2 L786.4 472.2 L787.9 470.7 L789.4 467.8 L790.9 464.3 L792.4 464.9 L793.9 461.7 L795.4 458.9 L796.9 454.0 L798.4 451.9 L799.6 448.7 L800.8 446.1 L802.0 443.0 L803.2 440.0 L804.4 437.0 L805.9 435.6 L807.4 433.5 L808.9 431.3 L810.4 428.8 L811.9 427.5 L813.4 426.7 L814.9 425.2 L816.3 427.5 L816.9 424.7 L817.5 420.8 L818.1 416.0 L818.7 412.3 L819.3 409.3 L820.8 410.8 L822.3 409.9 L823.8 411.3 L825.3 408.3 L826.8 404.6 L828.3 403.0 L829.8 399.0 L831.3 395.5 L832.8 393.3 L834.3 389.5 L835.8 386.6 L837.3 386.0 L838.8 381.5 L840.3 380.3 L841.8 378.8 L843.3 380.6 L844.8 379.2 L846.3 378.5 L847.8 377.1 L849.3 377.3 L850.8 376.2 L852.3 376.2 L853.8 375.1 L855.3 372.6 L856.8 370.5 L858.3 369.6 L859.8 367.4 L861.3 364.0 L862.8 362.9 L864.3 360.8 L865.8 358.6 L867.3 360.1 L868.8 355.7 L870.3 354.9 L871.8 351.9 L873.3 350.7 L874.8 349.3 L876.3 344.0 L877.8 344.8 L879.3 341.8 L880.8 338.5 L882.3 334.8 L883.8 332.0 L885.3 331.9 L886.8 329.0 L888.3 328.5 L889.8 327.4 L891.3 326.7 L892.8 326.5 L894.3 324.3 L895.8 320.2 L897.3 320.3 L898.8 315.9 L900.3 312.6 L902.0 312.1 L903.7 308.1 L905.3 309.6 L906.7 306.2 L908.0 300.3 L909.4 301.8 L910.7 298.1 L912.1 294.2 L913.4 294.8 L914.8 294.2 L916.3 290.0 L917.8 288.0 L919.3 285.6 L920.8 285.9 L922.3 284.4 L923.8 285.2 L925.3 286.1 L926.8 286.7 L928.3 288.0 L929.8 291.2 L931.3 289.8 L932.8 289.9 L934.3 287.1 L935.7 285.6 L937.2 286.5 L938.7 286.7 L940.2 288.7 L941.7 286.8 L943.2 290.2 L944.7 289.2 L946.2 289.7 L947.7 291.1 L949.2 290.3 L950.7 288.8 L952.2 285.6 L953.7 288.1 L955.2 288.7 L956.7 288.9 L958.2 281.2 L959.7 282.6 L961.2 279.0 L962.7 280.0 L964.2 280.6 L965.7 275.5 L967.2 275.6 L968.7 276.4 L970.2 274.4 L971.7 271.3 L973.2 269.9 L974.7 268.1 L976.2 265.1 L977.7 266.9 L979.2 268.1 L980.7 267.0 L982.2 266.2 L983.7 269.6 L985.1 269.9 L986.6 266.8 L988.1 265.9 L989.6 261.7 L991.1 259.9 L992.6 262.9 L994.1 257.5 L995.6 257.8 L997.1 260.7 L998.6 258.8 L1000.1 255.1 L1001.6 253.0 L1003.1 248.6 L1004.6 247.1 L1006.1 241.7 L1007.6 245.6 L1009.0 241.4 L1010.4 243.8 L1011.9 244.8 L1013.3 246.0 L1014.8 245.2 L1016.2 247.1 L1017.7 248.7 L1019.2 246.2 L1020.7 244.6 L1022.2 242.0 L1023.7 242.8 L1025.1 242.1 L1026.6 243.7 L1028.1 244.3 L1029.6 244.9 L1030.4 247.7 L1031.1 252.8 L1032.0 252.0 L1032.9 246.1 L1033.8 243.9 L1034.7 241.8 L1035.6 237.5 L1037.1 239.7 L1038.6 236.9 L1040.1 238.5 L1041.6 234.3 L1042.4 230.0 L1043.1 232.5 L1043.9 225.0 L1044.6 222.3 L1045.4 219.6 L1046.1 220.4 L1047.6 218.0 L1049.1 215.9 L1050.6 210.6 L1051.7 208.8 L1052.8 208.3 L1054.0 202.1 L1055.1 197.9 L1056.6 196.0 L1058.1 195.9 L1059.6 191.3 L1061.1 192.1 L1062.6 185.7 L1064.1 184.5 L1065.6 181.1 L1067.1 178.4 L1068.6 181.3 L1070.1 177.8 L1071.6 182.2 L1073.1 178.5 L1074.6 181.3 L1076.0 183.9 L1077.5 181.1 L1079.0 181.9 L1080.5 186.0 L1082.0 187.2 L1083.5 182.1 L1085.0 180.6 L1086.5 178.9 L1088.0 173.4 L1089.5 174.0 L1091.0 175.1 L1092.5 178.8 L1094.0 178.7 L1095.5 179.4 L1097.0 179.3 L1098.5 179.9 L1100.0 178.7 L1101.5 175.0 L1103.0 177.2 L1104.5 174.8 L1106.0 176.9 L1107.5 174.2 L1109.0 176.1 L1110.5 173.2 L1112.0 173.1 L1113.5 176.8 L1115.0 175.2 L1116.5 176.0 L1118.0 179.4 L1119.5 176.2 L1121.0 176.9 L1122.5 178.1 L1124.0 178.1 L1125.4 176.7 L1126.9 179.7 L1128.4 182.3 L1129.9 180.5 L1131.4 173.1 L1132.9 170.4 L1134.4 167.5 L1135.6 163.5 L1136.7 159.7 L1137.8 163.0 L1138.9 157.1 L1139.6 152.2 L1140.2 150.5 L1141.7 153.5 L1143.2 151.3 L1144.7 148.1 L1146.2 143.1 L1147.7 144.2 L1149.1 140.9 L1150.6 140.8 L1152.1 133.7 L1153.6 136.6 L1155.1 130.7 L1156.6 133.3 L1158.1 133.7 L1159.6 133.7 L1161.1 128.9 L1162.6 125.7 L1164.1 128.6 L1165.6 122.7 L1167.1 123.0 L1168.8 127.0 L1170.4 128.9 L1171.9 124.1 L1173.4 122.3 L1174.9 120.9 L1176.4 121.3 L1177.9 117.7 L1179.4 116.2 L1181.1 117.2 L1182.8 115.8 L1184.3 113.4 L1185.8 110.3 L1187.3 113.4 L1188.8 112.3 L1190.3 108.5 L1191.7 103.6 L1193.2 103.3 L1194.7 103.0 L1196.2 99.6 L1197.7 103.7 L1199.2 102.9 L1200.7 100.8 L1202.1 101.5 L1203.5 103.4 L1204.9 101.3 L1206.3 101.5 L1207.8 102.8 L1209.3 103.2 L1210.8 104.7 L1212.3 100.4 L1213.8 104.3 L1215.3 102.6 L1216.8 101.9 L1218.3 107.1 L1219.8 106.5 L1221.5 106.1 L1223.1 104.7 L1224.8 101.4 L1226.5 105.6 L1228.0 107.0 L1229.5 105.1 L1231.0 110.8 L1232.7 102.9 L1234.3 98.5 L1235.8 94.1 L1237.2 91.6 L1238.8 89.8 L1240.5 88.7 L1241.9 92.4 L1243.3 97.8 L1245.6 104.5 L1247.2 103.1 L1248.9 93.7 L1250.0 94.9" stroke="#008000"/>
<path d="M197.4 794.3 L199.3 795.5 L201.1 797.4 L202.8 798.4 L204.4 799.1 L206.1 800.2 L206.9 797.9 L207.7 794.4 L208.6 791.2 L210.2 793.0 L211.9 792.7 L213.5 792.0 L215.4 791.6 L217.3 790.8 L217.8 787.5 L218.3 784.3 L218.7 780.8 L219.2 779.2 L219.7 776.1 L221.4 776.5 L223.0 774.8 L224.7 774.5 L226.3 772.1 L227.8 770.1 L229.2 771.9 L230.5 770.6 L231.9 773.2 L233.3 772.9 L234.6 773.6 L236.0 774.2 L237.5 776.6 L238.9 776.6 L240.3 778.7 L241.7 778.8 L243.1 779.8 L244.6 781.5 L246.0 782.2 L247.4 782.6 L248.8 784.0 L250.2 785.1 L251.6 785.9 L253.1 787.0 L254.5 786.3 L256.0 788.1 L257.6 789.1 L259.1 788.7 L260.7 789.3 L261.5 785.9 L262.3 782.8 L263.2 779.4 L264.7 780.9 L266.3 782.2 L267.8 780.9 L269.4 781.7 L270.8 783.1 L272.2 782.9 L273.6 784.7 L275.0 783.4 L276.5 785.2 L277.9 786.2 L279.3 787.8 L280.7 787.2 L282.2 788.8 L283.6 789.4 L285.1 789.1 L286.5 790.8 L288.0 792.7 L289.5 792.8 L291.1 793.6 L292.6 793.9 L294.2 794.2 L295.7 792.8 L297.2 793.1 L298.6 792.6 L300.1 793.2 L301.6 792.2 L303.1 791.3 L304.6 789.2 L306.1 788.7 L307.6 787.2 L309.1 787.2 L310.6 785.2 L312.2 784.4 L313.7 781.4 L315.3 779.5 L316.8 778.8 L318.4 779.7 L319.9 779.5 L321.5 779.9 L323.0 778.7 L324.6 777.3 L326.1 777.2 L327.7 774.0 L329.2 775.6 L330.8 775.5 L332.3 775.5 L333.9 774.8 L335.4 773.9 L336.9 774.0 L338.3 773.9 L339.8 772.1 L341.3 774.6 L343.0 771.3 L344.6 770.5 L346.3 768.6 L347.7 766.9 L349.2 765.2 L350.6 764.2 L352.0 763.6 L353.5 761.3 L354.8 759.1 L356.2 758.9 L357.5 760.0 L358.9 758.8 L360.2 758.4 L361.6 757.3 L362.9 756.6 L364.3 757.3 L365.6 756.7 L367.0 756.5 L368.3 755.5 L369.7 754.8 L371.0 755.5 L372.4 755.5 L373.0 751.9 L373.7 749.7 L374.4 746.9 L375.1 743.5 L376.4 740.9 L377.8 738.1 L379.1 734.0 L380.4 733.5 L381.8 731.7 L383.1 730.2 L384.5 728.9 L385.8 728.2 L387.2 727.5 L388.9 726.3 L390.6 724.0 L392.2 727.0 L393.9 728.5 L395.3 733.1 L396.6 736.1 L398.0 739.0 L399.3 738.1 L400.7 739.7 L402.0 739.8 L403.4 740.2 L404.7 740.3 L406.1 739.0 L407.4 739.4 L408.8 735.7 L410.1 732.6 L411.5 729.7 L412.8 725.4 L414.2 726.0 L415.5 722.3 L416.9 722.0 L418.2 721.1 L419.5 717.1 L420.9 714.4 L422.2 712.7 L423.6 714.3 L424.9 712.9 L426.3 716.0 L427.6 711.3 L429.0 710.2 L430.3 708.2 L431.7 709.9 L433.0 710.6 L434.4 710.8 L435.7 711.2 L437.1 709.6 L438.4 707.3 L439.8 705.7 L441.1 703.9 L442.5 701.9 L443.9 700.3 L445.4 696.6 L447.1 693.8 L448.7 690.9 L450.4 686.4 L452.1 684.0 L453.7 683.4 L455.4 681.1 L456.7 675.5 L457.9 674.5 L459.4 673.8 L460.9 674.6 L462.4 672.8 L463.9 670.9 L465.4 671.5 L466.7 666.6 L467.9 663.4 L468.9 658.8 L469.8 656.3 L470.7 654.1 L471.7 650.9 L473.4 648.0 L475.0 646.5 L476.7 646.7 L478.6 646.2 L480.5 646.2 L481.1 641.2 L481.8 639.4 L482.4 636.8 L483.1 633.1 L483.7 632.3 L484.4 629.8 L485.1 627.1 L485.7 625.2 L486.4 620.8 L487.9 619.6 L489.5 618.3 L491.1 617.2 L492.6 615.9 L493.2 611.2 L493.7 608.2 L494.2 606.2 L494.8 603.2 L495.3 601.2 L495.9 599.1 L496.4 594.6 L497.4 592.8 L498.4 589.3 L499.4 588.0 L500.4 584.7 L501.4 580.8 L502.4 577.7 L503.4 575.1 L504.4 572.3 L505.4 569.2 L506.4 566.1 L507.7 563.6 L508.9 559.1 L510.2 555.9 L511.1 551.9 L512.0 550.9 L513.0 548.7 L513.9 544.7 L515.6 544.6 L517.3 541.5 L518.9 543.8 L520.8 543.3 L522.7 545.8 L523.9 544.1 L525.2 540.7 L526.4 537.6 L527.7 534.1 L529.3 532.0 L530.8 528.3 L532.4 523.4 L534.0 523.6 L535.5 521.1 L537.1 516.9 L538.6 514.0 L540.2 514.5 L540.8 510.0 L541.5 506.9 L542.1 504.5 L542.7 502.6 L544.4 500.0 L546.1 497.8 L547.7 499.5 L549.0 493.3 L550.2 493.6 L551.5 486.0 L553.0 486.6 L554.6 482.6 L556.2 483.1 L557.7 480.3 L559.2 477.9 L560.7 478.5 L562.2 479.8 L563.7 481.0 L565.2 479.2 L566.2 477.7 L567.1 473.7 L568.1 471.8 L569.0 466.3 L570.6 468.1 L572.1 466.4 L573.7 461.9 L575.3 462.9 L576.9 460.3 L578.6 454.4 L580.3 453.5 L581.9 451.8 L583.6 449.8 L585.3 450.2 L586.5 456.9 L587.8 459.0 L589.3 459.1 L590.9 455.9 L592.5 454.2 L594.0 454.8 L594.7 452.1 L595.3 449.7 L595.9 444.6 L596.5 442.3 L597.2 438.2 L597.8 433.9 L598.7 432.9 L599.7 432.6 L600.6 428.6 L601.6 426.9 L602.7 419.6 L603.9 422.9 L605.1 418.3 L606.2 416.7 L607.4 414.1 L608.6 409.2 L609.8 404.6 L611.3 404.9 L612.8 401.5 L614.3 398.2 L615.7 394.7 L617.2 394.3 L618.7 391.8 L620.2 389.4 L621.7 393.2 L623.2 395.0 L624.7 400.8 L626.2 396.4 L627.7 400.1 L629.2 398.1 L630.7 396.9 L632.2 394.3 L633.1 393.5 L634.0 390.3 L634.9 391.8 L635.8 390.5 L636.7 385.9 L637.8 382.0 L639.0 377.8 L640.1 377.1 L641.2 372.9 L641.9 372.4 L642.7 367.1 L643.4 364.0 L644.2 359.8 L644.9 359.7 L645.7 354.9 L647.2 354.6 L648.7 352.0 L650.2 351.4 L651.7 349.5 L653.2 348.3 L654.7 341.5 L656.2 341.8 L657.7 339.0 L659.2 337.8 L660.1 335.1 L661.0 329.5 L661.9 327.0 L662.8 326.0 L663.7 324.9 L665.1 323.7 L666.6 318.9 L668.1 312.1 L669.6 313.4 L671.1 309.8 L672.6 306.2 L674.1 303.4 L675.6 303.1 L677.1 300.8 L678.6 301.9 L680.1 301.0 L681.6 302.0 L683.3 298.6 L685.0 297.9 L686.5 292.5 L688.0 290.7 L689.5 290.4 L691.0 293.3 L692.5 289.4 L694.1 285.6 L695.6 288.7 L697.2 288.7 L698.8 286.6 L700.4 285.8 L702.1 285.3 L703.8 283.3 L704.4 289.3 L705.0 291.8 L705.7 297.0 L706.3 299.1 L706.9 300.6 L707.5 304.0 L709.0 309.6 L710.5 308.5 L712.0 307.7 L713.6 310.0 L715.1 313.2 L717.6 312.1 L719.1 312.6 L720.6 312.5 L722.1 309.5 L723.6 308.3 L725.1 304.7 L726.1 305.2 L727.1 298.1 L728.1 294.2 L729.1 296.3 L730.1 291.6 L730.8 290.5 L731.6 287.6 L732.3 285.4 L733.1 281.9 L733.8 278.7 L735.5 279.4 L737.2 274.2 L738.8 278.7 L740.1 273.8 L741.3 267.6 L742.6 267.3 L743.8 264.6 L745.1 261.5 L746.8 256.9 L748.4 257.6 L750.1 255.5 L751.0 257.8 L752.0 259.1 L752.9 266.6 L753.9 269.8 L754.8 264.7 L755.7 261.6 L756.7 263.6 L757.6 256.2 L759.1 254.6 L760.6 250.8 L762.1 253.0 L763.6 251.6 L765.1 248.3 L766.8 250.9 L768.5 256.1 L770.1 258.9 L771.4 254.9 L772.6 250.8 L773.9 250.6 L775.1 245.4 L776.4 245.2 L778.0 240.8 L779.5 243.0 L781.1 240.1 L782.7 238.5 L784.3 240.3 L786.0 240.1 L787.7 237.7 L789.5 237.0 L791.4 242.1 L792.1 237.1 L792.8 237.5 L793.6 232.0 L794.3 230.2 L795.0 226.2 L795.7 222.5 L796.4 221.4 L797.9 220.4 L799.3 218.9 L800.8 219.6 L802.3 218.5 L803.7 216.5 L805.2 217.6 L806.1 219.9 L807.1 228.4 L808.0 225.2 L808.9 231.8 L810.0 239.5 L811.5 234.1 L813.0 237.6 L814.5 234.9 L815.4 231.6 L816.3 230.5 L817.2 231.0 L818.1 229.3 L819.0 225.5 L820.5 224.5 L822.0 226.2 L823.5 230.5 L825.0 229.6 L826.5 227.7 L828.0 232.0 L829.5 227.4 L831.0 227.7 L832.5 227.0 L833.4 221.4 L834.3 220.1 L835.3 219.1 L836.2 211.2 L838.1 210.1 L839.9 207.9 L841.4 207.3 L842.9 211.7 L844.4 215.5 L845.9 214.5 L847.4 215.1 L848.9 220.7 L850.4 220.6 L851.9 222.8 L853.4 223.3 L854.9 220.1 L856.4 219.9 L857.9 218.1 L859.4 219.4 L860.9 217.8 L862.4 216.8 L863.9 214.3 L865.4 214.3 L866.9 207.0 L868.4 205.2 L869.9 207.0 L871.4 207.7 L872.9 208.7 L873.3 206.7 L873.7 202.9 L874.2 202.7 L874.6 198.4 L875.0 195.3 L875.4 194.9 L875.9 191.6 L877.4 185.7 L878.9 185.2 L880.4 180.4 L881.9 182.0 L883.4 182.1 L884.9 175.5 L886.3 179.3 L887.8 173.7 L889.3 171.5 L890.8 175.2 L892.3 178.0 L893.8 179.9 L895.3 178.9 L896.8 183.2 L897.7 183.3 L898.6 177.3 L899.5 174.2 L900.4 170.1 L901.3 166.8 L902.8 166.7 L904.3 166.4 L905.8 167.3 L907.3 164.1 L908.8 163.2 L910.3 156.6 L911.8 159.4 L913.3 156.9 L913.8 157.1 L914.3 150.2 L914.8 147.0 L915.3 145.7 L915.8 142.3 L916.3 143.4 L916.8 138.3 L917.3 134.1 L917.9 132.7 L919.4 132.1 L921.0 131.2 L922.6 134.1 L924.1 136.9 L925.7 137.0 L927.2 140.2 L928.8 141.9 L930.4 139.4 L932.0 134.4 L933.7 136.4 L935.4 133.8 L936.3 140.8 L937.3 142.2 L938.2 143.2 L939.1 146.8 L940.8 147.5 L942.5 151.5 L944.1 146.2 L945.4 143.3 L946.6 135.7 L947.9 142.3 L949.2 129.7 L950.8 135.5 L952.5 129.1 L954.2 129.3 L956.0 129.5 L957.9 131.1 L959.5 130.4 L961.0 130.6 L962.6 128.4 L964.2 126.4 L965.7 125.1 L967.3 124.6 L968.9 121.7 L970.4 118.2 L971.9 121.2 L973.5 118.9 L975.0 117.6 L976.5 115.5 L977.5 112.9 L978.5 106.8 L979.5 106.2 L980.5 103.3 L981.5 98.7 L982.5 96.1 L984.0 95.5 L985.4 94.3 L986.9 94.9 L988.4 93.7 L989.9 90.8 L991.4 90.4 L992.9 92.3 L994.4 95.0 L995.9 94.7 L997.4 92.7 L998.2 91.2 L998.9 87.2 L999.7 85.2 L1000.4 81.3 L1001.2 78.3 L1001.9 75.8 L1003.0 83.1 L1004.2 83.1 L1005.3 85.3 L1006.4 84.7 L1007.2 90.8 L1007.9 94.4 L1008.7 94.4 L1009.4 97.6 L1010.1 93.5 L1010.9 90.8 L1011.6 87.9 L1012.4 88.6 L1013.1 84.6 L1013.9 78.3 L1015.4 78.8 L1016.9 79.4 L1018.4 72.4 L1019.9 73.4 L1021.0 70.4 L1022.1 66.7 L1023.2 61.1 L1024.4 62.7 L1025.3 63.4 L1026.2 70.0 L1027.1 70.9 L1028.0 73.9 L1028.9 77.2 L1030.1 76.4 L1031.3 71.2 L1032.5 71.7 L1033.7 69.0 L1034.9 65.5 L1036.3 58.8 L1037.8 66.4 L1039.3 63.6 L1040.8 59.9 L1042.3 57.9 L1043.8 54.9 L1045.3 48.2 L1046.8 52.7 L1048.3 56.1 L1049.8 58.1 L1051.1 58.8 L1052.4 49.2 L1053.8 46.8 L1055.1 46.0 L1056.0 49.6 L1056.9 48.7 L1057.9 51.0 L1058.8 55.6 L1059.7 54.6 L1060.6 49.5 L1061.5 46.7 L1062.4 44.2 L1063.3 39.6 L1064.4 41.7 L1065.5 46.9 L1066.7 48.3 L1067.8 52.7 L1069.3 50.0 L1070.8 55.7 L1072.3 57.7 L1073.8 60.6 L1075.0 63.9 L1076.2 70.5 L1077.4 66.5 L1078.6 72.7 L1079.8 74.4 L1081.3 70.5 L1082.8 67.4 L1084.3 65.6 L1085.7 66.8 L1087.2 67.1 L1088.7 70.7 L1090.2 67.9 L1091.7 76.3 L1093.2 81.1 L1094.7 77.7 L1095.5 85.1 L1096.2 83.7 L1097.0 90.0 L1097.7 90.1 L1098.5 95.2 L1099.2 97.7 L1100.0 100.4 L1101.8 98.4 L1103.7 95.2 L1104.8 89.1 L1106.0 85.0 L1107.1 80.5 L1108.2 79.6 L1109.3 82.2 L1110.4 82.6 L1111.6 86.4 L1112.7 89.4 L1114.2 96.2 L1115.7 94.6 L1117.2 94.6 L1118.7 98.6 L1121.1 104.0 L1122.6 100.0 L1124.1 100.7 L1125.6 101.8 L1127.0 103.6 L1128.4 106.9 L1129.8 107.3 L1131.2 106.6 L1132.9 106.3 L1134.6 105.8 L1135.3 102.7 L1136.1 101.7 L1136.8 96.3 L1138.3 89.1 L1139.8 88.6 L1141.3 87.9 L1142.8 85.6 L1144.3 83.0 L1145.8 81.7 L1146.9 79.0 L1148.0 73.0 L1149.1 70.5 L1150.8 71.3 L1152.5 72.2 L1154.2 77.6 L1155.9 79.2 L1157.0 84.7 L1158.1 82.3 L1159.2 90.4 L1160.5 90.9 L1161.9 91.5 L1163.2 96.5 L1164.5 93.2 L1165.8 91.8 L1167.1 92.3 L1168.6 90.0 L1170.1 90.5 L1171.6 92.1 L1173.3 92.3 L1174.9 90.2 L1176.4 92.1 L1177.9 91.1 L1179.4 92.6 L1181.1 95.2 L1182.8 96.2 L1184.3 95.5 L1185.8 97.3 L1187.3 96.2 L1188.8 89.6 L1190.3 91.5 L1191.7 90.4 L1193.4 91.9 L1195.1 95.9 L1196.8 93.0 L1198.5 93.7 L1200.2 88.7 L1201.8 96.4 L1202.6 89.2 L1203.3 83.0 L1204.1 80.9 L1205.6 81.7 L1207.1 78.7 L1208.6 79.0 L1209.7 83.3 L1210.8 86.4 L1211.9 83.7 L1213.6 83.4 L1215.3 82.7 L1216.6 78.5 L1217.9 80.5 L1219.2 80.1 L1220.6 84.5 L1222.0 84.0 L1222.8 88.8 L1223.5 85.6 L1224.3 91.4 L1225.9 94.8 L1227.6 97.6 L1229.3 97.6 L1231.0 92.4 L1232.1 87.5 L1233.2 85.2 L1234.3 78.6 L1236.0 75.8 L1237.7 79.4 L1239.1 73.2 L1240.5 73.6 L1241.9 73.4 L1243.3 79.5 L1245.0 79.7 L1246.7 80.9 L1248.4 78.6 L1250.0 83.7" stroke="#ff69b4"/>
</g>
<g font-family="'Liberation Sans', sans-serif" fill="#262626" opacity="0.996" style="text-rendering:geometricPrecision">
<text transform="translate(197.6 943.0) scale(1.115 1)" font-size="42.00" text-anchor="middle">0</text>
<text transform="translate(353.7 943.0) scale(1.115 1)" font-size="42.00" text-anchor="middle">100k</text>
<text transform="translate(509.4 943.0) scale(1.115 1)" font-size="42.00" text-anchor="middle">200k</text>
<text transform="translate(664.0 943.0) scale(1.115 1)" font-size="42.00" text-anchor="middle">300k</text>
<text transform="translate(820.6 943.0) scale(1.115 1)" font-size="42.00" text-anchor="middle">400k</text>
<text transform="translate(976.6 943.0) scale(1.115 1)" font-size="42.00" text-anchor="middle">500k</text>
<text transform="translate(1133.0 943.0) scale(1.115 1)" font-size="42.00" text-anchor="middle">600k</text>
<text transform="translate(1289.2 943.0) scale(1.115 1)" font-size="42.00" text-anchor="middle">700k</text>
<text transform="translate(122.6 886.1) scale(1.110 1)" font-size="42.00" text-anchor="end">0.0</text>
<text transform="translate(122.6 709.6) scale(1.110 1)" font-size="42.00" text-anchor="end">0.1</text>
<text transform="translate(122.6 533.1) scale(1.110 1)" font-size="42.00" text-anchor="end">0.2</text>
<text transform="translate(122.6 356.6) scale(1.110 1)" font-size="42.00" text-anchor="end">0.3</text>
<text transform="translate(122.6 180.1) scale(1.110 1)" font-size="42.00" text-anchor="end">0.4</text>
<text transform="translate(722.3 999.2) scale(1.080 1)" font-size="49.30" text-anchor="middle">Timesteps</text>
<text transform="translate(34.7 445.7) rotate(-90) scale(1.030 1)" font-size="49.30" text-anchor="middle">Success Rate</text>
</g>
</svg>
</body></html>
